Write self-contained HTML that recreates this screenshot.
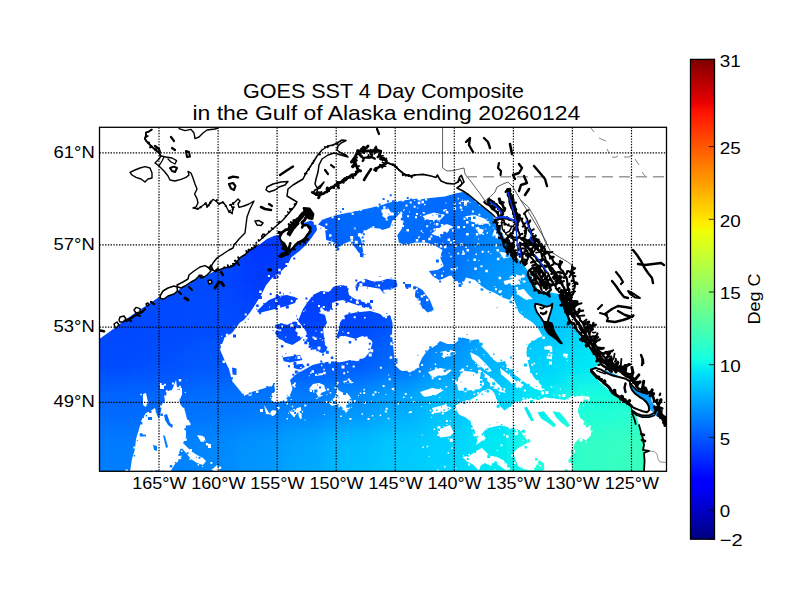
<!DOCTYPE html>
<html><head><meta charset="utf-8"><title>GOES SST</title>
<style>html,body{margin:0;padding:0;background:#fff;}svg{display:block;}text{font-family:"Liberation Sans",sans-serif;fill:#000;}</style></head><body>
<svg width="800" height="600" viewBox="0 0 800 600">
<rect width="800" height="600" fill="#fff"/>
<defs>
<clipPath id="fr"><rect x="99.5" y="127.3" width="567" height="344"/></clipPath>
<linearGradient id="jet" x1="0" y1="1" x2="0" y2="0">
<stop offset="0" stop-color="#000080"/>
<stop offset="0.11" stop-color="#0000ff"/>
<stop offset="0.125" stop-color="#0000ff"/>
<stop offset="0.34" stop-color="#00dbff"/>
<stop offset="0.35" stop-color="#00e5f7"/>
<stop offset="0.375" stop-color="#15ffe2"/>
<stop offset="0.64" stop-color="#efff08"/>
<stop offset="0.65" stop-color="#f7f600"/>
<stop offset="0.66" stop-color="#ffec00"/>
<stop offset="0.89" stop-color="#ff1300"/>
<stop offset="0.91" stop-color="#e80000"/>
<stop offset="1" stop-color="#800000"/>
</linearGradient>
<filter id="bl" x="-10%" y="-10%" width="120%" height="120%"><feGaussianBlur stdDeviation="12"/></filter>
<mask id="dm" maskUnits="userSpaceOnUse" x="0" y="0" width="800" height="600"><rect width="800" height="600" fill="#000"/>
<path d="M98 340 L112 330 L125 320 L135 313 L147 305 L160 296.5 L164 298.6 L168 296 L174 294 L177.5 291 L181 288 L188 284 L195 280 L201 275 L207 275 L215 271 L225 268 L235 264 L243 256 L249 251 L255 247 L259 245 L267 239 L275 235.5 L281 235 L295 226 L311 220.5 L316 223.5 L317 230 L311.5 238 L306 245 L299.5 251 L291.2 257.5 L287.5 265 L280 272.5 L272.5 277.5 L266.2 285 L261.2 295 L255 305 L250 312.5 L243.8 320 L240 322.5 L232 333 L224.5 337.5 L220 349.5 L224.5 360 L229 369 L232 381 L239.5 390 L244 396 L253 391.5 L263.5 388.5 L272.5 385.5 L273.8 382.5 L275 390 L271 400 L275 402.5 L282.5 401 L290 395 L292.5 388.8 L290 380 L295 375 L303.8 370 L312.5 365 L322.5 362.5 L332.5 361.2 L340 362.5 L350 360 L357.5 361.2 L365 357.5 L370 351.2 L372.5 342.5 L371 340 L362.5 336 L355 338.8 L345 336 L336 337.5 L338.8 330 L340 322.5 L345 315 L355 312.5 L370 311 L380 313.8 L383.8 317.5 L390 315 L392.5 322.5 L392 335 L393.8 352.5 L395 365 L400 370 L410 372.5 L417.5 368 L422 358 L427.5 350 L435 346 L440 341 L447.5 344 L454 344 L462.5 337.5 L472.5 340 L479 339 L480 345 L487.5 352.5 L492.5 359 L497.5 362.5 L505 361 L507.5 367.5 L515 375 L525 382.5 L535 389 L545 390 L575 396 L575 473 L98 473Z" fill="#fff"/>
<path d="M512.5 295 L516 305 L518.8 312.5 L525 317.5 L532.5 322.5 L537.5 327.5 L542.5 336 L535 340 L528.8 343.8 L526 350 L527.5 360 L530 370 L533.8 377.5 L540 383.8 L545 390 L555 395 L565 397.5 L573 395.5 L590 397 L579.5 404 L577.5 411 L580 418 L583.8 421 L590 427.5 L591 435 L586 440 L580 437.5 L575 442.5 L572.5 452.5 L570 460 L572.5 467.5 L572.5 473 L644 473 L644 461 L644 453 L643 450 L644 445 L643 439 L641 432 L639 425 L637 418 L635 412 L631 407.5 L625.8 402.2 L620.5 398.8 L615.2 395.2 L610 391 L604.8 386.5 L599.5 382 L596 377.8 L593.4 373.4 L590.8 370.4 L599.5 364 L594 355 L587 346 L580 336 L573 325 L566.5 312.5 L562 301 L559 294 L548 292 L540 291 L538 290 L531 276 L524 265 L515 256 L506 241 L499 227 L494 218 L491 213.5 L486 209 L481 205 L475 200 L469 195 L463 192 L455 193.5 L445 196.5 L430 198 L416 200 L410 204 L405 207.5 L401 212.5 L403.8 222.5 L401 230 L397.5 235 L398.8 242.5 L405 245 L415 242.5 L426 242.5 L433.8 245 L442.5 250 L440 257.5 L443.8 266 L437.5 270 L428.8 271 L432.5 276 L438.8 280 L442.5 279 L451 275 L455 281 L462.5 285 L466 277.5 L475 280 L480 285 L487.5 290 L494 292.5 L502.5 297.5 L510 300Z" fill="#fff"/>
<path d="M318 224.5 L322.5 219.5 L335 215.5 L352.5 211.8 L370 208 L383.8 204.5 L390 202.5 L400 203.5 L402 207 L400 210 L397.5 216 L392.5 220 L390 227.5 L382.5 230 L380 228.8 L370 227.5 L363.8 232.5 L355.5 237.5 L358 243 L361 248.8 L364 256.5 L360 253.8 L355 247.5 L351.2 242.5 L350 241.2 L341.2 245 L338.8 250 L335 242.5 L326.2 240 L325 227.5Z" fill="#fff"/>
<path d="M385 204 L392.5 202 L417.5 198.5 L417.5 210 L405 213.8 L395 215 L385 212.5Z" fill="#fff"/>
<path d="M350 231 L357.5 232.5 L361.2 240 L363.8 255 L358.8 252.5 L353.8 243.8 L351.2 237.5Z" fill="#fff"/>
<path d="M257 311 L263 305 L269 300 L279 296 L287 295 L297 298 L295 303 L289 305 L283 307 L275 309 L267 311 L259 313Z" fill="#fff"/>
<path d="M298 321 L303 309 L307 303 L313 295 L321 291 L329 292 L333 287 L339 285 L347 286 L349 295 L355 299 L363 302 L370 303 L371 307 L364 308 L357 305 L351 303 L343 300 L337 301 L332 303 L332 309 L325 311 L321 307 L319 313 L325 315 L327 323 L323 329 L324 337 L325 345 L329 349 L323 353 L315 351 L309 345 L305 339 L307 333 L303 327Z" fill="#fff"/>
<path d="M275 325 L281 323 L287 325 L295 321 L298 325 L295 331 L298 335 L303 337 L299 341 L291 339 L285 341 L279 339 L275 333 L277 329Z" fill="#fff"/>
<path d="M357.5 282.5 L365 278.8 L372.5 281.2 L380 281.2 L387.5 278.8 L396.2 280 L397.5 286.2 L390 290 L383.8 293.8 L380 288.8 L372.5 287.5 L365 286.2 L358.8 286.2 L357 291 L355 287Z" fill="#fff"/>
<path d="M416.2 286.2 L422.5 290 L430 300 L433.8 310 L427.5 312.5 L420 305 L415 295Z" fill="#fff"/>
<path d="M405 284 L411 284 L411 287.5 L405 287.5Z" fill="#fff"/>
<path d="M280 330 L290 327.5 L297.5 332.5 L300 340 L292.5 345 L285 342.5 L280 337.5Z" fill="#fff"/>
<path d="M306.2 332.5 L312.5 335 L320 342.5 L325 351.2 L320 352.5 L313.8 346.2 L307.5 340Z" fill="#fff"/>
<path d="M282.5 357.5 L300 355 L302.5 360 L290 362.5 L283.8 361.2Z" fill="#fff"/>
<path d="M293.8 365 L302.5 363.8 L305.5 367.5 L298.8 369.5 L293.8 368Z" fill="#fff"/>
<path d="M482.5 432.5 L487.5 427.5 L497.5 426.2 L507.5 427.5 L517.5 430 L525 436.2 L528.8 442.5 L522.5 441.2 L515 437.5 L507.5 436.2 L500 435 L492.5 436.2 L486.2 437.5Z" fill="#fff"/>
<path d="M130 472 L132 459 L135 449 L136 439 L139 429 L142 419 L146 413 L152 410 L155 408 L157 415 L159 419 L161 411 L162 404 L165 401 L164 395 L168 391 L172 390 L176 380 L177 387 L182 388 L182 395 L179 400 L181 405 L185 411 L187 419 L190 423 L186 429 L186 437 L183 443 L187 447 L191 451 L197 455 L203 458 L206 461 L203 465 L197 463 L191 459 L186 453 L181 447 L179 453 L181 459 L175 464 L170 472Z" fill="#000"/>
<path d="M143 394 L146 393 L148 402 L146 407 L143 405Z" fill="#000"/>
<path d="M160 385 L164 385 L164 389 L160 389Z" fill="#000"/>
<path d="M197 435 L203 436 L206 441 L201 442Z" fill="#000"/>
<path d="M208 444 L211 444 L211 448 L208 448Z" fill="#000"/>
<path d="M209 472 L217 465 L220 472Z" fill="#000"/>
<path d="M264 405 L266 414 L275 415 L277 411 L273 410 L269 413 L266 408Z" fill="#000"/>
<path d="M289 411 L294 412 L297 408 L301 407 L302 421 L299 417 L298 412 L294 417 L291 414Z" fill="#000"/>
<path d="M309 389 L313 384 L319 383 L324 385 L326 391 L321 393 L319 398 L315 391Z" fill="#000"/>
<path d="M329 403 L335 397 L337 389 L341 392 L347 393 L351 398 L347 402 L350 408 L346 413 L343 408 L338 404 L332 406Z" fill="#000"/>
<path d="M315 374 L323 373 L323 375 L315 376Z" fill="#000"/>
<path d="M343 381 L351 380 L352 383 L344 383.4Z" fill="#000"/>
<path d="M422.5 216.2 L433.8 212.5 L445 215 L440 220 L430 220 L425 218.8Z" fill="#000"/>
<path d="M431.2 233.8 L440 227.5 L446.2 223.8 L452.5 226.2 L447.5 232.5 L437.5 236.2Z" fill="#000"/>
<path d="M465 216.2 L475 215 L485 218.8 L490 223.8 L480 223.8 L470 221.2Z" fill="#000"/>
<path d="M457.5 197.5 L467.5 201.2 L466.2 206.2 L458.8 203.8Z" fill="#000"/>
<path d="M475 227.5 L485 230 L480 235Z" fill="#000"/>
<path d="M516.2 275 L525 276.2 L523.8 281.2 L517.5 280Z" fill="#000"/>
<path d="M500 302.5 L503.8 301.2 L504.5 307.5 L500 308.8Z" fill="#000"/>
<path d="M494.5 229.2 L499 233.8 L496.8 238.2 L492.2 236Z" fill="#000"/>
<path d="M499 251.8 L508 252.9 L511.4 257.4 L503.5 258.5Z" fill="#000"/>
<path d="M503.5 281 L512.5 278.8 L515.9 274.2 L523.8 277.6 L526 282.1 L517 284.4 L510.2 285.5 L504.6 284.4Z" fill="#000"/>
<path d="M515.9 290 L523.8 288.9 L528.2 294.5 L532.8 299 L526 300.1 L519.2 295.6Z" fill="#000"/>
<path d="M547 346.2 L552.2 346.2 L552.2 349.8 L547 349.8Z" fill="#000"/>
<path d="M562.8 353.2 L568 354.1 L567.1 358.5 L563.6 357.6Z" fill="#000"/>
<path d="M547.9 353.2 L552.2 354.1 L551.9 359.4 L548.4 358.5Z" fill="#000"/>
<path d="M381.2 210 L387.5 207.5 L391.2 212.5 L386.2 218.8 L382.5 216.2Z" fill="#000"/>
<path d="M455.8 405.2 L462.5 401.5 L471.5 399.2 L477.5 395.5 L482 391 L489.5 388.8 L494 392.5 L497 400 L500 406 L504.5 410.5 L510.5 406 L513.5 403 L517.5 402.5 L522.5 400 L530 398.8 L538.8 400 L545 397.5 L555 398.8 L565 400 L572.5 396.2 L573 395.5 L590 397 L579.5 404 L577.5 411 L580 418 L583.8 421 L590 427.5 L591 435 L586 440 L580 437.5 L575 442.5 L572.5 452.5 L570 460 L572.5 467.5 L572.5 473 L545 473 L543.5 463 L539 460 L536 466 L530 470.5 L524 469 L518 466 L515 458.5 L513.5 452.5 L518 448 L524 445 L528.5 442 L524 436 L519.5 430 L513.5 428.5 L507.5 427 L500 425.5 L492.5 427 L486.5 428.5 L482.8 433 L485 437.5 L480.5 442 L476 445 L477.5 440.5 L476 434.5 L473 427 L470 421 L465.5 417.2 L459.5 415 L456.5 410.5Z" fill="#000"/>
<path d="M462.5 457 L470 455.5 L476 451 L482 448 L485 451 L489.5 455.5 L497 457 L503 460 L507.5 464.5 L510.5 469 L506 470.5 L500 466 L495.5 463 L491 466 L485 463 L480.5 466 L479 470.5 L473 464.5 L467 461.5Z" fill="#000"/>
<path d="M437.5 430 L450 425 L453.8 432.5 L450 436.2 L440 437.5Z" fill="#000"/>
<path d="M457 384 L459 376 L464 371 L474 372 L481 377 L484 384 L480 389 L472 390 L464 391 L458 390Z" fill="#000"/>
<path d="M470 352 L478 356 L486 364 L492 371 L488 372 L480 366 L472 359Z" fill="#000"/>
<path d="M500 368 L508 374 L516 381 L522 388 L517 388 L509 381 L501 374Z" fill="#000"/>
<path d="M483 372 L492 378 L500 386 L506 393 L500 392 L492 385 L484 378Z" fill="#000"/>
<path d="M440 352 L450 350 L458 352 L452 356 L442 357Z" fill="#000"/>
<path d="M428 372 L440 368 L452 370 L446 375 L432 377Z" fill="#000"/>
<path d="M420 392 L432 388 L444 390 L436 395 L424 397Z" fill="#000"/>
<path d="M432 408 L444 405 L452 408 L446 412 L434 413Z" fill="#000"/>
<path d="M537.5 412.5 L543.8 411.2 L550 418.8 L556.2 425 L553.8 427.5 L547.5 422.5 L541.2 418.8Z" fill="#fff"/>
<path d="M552.5 411.2 L560 412.5 L566.2 420 L570 425 L567.5 427.5 L561.2 422.5 L556.2 417.5Z" fill="#fff"/>
<path d="M232 367.5 L236.5 368.4 L236.5 375 L232.6 374.4Z" fill="#fff"/>
<path d="M164 415 L167 414 L170 423 L173 425 L172 428 L168 425 L165 420Z" fill="#fff"/>
<path d="M148 417 L152 417 L152 420 L148 420Z" fill="#fff"/>
<path d="M163 435 L165 436 L168 447 L166 448Z" fill="#fff"/>
<path d="M140 434.6 L146 434.6 L146 436.4 L140 436.4Z" fill="#fff"/>
<path d="M153 445 L157 446 L157 451 L154 450Z" fill="#fff"/>
<path d="M524 407.5 L527 407 L531 414 L534 421 L531 421 L527 414Z" fill="#fff"/>
<path d="M299.8 255.2h1v1h-1zM285.5 263.1h3v3h-3zM278.2 268.7h2.5v2.5h-2.5zM267.9 274.9h2v2h-2zM267.5 287h1v1h-1zM259.2 290.5h2.5v2.5h-2.5zM257.3 300.9h1v1h-1zM244.7 313.4h2v2h-2zM233.5 325.8h1v1h-1zM225.9 333.8h2.5v2.5h-2.5zM221.3 335.7h1v1h-1zM220.6 344.1h2.5v2.5h-2.5zM221.7 351.3h1v1h-1zM223.6 351.8h2.5v2.5h-2.5zM222.5 360.6h2.5v2.5h-2.5zM248.5 392.8h3v3h-3zM250.5 389.2h1.5v1.5h-1.5zM255 389.3h1v1h-1zM255.9 390.4h2.5v2.5h-2.5zM258.8 382.2h3v3h-3zM270.3 385.1h1.5v1.5h-1.5zM270.4 382.2h2v2h-2zM271.7 392.9h3v3h-3zM270.2 396.9h1v1h-1zM271.8 398.8h1.5v1.5h-1.5zM278.1 401.6h1v1h-1zM284.2 398.4h3v3h-3zM294.1 386.1h1.5v1.5h-1.5zM292.5 383.9h2.5v2.5h-2.5zM288.9 374.7h2v2h-2zM303.6 367.3h1.5v1.5h-1.5zM305.3 367.3h1v1h-1zM311.5 370.3h2.5v2.5h-2.5zM311.6 360.3h2.5v2.5h-2.5zM317.3 360.7h1v1h-1zM320.9 364.7h1.5v1.5h-1.5zM323.3 361.8h1.5v1.5h-1.5zM328.5 361h2.5v2.5h-2.5zM341.5 365.5h3v3h-3zM346.5 362.9h1.5v1.5h-1.5zM349.1 356.9h2v2h-2zM351.4 360h1v1h-1zM357.5 359.4h1v1h-1zM368.7 353.4h3v3h-3zM370.2 349.2h3v3h-3zM365.1 336.6h2.5v2.5h-2.5zM362.5 339.2h2v2h-2zM347.3 332.1h2v2h-2zM342.4 331.2h1v1h-1zM340.5 336.1h2.5v2.5h-2.5zM337.4 326.7h1.5v1.5h-1.5zM336.1 325h2v2h-2zM342.3 316.8h2.5v2.5h-2.5zM343.5 312.5h1v1h-1zM352.6 310.4h2v2h-2zM353.7 316.2h2v2h-2zM364.1 317.1h1.5v1.5h-1.5zM365.2 307.3h2v2h-2zM376.3 310.6h2v2h-2zM378.5 311.6h2v2h-2zM385 316.3h2v2h-2zM393.4 327h3v3h-3zM390.3 334.8h2.5v2.5h-2.5zM390.2 342.3h3v3h-3zM389.7 356.2h2.5v2.5h-2.5zM400 364.3h2.5v2.5h-2.5zM401.6 368.1h3v3h-3zM409.6 374.4h1v1h-1zM413.5 369h1.5v1.5h-1.5zM413.9 366.1h2.5v2.5h-2.5zM416.7 365.2h2.5v2.5h-2.5zM421.1 363.9h2v2h-2zM426.4 349.3h1.5v1.5h-1.5zM431.1 346.5h1.5v1.5h-1.5zM430.4 342.9h2.5v2.5h-2.5zM435.8 343.6h1.5v1.5h-1.5zM455.6 335.3h3v3h-3zM464.1 329.1h1v1h-1zM469.5 341.5h1v1h-1zM469.6 337.5h3v3h-3zM478.2 337.8h2v2h-2zM483.3 354h1v1h-1zM495.7 347.4h2v2h-2zM496.9 355.1h2.5v2.5h-2.5zM506.4 366h2v2h-2zM509.2 373.6h3v3h-3zM516.9 380.8h2v2h-2zM518.1 381.7h2.5v2.5h-2.5zM524.2 380.5h1v1h-1zM537.3 387.5h2.5v2.5h-2.5zM539.4 387.5h3v3h-3zM541.1 391.6h3v3h-3zM514.6 315.1h2v2h-2zM521.1 311.5h1v1h-1zM526 324.6h3v3h-3zM537.8 330.9h2v2h-2zM542.3 336.4h2.5v2.5h-2.5zM530 348h1v1h-1zM523.7 348.7h3v3h-3zM526.6 357.1h3v3h-3zM525.1 358.7h1v1h-1zM527 371.7h1v1h-1zM545.4 391h3v3h-3zM550.8 386.2h1.5v1.5h-1.5zM553.4 394.4h1v1h-1zM559.9 388.8h1v1h-1zM558.4 394.7h2v2h-2zM562.3 393.9h3v3h-3zM570.7 395.9h1v1h-1zM425.1 198.4h2v2h-2zM421.9 194.6h2v2h-2zM418.8 198.5h2v2h-2zM414.2 200h1v1h-1zM405.5 204.5h2v2h-2zM403.2 210.1h1v1h-1zM399.1 213.6h3v3h-3zM407.1 215.2h2v2h-2zM402 225.1h2v2h-2zM400.1 227.8h1.5v1.5h-1.5zM405.6 243.5h1.5v1.5h-1.5zM412.5 246.6h2v2h-2zM417.9 248.2h1.5v1.5h-1.5zM419 246.6h1.5v1.5h-1.5zM423.1 240.6h2v2h-2zM425 244.5h1v1h-1zM428.3 237.7h2.5v2.5h-2.5zM429.9 243.9h2.5v2.5h-2.5zM434.4 243.1h1v1h-1zM435.5 243.5h2v2h-2zM438.8 251.2h1v1h-1zM448.7 252.7h1v1h-1zM441.1 255.7h1v1h-1zM437.5 255.7h3v3h-3zM421.8 273h2.5v2.5h-2.5zM433.8 274h2v2h-2zM431.7 279.2h3v3h-3zM448.6 280.5h1.5v1.5h-1.5zM455.7 281h2v2h-2zM462.2 281.5h2v2h-2zM478.2 279.5h1.5v1.5h-1.5zM478.8 283.9h1.5v1.5h-1.5zM499 290.4h2v2h-2zM499.8 290.3h2v2h-2zM500.7 295.3h1.5v1.5h-1.5zM313.8 221.8h3v3h-3zM323.4 218.5h1v1h-1zM325.4 223.5h2v2h-2zM326.4 213.9h1v1h-1zM331.6 216.3h2v2h-2zM337.9 218h2v2h-2zM349.7 209.6h3v3h-3zM351.7 212.9h2v2h-2zM351.8 205.2h2v2h-2zM356.1 207.8h3v3h-3zM360.1 209.6h1.5v1.5h-1.5zM361.4 208.8h1v1h-1zM362.1 205.8h3v3h-3zM372.6 202.9h2.5v2.5h-2.5zM377.1 205.3h2v2h-2zM384 200.4h1.5v1.5h-1.5zM401.7 200.6h1v1h-1zM378.7 228.5h1v1h-1zM377.1 229.9h2v2h-2zM373.3 229.9h1v1h-1zM372.3 226.2h2v2h-2zM368.5 229.8h1.5v1.5h-1.5zM363.5 230.2h3v3h-3zM358 234.9h1.5v1.5h-1.5zM356.1 240.8h1v1h-1zM351.1 248.9h2.5v2.5h-2.5zM354.7 240.7h3v3h-3zM349.7 241.7h1v1h-1zM347.3 243.8h2v2h-2zM338.5 246.5h2v2h-2zM339 244h1v1h-1zM331.2 239.6h1v1h-1zM329 234.3h2.5v2.5h-2.5zM324.7 228.9h2.5v2.5h-2.5zM323.4 228.3h1v1h-1zM397.1 201h1v1h-1zM402.6 200.1h1.5v1.5h-1.5zM408.4 195.9h3v3h-3zM414.6 194.9h2v2h-2zM417.7 199.3h1v1h-1zM417.8 201.7h2.5v2.5h-2.5zM417.2 207.6h1v1h-1zM415.9 213h2v2h-2zM409 211.6h1v1h-1zM403.7 209.1h1v1h-1zM400.3 211.7h2v2h-2zM398 212h1v1h-1zM390.8 212.6h3v3h-3zM388.3 213h2.5v2.5h-2.5zM353.6 227.6h2v2h-2zM357.9 232.9h3v3h-3zM362.3 252.1h1v1h-1zM356 252.7h1v1h-1zM359.2 245.1h2v2h-2zM351.8 243.3h1v1h-1zM350.7 239.3h2.5v2.5h-2.5zM350.2 236h3v3h-3zM258.4 305.3h2v2h-2zM275.2 299.6h2.5v2.5h-2.5zM280.3 296.3h1v1h-1zM290.8 299.9h2v2h-2zM288.5 306.1h2v2h-2zM283.5 306.9h1v1h-1zM277.1 305.3h3v3h-3zM279.2 310.6h1.5v1.5h-1.5zM268.9 306.6h1v1h-1zM265.3 314.4h1v1h-1zM294.4 317.5h2v2h-2zM303.3 311.1h1v1h-1zM304.7 309.6h1v1h-1zM312.3 300.8h1v1h-1zM311.6 295h1.5v1.5h-1.5zM311.2 287.9h2v2h-2zM320.6 288h2v2h-2zM323.1 292h2v2h-2zM330.1 289.4h1v1h-1zM331.5 287.2h1v1h-1zM337 282.4h3v3h-3zM340.1 286h1v1h-1zM350.1 292.8h1v1h-1zM350.3 299.1h1.5v1.5h-1.5zM357.3 298.4h2v2h-2zM365.1 301.8h2v2h-2zM361.3 307.7h2.5v2.5h-2.5zM358.9 305.2h3v3h-3zM355.9 300.8h3v3h-3zM351.3 297.6h1v1h-1zM338.4 302h1v1h-1zM322.7 305.9h2v2h-2zM318 305h2v2h-2zM327.1 317.8h1v1h-1zM328.3 322.7h2v2h-2zM320.7 331.2h2v2h-2zM324.8 335.1h1v1h-1zM326.6 348.1h3v3h-3zM319.2 349.6h1v1h-1zM313.9 349.6h2.5v2.5h-2.5zM306.2 333.7h1v1h-1zM303 329.5h1.5v1.5h-1.5zM303.8 324h1v1h-1zM278.8 322.9h1v1h-1zM284.2 322.1h1.5v1.5h-1.5zM287.7 321.4h1.5v1.5h-1.5zM294.1 320.5h1v1h-1zM290.4 324.2h3v3h-3zM298.2 329.4h1v1h-1zM300.1 335.4h2v2h-2zM303.1 339.3h1.5v1.5h-1.5zM276.6 329.1h2v2h-2zM361.1 279.9h1.5v1.5h-1.5zM362.2 279.5h3v3h-3zM374.3 281.2h1v1h-1zM376.4 277.1h1v1h-1zM382.2 281h1v1h-1zM390.7 287.8h1v1h-1zM386.5 289.6h3v3h-3zM383.4 289.8h3v3h-3zM378.1 284.4h2v2h-2zM375.6 285.6h1v1h-1zM370.7 288.2h2v2h-2zM362.9 286.7h2v2h-2zM359.4 283.3h3v3h-3zM354.4 285h2v2h-2zM353.1 284.9h2.5v2.5h-2.5zM421.2 282.4h1v1h-1zM428.6 292.7h1v1h-1zM426 298.8h2.5v2.5h-2.5zM431 299.1h2.5v2.5h-2.5zM434.5 300.2h2v2h-2zM423.5 312.9h2v2h-2zM419.9 304.4h2.5v2.5h-2.5zM417.6 300.6h3v3h-3zM417.2 298.2h1.5v1.5h-1.5zM415.1 287.8h2.5v2.5h-2.5zM406.6 281.4h1.5v1.5h-1.5zM410.5 290h3v3h-3zM279.2 329.6h2v2h-2zM281.1 325.6h2v2h-2zM291 322.4h1v1h-1zM297.3 333.8h2.5v2.5h-2.5zM292.1 346.8h2v2h-2zM288 346.3h2v2h-2zM280 340.8h2v2h-2zM285.3 336.5h1v1h-1zM315.3 330.5h1v1h-1zM312.5 336.6h2v2h-2zM314.2 337.5h2.5v2.5h-2.5zM319.7 338h1v1h-1zM321.8 339.7h1v1h-1zM317.5 346.4h3v3h-3zM317.1 351.3h2v2h-2zM306.3 341.8h2.5v2.5h-2.5zM304.9 336.9h2.5v2.5h-2.5zM287.6 358.5h1v1h-1zM295.6 348.5h2.5v2.5h-2.5zM297.4 356h3v3h-3zM299.4 357.9h1v1h-1zM295.3 357.5h1v1h-1zM280.8 361.5h2v2h-2zM305.3 365.6h1v1h-1zM299 370.6h1.5v1.5h-1.5zM489.9 424.7h2v2h-2zM508.6 424.1h2v2h-2zM508.8 426.2h2.5v2.5h-2.5zM515.3 425.5h2v2h-2zM515.6 429h2v2h-2zM522.6 440.1h1v1h-1zM514.6 432.2h3v3h-3zM506 435.2h2.5v2.5h-2.5zM503.5 433.9h1.5v1.5h-1.5zM125.4 469.6h2.5v2.5h-2.5zM130.7 470.2h1v1h-1zM134.9 465.4h1.5v1.5h-1.5zM135.6 449.6h3v3h-3zM133.4 446.4h2v2h-2zM150.8 410.4h2v2h-2zM159.4 417.1h1v1h-1zM160.1 405.4h2v2h-2zM166.6 397.9h1v1h-1zM165.7 394.8h1v1h-1zM165.8 390.2h2v2h-2zM172 382.5h2v2h-2zM178.7 378.9h2.5v2.5h-2.5zM178.9 385.8h2v2h-2zM184.7 392.1h1v1h-1zM178.7 396.2h2v2h-2zM179.2 399.4h1v1h-1zM181.4 407.8h3v3h-3zM187.2 420.2h2v2h-2zM188 422.7h2.5v2.5h-2.5zM186.1 438.4h1v1h-1zM184.1 438.6h2.5v2.5h-2.5zM181.7 445.1h1v1h-1zM189.5 448.9h2.5v2.5h-2.5zM210.3 462.1h2v2h-2zM202.2 466h1v1h-1zM197.6 464h1.5v1.5h-1.5zM189.4 458.5h1.5v1.5h-1.5zM179.9 455.6h1.5v1.5h-1.5zM179.3 445.8h3v3h-3zM181 450.6h1.5v1.5h-1.5zM173.4 452.6h3v3h-3zM179.8 457.6h1.5v1.5h-1.5zM173.7 460.3h2.5v2.5h-2.5zM165.9 469.3h1v1h-1zM159.5 471.5h2v2h-2zM153.1 469.5h1.5v1.5h-1.5zM148.1 472.4h1v1h-1zM129.8 470.3h3v3h-3zM143.8 394.4h2v2h-2zM140.3 393.7h1.5v1.5h-1.5zM146.7 400.9h1.5v1.5h-1.5zM142.9 396.1h2v2h-2zM159.6 383h2v2h-2zM163.9 383.8h2v2h-2zM205.9 442.9h2.5v2.5h-2.5zM202.1 437h2.5v2.5h-2.5zM218.7 466.5h2.5v2.5h-2.5zM219.2 467.5h1.5v1.5h-1.5zM215.8 472.5h1v1h-1zM260 409h3v3h-3zM266.1 411.7h2v2h-2zM270.6 411.2h1.5v1.5h-1.5zM271.6 413.9h2v2h-2zM277 406.8h2.5v2.5h-2.5zM271.6 412.7h2v2h-2zM266.7 411.4h1v1h-1zM291.4 409.7h1v1h-1zM293.4 409.1h1.5v1.5h-1.5zM304.3 404.6h2v2h-2zM299.6 409.4h1v1h-1zM293 414.7h2v2h-2zM309.4 389.6h1.5v1.5h-1.5zM326.5 394.2h1v1h-1zM319.8 394.7h1.5v1.5h-1.5zM316.9 397.4h1v1h-1zM310 389.9h2v2h-2zM325.3 401h2v2h-2zM340.3 391.6h1v1h-1zM348.6 400.2h3v3h-3zM342.5 408.2h2v2h-2zM338.3 405.2h2v2h-2zM337.2 401.4h2v2h-2zM323.2 371.8h2.5v2.5h-2.5zM347.8 378.4h2v2h-2zM422.7 212.1h2v2h-2zM427 214.3h1v1h-1zM439 220.6h1v1h-1zM436.3 219.4h2v2h-2zM433 220h1.5v1.5h-1.5zM429.9 222.2h1v1h-1zM424.7 218.3h1.5v1.5h-1.5zM430.3 235.5h2v2h-2zM430.3 230.5h1v1h-1zM433.4 228.4h2v2h-2zM435.9 227.9h3v3h-3zM440.8 229.1h2.5v2.5h-2.5zM440.9 224.1h2.5v2.5h-2.5zM452.2 226.3h1v1h-1zM439 235.3h2v2h-2zM437 231.3h2v2h-2zM463.5 217.8h2v2h-2zM466.8 216.7h2v2h-2zM471.9 210.4h2v2h-2zM481.2 219.7h3v3h-3zM488.8 224.3h1.5v1.5h-1.5zM488.3 221h1v1h-1zM481.9 223.6h1.5v1.5h-1.5zM478.4 222h3v3h-3zM477.2 221.4h2v2h-2zM475.2 222.2h2v2h-2zM466.8 200.2h2v2h-2zM464.7 203.8h2v2h-2zM476.7 226.9h2.5v2.5h-2.5zM482.4 233.5h1.5v1.5h-1.5zM522 274.4h2.5v2.5h-2.5zM523.7 279.7h1v1h-1zM511.5 277.1h1v1h-1zM501.5 301.4h1.5v1.5h-1.5zM502 303.5h2v2h-2zM500.4 256.4h1v1h-1zM504.4 253.5h1.5v1.5h-1.5zM508.8 275.9h2v2h-2zM511.3 275.2h3v3h-3zM518.3 282.4h2v2h-2zM513.3 283.6h2v2h-2zM515.7 287.1h2.5v2.5h-2.5zM521.8 289.9h2v2h-2zM529.7 297.9h1v1h-1zM522.5 293.7h2v2h-2zM516.6 292.8h2v2h-2zM544.3 346.5h3v3h-3zM547.6 345.8h3v3h-3zM549.8 349.8h2.5v2.5h-2.5zM563.2 354.5h3v3h-3zM566.8 360.3h1v1h-1zM550.8 354h1.5v1.5h-1.5zM549 361.6h3v3h-3zM546.7 355.8h3v3h-3zM383.2 206.3h2.5v2.5h-2.5zM388.1 210h1v1h-1zM386.2 214.1h2v2h-2zM385.7 218.4h2v2h-2zM453.3 403.6h1v1h-1zM477.2 392.3h2v2h-2zM490.1 383.4h3v3h-3zM489.7 390.8h3v3h-3zM499.3 411h2v2h-2zM514.1 403.4h2v2h-2zM515.6 401.4h3v3h-3zM522.5 397.5h2v2h-2zM526.6 397.9h1.5v1.5h-1.5zM529.9 397.8h2v2h-2zM534.9 398.6h1v1h-1zM538.3 395.9h1.5v1.5h-1.5zM544.2 397.5h2.5v2.5h-2.5zM547.2 397.8h1v1h-1zM552.7 398.2h2v2h-2zM559 395.7h1.5v1.5h-1.5zM563 400.3h1.5v1.5h-1.5zM564.5 394.4h1v1h-1zM570.3 397.5h2v2h-2zM581.7 394.4h1v1h-1zM587 391.7h1v1h-1zM586.6 398h3v3h-3zM582.8 404.9h1v1h-1zM579.4 408h1.5v1.5h-1.5zM588.9 425.5h2v2h-2zM590.9 430.8h1.5v1.5h-1.5zM585.9 441.3h1v1h-1zM579.5 438.4h3v3h-3zM579.6 435.4h2.5v2.5h-2.5zM574.1 441.3h1v1h-1zM571.9 449.7h3v3h-3zM570.7 472.2h3v3h-3zM569.9 475.4h2v2h-2zM555.3 472.4h2v2h-2zM550.3 475h2v2h-2zM549.6 470.5h2v2h-2zM542.3 470.4h3v3h-3zM543.8 469.4h2v2h-2zM539.6 465h1.5v1.5h-1.5zM540.8 458.4h1v1h-1zM537 463.3h1.5v1.5h-1.5zM532.9 465.6h2.5v2.5h-2.5zM531.5 467.4h2.5v2.5h-2.5zM518.2 463.6h1v1h-1zM513.5 462h2v2h-2zM511.1 454.7h2v2h-2zM527.8 439.7h1.5v1.5h-1.5zM498.8 427.9h1v1h-1zM486.3 428.9h1v1h-1zM484.1 437.4h1.5v1.5h-1.5zM481.5 437.6h3v3h-3zM473.4 433.7h2.5v2.5h-2.5zM474.6 428.8h1.5v1.5h-1.5zM471.4 427.5h2v2h-2zM464.6 416.2h1v1h-1zM462.7 411.3h3v3h-3zM454.2 408.4h2v2h-2zM462.9 455.2h1v1h-1zM469.3 455.9h1.5v1.5h-1.5zM481.3 448h1v1h-1zM482.4 451.3h2v2h-2zM501.9 460.4h2v2h-2zM468.1 463.5h2v2h-2zM437.4 426.2h3v3h-3zM443.5 426.1h1v1h-1zM446.3 424.1h1v1h-1zM449.8 438.8h3v3h-3zM447.8 438.3h1v1h-1zM442.9 434.4h2.5v2.5h-2.5zM437.4 433.9h2v2h-2zM439.8 430.2h2v2h-2zM455.5 381.8h2.5v2.5h-2.5zM461.2 368.5h3v3h-3zM464.6 371.6h2.5v2.5h-2.5zM478.1 369.7h3v3h-3zM477.5 373h3v3h-3zM479.7 379.3h2v2h-2zM480.8 382.2h3v3h-3zM472.3 389.2h2v2h-2zM471.9 388.1h2.5v2.5h-2.5zM464.5 390.2h2v2h-2zM483.8 369.2h1v1h-1zM478.5 365.5h2v2h-2zM477.4 363.2h2v2h-2zM475.1 363.1h1v1h-1zM502.5 365h1.5v1.5h-1.5zM502.9 373h2v2h-2zM519.9 380.7h1.5v1.5h-1.5zM520.2 383.2h3v3h-3zM518.4 384.1h3v3h-3zM510.8 381.6h2v2h-2zM501.3 371.7h3v3h-3zM493.5 379.5h1v1h-1zM502.7 387.9h2.5v2.5h-2.5zM498.5 393.3h1.5v1.5h-1.5zM493.7 387.1h2v2h-2zM443.1 356h2v2h-2zM430.1 368.4h1v1h-1zM434.9 368.6h3v3h-3zM435.1 367.2h1.5v1.5h-1.5zM446.1 368.3h1v1h-1zM443 373.1h1.5v1.5h-1.5zM438.2 374.3h1.5v1.5h-1.5zM432 373.1h2.5v2.5h-2.5zM431.7 377.3h2v2h-2zM427.6 390.1h2v2h-2zM431.3 393h1v1h-1zM439.8 388.1h1.5v1.5h-1.5zM429.2 402.2h1.5v1.5h-1.5zM431.6 411.7h2.5v2.5h-2.5zM480.9 232.6h1.5v1.5h-1.5zM423.3 294h2v2h-2zM450.2 255.8h1.5v1.5h-1.5zM418.8 263.1h1v1h-1zM485.9 202.8h2.5v2.5h-2.5zM421.4 281.3h2.5v2.5h-2.5zM422.4 232.1h1v1h-1zM457.3 226h2.5v2.5h-2.5zM424.5 219.2h1v1h-1zM485.3 269.7h2.5v2.5h-2.5zM461.6 253.9h1v1h-1zM484.8 298.2h1.5v1.5h-1.5zM475.6 285h1v1h-1zM459.8 282.7h1v1h-1zM430.8 262.7h1v1h-1zM438.4 253h2.5v2.5h-2.5zM476.4 294.6h1.5v1.5h-1.5zM425.8 247.2h1.5v1.5h-1.5zM478 238.4h1v1h-1zM410 263.2h2v2h-2zM477.2 243.3h2v2h-2zM498.6 290.5h2.5v2.5h-2.5zM410.3 247.2h1v1h-1zM419 253.1h1v1h-1zM485.1 291.5h2.5v2.5h-2.5zM459.7 206.2h2.5v2.5h-2.5zM418.9 282.9h1v1h-1zM471.6 224h2.5v2.5h-2.5zM415.8 239h2.5v2.5h-2.5zM414.8 285.5h1.5v1.5h-1.5zM429.8 277.2h1v1h-1zM420.3 214.9h1v1h-1zM496 223.3h2.5v2.5h-2.5zM496.9 257.7h2.5v2.5h-2.5zM451.5 226.8h1v1h-1zM449.8 241.5h2v2h-2zM432.3 287.4h1v1h-1zM461.2 207.1h1v1h-1zM474.8 200.9h1v1h-1zM453.5 267.9h2.5v2.5h-2.5zM420.7 295.1h2.5v2.5h-2.5zM432 287.7h2.5v2.5h-2.5zM423.4 282.8h2.5v2.5h-2.5zM485.3 228.4h1v1h-1zM486.5 232.3h1.5v1.5h-1.5zM478.7 297h2.5v2.5h-2.5zM498.6 276.8h2.5v2.5h-2.5zM452.9 240h2v2h-2zM441 274.7h2v2h-2zM492.9 227.4h1v1h-1zM418.8 236h1v1h-1zM425.2 282.4h1v1h-1zM455.1 285.6h1v1h-1zM465.7 282.3h2v2h-2zM480.5 265.3h2v2h-2zM410.7 251.6h2.5v2.5h-2.5zM413.2 270.2h1v1h-1zM439.2 264.7h1v1h-1zM409.5 274.8h1.5v1.5h-1.5zM452.1 278.8h1v1h-1zM445.8 211h2.5v2.5h-2.5zM479.2 203.8h2v2h-2zM482.7 293.7h1.5v1.5h-1.5zM456.6 266.8h1v1h-1zM409.3 299.9h2.5v2.5h-2.5zM453.6 207.2h2.5v2.5h-2.5zM424.4 256.8h2v2h-2zM435.8 223h2.5v2.5h-2.5zM459.9 294h2.5v2.5h-2.5zM475.1 287.1h1.5v1.5h-1.5zM443.2 209.6h2v2h-2zM466.1 233.1h2.5v2.5h-2.5zM423.2 250.1h1.5v1.5h-1.5zM429.2 279.6h1.5v1.5h-1.5zM437.7 214.6h2v2h-2zM455 244.7h2v2h-2zM451.8 269.6h1v1h-1zM450.6 268.2h2v2h-2zM432.5 296.5h2v2h-2zM460.3 243.2h2.5v2.5h-2.5zM470.7 287.7h1v1h-1zM470.3 280.5h2v2h-2zM449.9 291.5h1.5v1.5h-1.5zM441.7 286.7h2.5v2.5h-2.5zM463.1 226.1h2v2h-2zM494.9 243.9h2.5v2.5h-2.5zM469.7 202h1v1h-1zM441.9 290.6h2v2h-2zM467.4 259.8h1v1h-1zM438.3 214.6h2.5v2.5h-2.5zM471.4 214.4h1v1h-1zM451.8 229.4h2v2h-2zM495 288.3h2v2h-2zM478.4 213.7h2v2h-2zM445.5 202.4h1v1h-1zM453.4 243.2h1.5v1.5h-1.5zM473.4 258.6h2.5v2.5h-2.5zM415.2 299.7h1v1h-1zM413.6 205.8h2v2h-2zM451.2 227.8h1v1h-1zM487.8 251h1.5v1.5h-1.5zM460.5 287.4h1v1h-1zM468 279.4h1.5v1.5h-1.5zM422 256h1.5v1.5h-1.5zM431.4 294.8h1v1h-1zM475.5 253.5h1.5v1.5h-1.5zM439.8 245h2.5v2.5h-2.5zM494.8 211.4h2.5v2.5h-2.5zM447.6 238.4h2.5v2.5h-2.5zM461.1 209.6h1.5v1.5h-1.5zM416.6 249.7h2v2h-2zM481.6 250.7h2v2h-2zM475.8 233h2.5v2.5h-2.5zM439.7 231.5h1v1h-1zM409.2 296.8h1.5v1.5h-1.5zM478.5 260h1v1h-1zM445.2 209.1h1.5v1.5h-1.5zM474.3 267.5h2.5v2.5h-2.5zM426.7 248.7h1.5v1.5h-1.5zM434 223.6h1v1h-1zM466.5 248.9h2.5v2.5h-2.5zM422.2 240h2.5v2.5h-2.5zM419.4 203h1v1h-1zM409.7 201.6h2v2h-2zM496.5 249.1h2.5v2.5h-2.5zM453.3 283h2.5v2.5h-2.5zM494.3 286h1v1h-1zM463 290.5h1v1h-1zM417.9 236.7h1.5v1.5h-1.5zM415 216.3h2v2h-2zM476.8 292.3h1v1h-1zM497.1 236.8h2v2h-2zM406.5 229h2.5v2.5h-2.5zM426.2 225.3h2v2h-2zM421.5 200.7h2.5v2.5h-2.5zM486.6 218.6h1v1h-1zM480.5 203h2.5v2.5h-2.5zM466 221.1h2.5v2.5h-2.5zM417.3 292h1v1h-1zM484.3 291.9h1.5v1.5h-1.5zM465.3 246.5h1.5v1.5h-1.5zM456.6 268.1h1v1h-1zM417.2 277.5h1v1h-1zM453.7 202.7h2v2h-2zM445 244.9h1.5v1.5h-1.5zM427.8 282.7h1.5v1.5h-1.5zM478.5 281.1h2v2h-2zM462.3 252.2h2.5v2.5h-2.5zM442.9 271.1h1v1h-1zM424 203.7h1.5v1.5h-1.5zM442.3 242.7h1v1h-1zM457.2 252.4h2v2h-2zM462.4 250.5h1.5v1.5h-1.5zM420.7 230.2h1.5v1.5h-1.5zM490.3 253.3h1v1h-1zM405.1 277.7h2v2h-2zM442.3 214.6h1.5v1.5h-1.5zM474.9 245.5h1v1h-1zM443.9 245.7h2.5v2.5h-2.5zM429.2 285.6h1v1h-1zM468.8 371.6h1.5v1.5h-1.5zM290.8 399h1v1h-1zM468.6 410.1h1v1h-1zM363.5 388.9h1.5v1.5h-1.5zM340.3 415.5h1.5v1.5h-1.5zM361.5 413.3h1.5v1.5h-1.5zM336.6 381.8h2v2h-2zM333.1 369.7h1v1h-1zM457.7 399.4h1v1h-1zM374.5 391.2h2v2h-2zM441.8 412.6h2v2h-2zM291.7 405.8h1.5v1.5h-1.5zM438.7 378h2v2h-2zM444.7 403.8h2v2h-2zM321.8 386.5h1.5v1.5h-1.5zM286.5 418h1.5v1.5h-1.5zM351.1 406.8h1v1h-1zM288.1 366.1h2v2h-2zM445.6 386h1.5v1.5h-1.5zM452.3 378.7h1.5v1.5h-1.5zM367.5 417.9h2v2h-2zM345 406.1h2v2h-2zM391.8 388.1h2v2h-2zM410.6 396.8h1.5v1.5h-1.5zM316.2 398h1v1h-1zM459.6 370.1h1.5v1.5h-1.5zM336 383.6h1.5v1.5h-1.5zM321.7 395.1h1v1h-1zM343.2 372.2h2v2h-2zM350.2 398.3h1v1h-1zM310.1 372.3h1.5v1.5h-1.5zM433.8 375.3h2v2h-2zM384.8 410.6h2v2h-2zM392.6 388.2h2v2h-2zM320.3 395.8h1v1h-1zM304.6 419.6h1v1h-1zM404.7 392.9h2v2h-2zM346.2 400.1h1v1h-1zM353.9 400.3h2v2h-2zM397.5 403h1.5v1.5h-1.5zM378.3 392h1v1h-1zM287.3 382.2h1.5v1.5h-1.5zM332 368.2h2v2h-2zM388.2 374.5h1v1h-1zM349.4 418h2v2h-2zM352.7 365.5h2v2h-2zM323.3 368.8h1.5v1.5h-1.5zM347 371.3h1.5v1.5h-1.5zM359.8 392.4h1.5v1.5h-1.5zM412.9 401.1h2v2h-2zM446 420h2v2h-2zM301.6 411.1h1.5v1.5h-1.5zM300.1 366.4h1.5v1.5h-1.5zM358 394.9h1v1h-1zM388.7 378.2h2v2h-2zM363.6 388.8h1v1h-1zM379.9 366.8h2v2h-2zM308.8 375.2h1v1h-1zM385.3 394h1v1h-1zM387.8 417.8h1.5v1.5h-1.5zM317.8 383h2v2h-2zM336.7 388.3h1.5v1.5h-1.5zM350 418.3h1v1h-1zM409.8 410.9h2v2h-2zM385.7 407.8h2v2h-2zM286.5 402.9h1.5v1.5h-1.5zM429.7 409.7h1.5v1.5h-1.5zM293.9 382.6h2v2h-2zM290.6 399.1h1v1h-1zM288.7 395.2h1.5v1.5h-1.5zM288.1 412.8h1v1h-1zM465.9 400.2h2v2h-2zM468.9 414.5h1v1h-1zM329.7 391.9h1.5v1.5h-1.5zM371 400.7h1v1h-1zM408.7 411.8h1.5v1.5h-1.5zM377.6 401.4h1v1h-1zM371.8 415h1.5v1.5h-1.5zM313 390.9h1.5v1.5h-1.5zM382.6 385h2v2h-2zM363.2 392.1h2v2h-2zM363.8 401.8h2v2h-2zM379.7 414.4h1.5v1.5h-1.5zM351.5 381.9h2v2h-2zM403 396.6h1.5v1.5h-1.5zM323.9 414.1h1v1h-1zM372.4 393.8h2v2h-2zM418.7 370.4h2v2h-2zM334.6 386.8h2v2h-2zM326.9 388.5h2v2h-2zM482.9 356h1v1h-1zM421.8 434.4h1v1h-1zM422.3 446.5h1.5v1.5h-1.5zM447.6 452.2h1.5v1.5h-1.5zM466.5 365.5h1.5v1.5h-1.5zM528.1 444.2h1.5v1.5h-1.5zM496.9 450h1v1h-1zM497.9 418.5h1v1h-1zM489.6 460.8h2v2h-2zM477 413.6h1.5v1.5h-1.5zM512.5 408.6h1v1h-1zM479.6 398.4h1v1h-1zM426.7 445.7h1.5v1.5h-1.5zM516.4 431.3h2v2h-2zM471.4 349.7h1v1h-1zM437.2 469.4h1.5v1.5h-1.5zM439.3 397.1h1v1h-1zM470.1 367.9h2v2h-2zM533 435.2h1v1h-1zM459 389.2h1.5v1.5h-1.5zM533.6 362.7h1.5v1.5h-1.5zM533.3 385.6h1v1h-1zM472.4 430.8h1.5v1.5h-1.5zM428.6 456.3h1v1h-1zM523.3 444.5h1.5v1.5h-1.5zM536.7 380.2h2v2h-2zM501 463.4h1.5v1.5h-1.5zM535.6 461.6h1v1h-1zM481.1 371h1v1h-1zM531.9 437.5h1.5v1.5h-1.5zM471.1 423.5h1.5v1.5h-1.5zM473.7 393.5h1.5v1.5h-1.5zM526.6 387.1h1v1h-1zM454.5 380.2h2v2h-2zM434.7 363.5h1.5v1.5h-1.5zM433.7 388.8h2v2h-2zM535.9 373.1h1.5v1.5h-1.5zM531.2 363.8h2v2h-2zM519.5 420.2h1v1h-1zM494.5 468.9h1v1h-1zM498.9 352h1v1h-1zM442.2 402.1h1v1h-1zM506.8 354.5h1v1h-1zM525.3 425.7h2v2h-2zM498.4 385h1.5v1.5h-1.5zM460.7 373.1h2v2h-2zM423.3 375.5h1v1h-1zM468 454.1h2v2h-2zM482.3 426.8h2v2h-2zM449.9 420.6h1v1h-1zM435.7 352h1v1h-1zM500.5 444.2h2v2h-2zM506 369.1h1.5v1.5h-1.5zM523.9 389.5h2v2h-2zM433.6 428.4h1.5v1.5h-1.5zM533.6 415.7h1v1h-1zM455.5 467.7h1v1h-1zM451.2 447.5h1.5v1.5h-1.5zM520.4 379.7h2v2h-2zM499.4 461.2h1v1h-1zM503.3 348.6h2v2h-2zM534.9 459.6h2v2h-2zM421.1 406h1v1h-1zM475.9 348.8h1v1h-1zM521.7 404h2v2h-2zM526.1 364.7h1v1h-1zM477.4 366.1h1.5v1.5h-1.5zM444 466h1.5v1.5h-1.5zM472.6 432.2h1v1h-1zM431.2 416.8h1v1h-1z" fill="#000"/>
<path d="M297.3 247.2h2v2h-2zM293.2 252.9h1v1h-1zM293.3 257.6h2v2h-2zM285.1 258.5h2v2h-2zM285.1 265.1h2v2h-2zM278.4 272h2.5v2.5h-2.5zM276.7 276h2v2h-2zM273.3 276.1h3v3h-3zM265.3 280.6h2.5v2.5h-2.5zM262.5 283.4h1v1h-1zM255.3 290.9h3v3h-3zM258.9 295.9h3v3h-3zM247.7 305.5h3v3h-3zM245 308.5h1v1h-1zM247.7 318.8h1v1h-1zM244.8 322h1v1h-1zM233 334.4h3v3h-3zM228.1 332.7h1v1h-1zM222.4 339.9h1v1h-1zM220.3 340.8h1v1h-1zM221 356.2h1v1h-1zM222.7 363.4h2v2h-2zM223.4 365.6h3v3h-3zM226.6 370.3h2v2h-2zM229.3 373.7h1v1h-1zM230.9 377.2h2v2h-2zM230.7 379.6h1.5v1.5h-1.5zM231.3 383.6h1v1h-1zM235.3 388.9h2.5v2.5h-2.5zM239.2 391.1h1v1h-1zM241.7 393.8h2v2h-2zM241.9 394.7h2v2h-2zM245.8 395h2v2h-2zM248.8 392.4h2v2h-2zM262.9 391.3h1v1h-1zM266.4 386h2v2h-2zM270.2 392.1h1.5v1.5h-1.5zM273.5 382.9h1.5v1.5h-1.5zM272.6 390h2v2h-2zM269.9 390.1h1v1h-1zM274.3 403.2h3v3h-3zM275.7 403.4h2v2h-2zM286.6 395.2h1v1h-1zM293.3 379h3v3h-3zM292.3 373.7h2v2h-2zM294.8 370.5h3v3h-3zM298.3 371.8h3v3h-3zM300.5 369.3h1v1h-1zM306.7 363.4h2.5v2.5h-2.5zM313.7 366.2h1v1h-1zM320.2 360.4h2v2h-2zM330.8 356.4h2.5v2.5h-2.5zM332.2 362.1h2.5v2.5h-2.5zM339.6 362h3v3h-3zM354.2 363.9h1v1h-1zM359.5 358.8h3v3h-3zM368.3 348.6h1.5v1.5h-1.5zM368.8 342.8h2v2h-2zM355.5 334.3h1.5v1.5h-1.5zM354.8 338.4h2v2h-2zM348.7 341.1h2.5v2.5h-2.5zM349.7 334.7h1.5v1.5h-1.5zM337.2 336.4h2v2h-2zM336.3 329.4h1.5v1.5h-1.5zM340.2 322.7h1v1h-1zM348.5 312.5h2v2h-2zM357.4 311.2h1.5v1.5h-1.5zM360.9 315.5h1v1h-1zM372.6 309.5h1v1h-1zM386.3 313.1h1v1h-1zM388.7 316.2h2v2h-2zM393.7 318.3h1v1h-1zM389.5 320.8h2v2h-2zM392.5 324.8h1v1h-1zM389.5 337.9h2.5v2.5h-2.5zM392.1 342.2h1.5v1.5h-1.5zM391.7 350.8h1.5v1.5h-1.5zM394.5 358.6h3v3h-3zM395.5 361.7h2v2h-2zM402.9 370.9h2v2h-2zM404.7 370.7h3v3h-3zM411.8 371.2h2.5v2.5h-2.5zM417.4 354.7h1v1h-1zM426.7 355.2h2.5v2.5h-2.5zM425.1 350.3h1.5v1.5h-1.5zM429.2 346.3h2.5v2.5h-2.5zM458.1 337.5h3v3h-3zM463.2 339.2h1v1h-1zM466.7 333.9h1v1h-1zM479.6 342.8h3v3h-3zM476.7 350.4h1.5v1.5h-1.5zM493.1 353.5h1.5v1.5h-1.5zM491.1 357.5h1.5v1.5h-1.5zM500.4 359.6h1.5v1.5h-1.5zM501.6 363.3h2.5v2.5h-2.5zM509.9 356.5h2v2h-2zM503.7 364.3h2v2h-2zM508 368h1v1h-1zM510.1 369.3h3v3h-3zM516.8 371.1h1v1h-1zM521.7 382h2v2h-2zM527.7 383.8h2v2h-2zM525.9 386.8h2v2h-2zM536.1 385.9h1v1h-1zM509.5 300.7h2.5v2.5h-2.5zM512.2 302h1v1h-1zM517.3 303.9h2v2h-2zM515.2 306.9h1.5v1.5h-1.5zM528.3 308.9h1v1h-1zM524.1 315.9h2v2h-2zM537 325.7h1.5v1.5h-1.5zM538.4 337.6h1.5v1.5h-1.5zM537.2 338.1h3v3h-3zM535.8 342.3h1.5v1.5h-1.5zM531.2 340.8h2.5v2.5h-2.5zM526.3 343.7h1v1h-1zM524 363.6h3v3h-3zM530 371.1h2v2h-2zM534.4 375.2h2v2h-2zM541.5 386.1h2.5v2.5h-2.5zM552.3 393h1v1h-1zM567.6 399.1h1v1h-1zM428.8 199.5h2.5v2.5h-2.5zM412.1 203.1h2v2h-2zM401.3 218.5h2v2h-2zM402.8 222.6h2v2h-2zM402.6 226.9h2.5v2.5h-2.5zM401.3 232.2h2v2h-2zM397.5 235.3h1.5v1.5h-1.5zM399.7 237.3h2v2h-2zM441.6 252.3h1.5v1.5h-1.5zM435.9 259.5h3v3h-3zM440.8 264.3h1v1h-1zM445.1 266.4h1.5v1.5h-1.5zM437 271.2h1v1h-1zM434.8 270.5h3v3h-3zM439.1 280.4h2v2h-2zM450.2 274.8h1v1h-1zM453.6 277.2h2v2h-2zM452.9 281.8h1v1h-1zM458.5 284.1h3v3h-3zM468.7 281.3h2v2h-2zM480.5 288.3h2v2h-2zM481.4 288.8h2v2h-2zM489.3 291.7h1.5v1.5h-1.5zM321.4 221.7h1v1h-1zM334.5 218.6h1.5v1.5h-1.5zM337.7 210.3h1v1h-1zM339.9 211.2h1.5v1.5h-1.5zM342 208.1h2v2h-2zM378.6 203.6h2v2h-2zM389.7 194.3h2v2h-2zM395.1 203.8h3v3h-3zM405 207.6h2v2h-2zM397.6 207.5h3v3h-3zM392.4 217.1h3v3h-3zM391.2 219h1.5v1.5h-1.5zM391.7 224.5h1v1h-1zM388.4 222.9h2v2h-2zM368.1 226.6h2v2h-2zM362.8 233.2h2v2h-2zM361.6 236.4h2v2h-2zM357.4 232.1h1.5v1.5h-1.5zM359.2 248.3h2v2h-2zM364.5 253.9h1v1h-1zM357.3 248.6h2.5v2.5h-2.5zM351.1 243.2h1v1h-1zM336.7 248h2.5v2.5h-2.5zM334.9 245h3v3h-3zM333.6 242.4h1.5v1.5h-1.5zM328.6 242h2v2h-2zM325.4 230.2h2v2h-2zM320.3 227.7h1v1h-1zM382.6 198.1h2v2h-2zM386.9 200.2h2v2h-2zM392.1 200.3h2.5v2.5h-2.5zM393.8 201.7h2v2h-2zM406.7 197.1h2v2h-2zM410.1 198.5h2v2h-2zM417.6 204.7h2v2h-2zM400.8 217.8h2.5v2.5h-2.5zM394.7 212.2h1v1h-1zM385.6 207.3h2v2h-2zM385 204.9h1v1h-1zM348.8 228.4h1v1h-1zM352.5 227.7h2v2h-2zM357.2 230.2h2v2h-2zM362.5 240.3h2v2h-2zM362.1 243.3h2v2h-2zM362.6 256.7h1v1h-1zM359.9 254h3v3h-3zM359.2 248.3h2v2h-2zM355.9 246.3h1v1h-1zM256.2 308.7h1v1h-1zM256.2 304.6h2.5v2.5h-2.5zM263.2 303h1.5v1.5h-1.5zM264.3 303.8h2v2h-2zM269.7 293.1h2v2h-2zM275.7 294.8h3v3h-3zM279.1 291.7h2v2h-2zM283 293.6h1v1h-1zM286.3 295.9h1v1h-1zM289.8 292.3h1v1h-1zM291.6 296.8h3v3h-3zM296.1 297.9h1.5v1.5h-1.5zM292 298.9h1.5v1.5h-1.5zM285.8 305.5h3v3h-3zM275.3 308.1h2v2h-2zM259.2 312.3h2v2h-2zM296.8 318.6h1.5v1.5h-1.5zM296 315.5h1v1h-1zM302.9 313.2h1.5v1.5h-1.5zM306.8 305.1h2v2h-2zM306.5 302h1v1h-1zM305.4 297.5h2v2h-2zM313.7 295.3h1v1h-1zM318.5 294h2v2h-2zM329 291.1h1.5v1.5h-1.5zM342.9 285.3h1v1h-1zM346.5 288.2h2v2h-2zM358.3 299.4h2.5v2.5h-2.5zM362.3 302.6h1v1h-1zM370 299.9h3v3h-3zM369.4 306.6h2.5v2.5h-2.5zM345.5 300.9h2v2h-2zM340.3 296.9h2.5v2.5h-2.5zM336 302.9h2.5v2.5h-2.5zM331.4 308.4h1.5v1.5h-1.5zM326.8 308.6h3v3h-3zM318.6 310.3h2v2h-2zM322.5 313.4h1v1h-1zM322.7 318.2h2.5v2.5h-2.5zM318.7 329.1h2v2h-2zM319.8 334.7h3v3h-3zM323.9 337.8h1v1h-1zM323.3 342.1h1.5v1.5h-1.5zM325.9 348.2h1v1h-1zM325.8 350.7h3v3h-3zM322.1 353.4h2v2h-2zM310.7 348.1h2v2h-2zM308.6 345.6h2.5v2.5h-2.5zM304.3 341.2h3v3h-3zM303 339.2h1.5v1.5h-1.5zM306.2 335h1v1h-1zM285.6 324.4h1v1h-1zM294.6 322.1h2.5v2.5h-2.5zM297.7 325.2h3v3h-3zM294.2 340h1.5v1.5h-1.5zM285.5 338.5h1v1h-1zM279.6 335.1h1v1h-1zM272.7 330h1v1h-1zM355.3 279.4h2v2h-2zM364.7 281.6h1v1h-1zM368.8 282.3h1.5v1.5h-1.5zM379.5 275.9h1v1h-1zM385.5 279.9h2v2h-2zM387.1 280.3h2v2h-2zM390.5 277.4h1v1h-1zM392.6 283.1h2v2h-2zM380.3 288.2h1v1h-1zM366.9 287.5h1v1h-1zM356 289h1.5v1.5h-1.5zM356.9 289.8h1v1h-1zM355.2 285.4h1v1h-1zM413.1 286.2h3v3h-3zM420.8 292.7h2.5v2.5h-2.5zM430.6 310.8h1v1h-1zM422.1 306.5h2v2h-2zM421.1 303.6h3v3h-3zM415.1 294.7h2.5v2.5h-2.5zM403.1 281.9h2v2h-2zM406.3 287.1h2v2h-2zM282.9 327.4h1.5v1.5h-1.5zM287.7 329.2h1v1h-1zM290.8 329.1h3v3h-3zM292.8 332.9h1v1h-1zM297.7 336.6h2v2h-2zM298.4 337.9h2v2h-2zM296 339.5h2v2h-2zM280.9 344.9h2.5v2.5h-2.5zM280.1 334.2h2v2h-2zM279.3 331.3h2.5v2.5h-2.5zM307.2 332.7h2.5v2.5h-2.5zM320.9 342.9h1v1h-1zM320 349.7h1v1h-1zM323.8 350.6h1v1h-1zM321.3 349.9h2.5v2.5h-2.5zM318.5 350.1h1v1h-1zM312.2 345.2h1v1h-1zM308.2 339.9h2v2h-2zM305.7 335.2h1v1h-1zM281.8 355.8h1v1h-1zM285.4 353.3h1v1h-1zM293.6 354.5h2.5v2.5h-2.5zM293.4 362h3v3h-3zM288 365.2h2v2h-2zM287.3 356.8h1.5v1.5h-1.5zM296.4 372.8h1v1h-1zM298.7 364.4h2.5v2.5h-2.5zM294.1 365.1h3v3h-3zM489.3 424.6h1v1h-1zM494.2 428.8h2v2h-2zM497.6 427.7h1v1h-1zM500.9 424.1h1.5v1.5h-1.5zM518.1 430.9h1.5v1.5h-1.5zM524.5 436.1h1v1h-1zM527.7 439.9h2.5v2.5h-2.5zM520.8 440.2h1v1h-1zM512.7 436.6h2v2h-2zM501.7 430.3h2v2h-2zM496.5 433.8h2.5v2.5h-2.5zM487.7 437.8h2v2h-2zM484.1 433.4h1.5v1.5h-1.5zM133.7 455h1.5v1.5h-1.5zM136.8 439.9h1v1h-1zM139.7 433.2h3v3h-3zM136.8 430.5h1.5v1.5h-1.5zM134.8 426.5h2v2h-2zM135.9 423.8h1.5v1.5h-1.5zM139.9 421.9h2.5v2.5h-2.5zM137.9 417.1h2.5v2.5h-2.5zM142.6 416.4h1.5v1.5h-1.5zM145.7 415h1.5v1.5h-1.5zM149 410.6h2.5v2.5h-2.5zM153.3 405.5h2.5v2.5h-2.5zM155.8 410.8h2v2h-2zM159 413.1h1v1h-1zM160.4 413.5h2.5v2.5h-2.5zM157.7 410.1h2v2h-2zM158.3 399.9h2v2h-2zM163.3 392.4h3v3h-3zM172.3 386.2h1v1h-1zM178.3 381.7h1v1h-1zM177.3 389h1v1h-1zM178.9 388.8h1v1h-1zM180.3 403.1h1.5v1.5h-1.5zM186.7 416.7h1v1h-1zM185.7 425.4h3v3h-3zM184.4 428.3h2v2h-2zM185.5 442.4h2.5v2.5h-2.5zM198.5 456.7h2v2h-2zM195.9 456.8h1v1h-1zM186.6 452.3h2v2h-2zM178.4 453.9h2v2h-2zM178.3 459.3h2.5v2.5h-2.5zM174.8 461.9h1.5v1.5h-1.5zM169.8 464.9h2.5v2.5h-2.5zM168.7 475h2.5v2.5h-2.5zM163.2 471.3h2v2h-2zM161.7 470.4h1.5v1.5h-1.5zM155 470.2h3v3h-3zM151.1 470.3h1.5v1.5h-1.5zM144.8 475.5h1v1h-1zM147.6 396.7h2v2h-2zM146.7 404.4h2.5v2.5h-2.5zM161.6 389.6h2.5v2.5h-2.5zM157.8 388.5h1v1h-1zM198.8 434.2h1v1h-1zM204.3 440.1h1v1h-1zM205.9 446.6h1v1h-1zM209.9 470.1h3v3h-3zM210 463.5h1v1h-1zM212.6 465.6h2v2h-2zM269.2 411.8h1.5v1.5h-1.5zM289.4 405.3h2v2h-2zM299.8 411h2v2h-2zM302.4 413.9h1.5v1.5h-1.5zM301.9 416.5h2.5v2.5h-2.5zM300.2 418.7h2v2h-2zM294 412h2v2h-2zM310.2 379h2.5v2.5h-2.5zM317 384.5h1v1h-1zM319.1 386.5h2v2h-2zM324.8 386.9h1.5v1.5h-1.5zM314.4 389.4h3v3h-3zM316.4 396.7h1v1h-1zM331.9 400.1h1v1h-1zM331.1 398.5h1.5v1.5h-1.5zM338.4 397.4h1v1h-1zM336.3 394.7h2v2h-2zM343.1 392h3v3h-3zM349.9 403.5h1v1h-1zM346.3 404.7h3v3h-3zM347.5 409.1h1v1h-1zM342.7 410.5h1v1h-1zM332.7 401.1h3v3h-3zM316.9 373.6h1.5v1.5h-1.5zM317.1 376.4h2v2h-2zM312.3 375.9h1.5v1.5h-1.5zM344.6 382h2v2h-2zM351.6 383h2.5v2.5h-2.5zM346.8 380.8h2.5v2.5h-2.5zM340.3 381.6h3v3h-3zM421.6 213.6h2v2h-2zM432.4 214.7h1v1h-1zM432.3 210h1v1h-1zM436.3 213.9h1v1h-1zM444.5 214.4h1v1h-1zM438.2 214.4h3v3h-3zM435 219.7h2.5v2.5h-2.5zM444.1 222h2.5v2.5h-2.5zM449.3 228.7h2.5v2.5h-2.5zM443.3 231.8h3v3h-3zM440.1 233.9h2.5v2.5h-2.5zM434 237.8h1v1h-1zM469.3 217.5h1v1h-1zM480.7 213.5h2v2h-2zM485.8 223.7h1v1h-1zM473.1 216.4h2.5v2.5h-2.5zM468.8 220.2h2v2h-2zM468 216.9h3v3h-3zM458.9 197.9h3v3h-3zM462.7 199.7h1.5v1.5h-1.5zM462.6 197.2h3v3h-3zM465.1 204.4h1v1h-1zM461.4 204.6h2.5v2.5h-2.5zM461 202h3v3h-3zM457.8 199.4h3v3h-3zM483.4 230h2v2h-2zM476.8 229.4h1v1h-1zM514 274.9h2v2h-2zM520.7 277.8h2.5v2.5h-2.5zM496.6 307.3h1v1h-1zM496.4 231.9h2v2h-2zM499.5 234.8h2.5v2.5h-2.5zM493.5 235.5h2v2h-2zM498.2 252.8h2v2h-2zM505.2 250h2.5v2.5h-2.5zM509.5 253.3h1v1h-1zM509.3 256.6h2v2h-2zM505.8 254.2h3v3h-3zM500.6 257.6h1.5v1.5h-1.5zM503.3 277.9h2v2h-2zM505.3 278.9h1v1h-1zM507 274.4h3v3h-3zM518.4 274.3h1v1h-1zM518.6 279.6h1.5v1.5h-1.5zM522.4 277.6h3v3h-3zM519.8 280.6h3v3h-3zM507.9 283.6h3v3h-3zM506.5 284.5h2.5v2.5h-2.5zM518.6 287.2h2.5v2.5h-2.5zM528.2 299.4h2v2h-2zM524.6 298.7h1v1h-1zM554.2 344.2h2v2h-2zM562.5 352.1h1.5v1.5h-1.5zM562.5 356.4h3v3h-3zM553.2 356.7h1v1h-1zM548.6 354.4h2v2h-2zM379.9 206.9h2v2h-2zM388.2 213.5h1v1h-1zM380.6 213.1h2v2h-2zM455.1 401.4h2.5v2.5h-2.5zM463 401.6h2.5v2.5h-2.5zM468 398h2.5v2.5h-2.5zM476 399h1.5v1.5h-1.5zM481.3 393.5h1.5v1.5h-1.5zM484.8 390.8h1v1h-1zM486.5 390.1h2.5v2.5h-2.5zM497 392.1h2v2h-2zM496.1 396.9h2v2h-2zM498.6 402.6h1v1h-1zM496.7 404.8h3v3h-3zM508.8 404.9h2v2h-2zM520.1 400.1h1.5v1.5h-1.5zM530.1 399.9h3v3h-3zM538.1 394.2h2.5v2.5h-2.5zM557.9 395.7h1.5v1.5h-1.5zM562.2 397.3h1v1h-1zM573.9 394.2h2.5v2.5h-2.5zM583.7 397.7h1v1h-1zM586.4 399.6h2v2h-2zM585.3 399.6h1v1h-1zM583.6 399.6h1.5v1.5h-1.5zM579.7 402.7h1.5v1.5h-1.5zM579.1 408.2h2v2h-2zM580.9 410.9h2v2h-2zM584.9 420.5h1v1h-1zM583.6 421.9h3v3h-3zM585.6 424.3h3v3h-3zM574.5 443.8h3v3h-3zM573.5 445.2h2.5v2.5h-2.5zM570.9 450.1h3v3h-3zM569.9 456.8h1v1h-1zM568.5 459.2h3v3h-3zM569.2 461.9h1v1h-1zM564.7 469.3h3v3h-3zM562.9 474.5h1.5v1.5h-1.5zM563.2 475.6h1v1h-1zM542.8 466.7h1v1h-1zM541.9 463.3h2v2h-2zM535 458h2.5v2.5h-2.5zM529.6 471h2.5v2.5h-2.5zM525.9 469.7h1.5v1.5h-1.5zM521.4 465.7h1v1h-1zM511.1 461.1h3v3h-3zM524.5 445.9h2.5v2.5h-2.5zM527.5 439.3h2.5v2.5h-2.5zM525.1 434.7h1v1h-1zM522.2 429.8h3v3h-3zM520.7 430.8h2v2h-2zM516.6 429.1h1v1h-1zM514 424.9h1v1h-1zM504.6 425.5h1v1h-1zM496.8 422.1h1v1h-1zM488.4 429.4h1v1h-1zM484.2 431.4h1v1h-1zM481.4 433.4h2v2h-2zM484.5 433.4h2.5v2.5h-2.5zM481.6 441.9h1v1h-1zM477.1 445.7h3v3h-3zM476.9 436h1.5v1.5h-1.5zM471.5 429.7h3v3h-3zM469.7 420.5h1v1h-1zM456.1 414.9h2v2h-2zM466.9 454.8h2v2h-2zM474.2 451.1h2v2h-2zM474 447.8h2v2h-2zM487.3 455h3v3h-3zM495.4 453.5h2v2h-2zM504.2 462.6h1v1h-1zM507.1 464.4h3v3h-3zM505.5 469.9h1v1h-1zM500.3 469.3h1v1h-1zM494.2 461.6h3v3h-3zM491.7 463.3h2.5v2.5h-2.5zM487.2 467.9h1v1h-1zM481.2 464.4h1v1h-1zM479.8 469h1v1h-1zM466.8 458.1h2v2h-2zM464.5 459.9h1v1h-1zM437.4 428.6h2.5v2.5h-2.5zM434.1 438h2.5v2.5h-2.5zM460.5 381.4h1v1h-1zM457.8 374h2.5v2.5h-2.5zM469 366.3h3v3h-3zM473 374.4h1v1h-1zM480 376.9h2v2h-2zM480 380.4h2.5v2.5h-2.5zM480 383.7h2v2h-2zM463.8 387.7h3v3h-3zM453.1 390.6h1.5v1.5h-1.5zM468.4 350.8h2v2h-2zM472.7 352.1h1v1h-1zM476.1 353.3h2v2h-2zM481.6 355.4h2v2h-2zM484.1 357.6h2.5v2.5h-2.5zM484.3 364.3h1v1h-1zM486.5 368.3h2v2h-2zM492.7 371.8h1v1h-1zM478.5 367.5h2v2h-2zM510.2 373.2h3v3h-3zM512.6 376.6h2v2h-2zM518.3 387.1h1v1h-1zM512.7 382.9h3v3h-3zM485 368.8h1.5v1.5h-1.5zM490.1 376.6h1.5v1.5h-1.5zM501.7 388.5h2v2h-2zM502.4 392.5h1v1h-1zM497.5 387.8h2v2h-2zM493.5 386.5h1v1h-1zM492.2 382.2h3v3h-3zM487.4 382.3h1v1h-1zM484.2 377.8h3v3h-3zM483.2 377.5h2v2h-2zM481.7 373.7h3v3h-3zM440.3 352.4h2.5v2.5h-2.5zM443.8 348.4h2v2h-2zM446.7 349h3v3h-3zM451.2 352h2.5v2.5h-2.5zM455.3 349.9h3v3h-3zM450.3 352.8h3v3h-3zM449.7 358.3h1.5v1.5h-1.5zM447.1 353.9h1v1h-1zM441.6 355.1h1v1h-1zM438.5 353.1h2.5v2.5h-2.5zM432.6 368.2h1.5v1.5h-1.5zM446 368.1h2.5v2.5h-2.5zM443.7 369.4h2.5v2.5h-2.5zM437.7 375.5h2.5v2.5h-2.5zM419.1 388.7h2v2h-2zM421.8 390.3h1v1h-1zM435.3 388.2h1v1h-1zM432 395h2v2h-2zM422.5 396.3h2v2h-2zM436.1 409.6h1.5v1.5h-1.5zM440.9 406.6h1v1h-1zM447.6 407.7h1.5v1.5h-1.5zM443.4 409.3h1.5v1.5h-1.5zM440.6 411.5h1.5v1.5h-1.5zM437.1 414.2h3v3h-3z" fill="#fff"/>
</mask>
</defs>
<g clip-path="url(#fr)">
<g mask="url(#dm)"><g filter="url(#bl)">
<rect x="45.875" y="83" width="48.25" height="44" fill="#0049ff"/><rect x="93.125" y="83" width="48.25" height="44" fill="#0049ff"/><rect x="140.375" y="83" width="48.25" height="44" fill="#0049ff"/><rect x="187.625" y="83" width="48.25" height="44" fill="#0049ff"/><rect x="234.875" y="83" width="48.25" height="44" fill="#0040ff"/><rect x="282.125" y="83" width="48.25" height="44" fill="#0053ff"/><rect x="329.375" y="83" width="48.25" height="44" fill="#0068ff"/><rect x="376.625" y="83" width="48.25" height="44" fill="#006bff"/><rect x="423.875" y="83" width="48.25" height="44" fill="#006bff"/><rect x="471.125" y="83" width="48.25" height="44" fill="#0078ff"/><rect x="518.375" y="83" width="48.25" height="44" fill="#0087ff"/><rect x="565.625" y="83" width="48.25" height="44" fill="#0097ff"/><rect x="612.875" y="83" width="48.25" height="44" fill="#0097ff"/><rect x="660.125" y="83" width="48.25" height="44" fill="#0097ff"/><rect x="45.875" y="126" width="48.25" height="44" fill="#0049ff"/><rect x="93.125" y="126" width="48.25" height="44" fill="#0049ff"/><rect x="140.375" y="126" width="48.25" height="44" fill="#0049ff"/><rect x="187.625" y="126" width="48.25" height="44" fill="#0049ff"/><rect x="234.875" y="126" width="48.25" height="44" fill="#0040ff"/><rect x="282.125" y="126" width="48.25" height="44" fill="#0053ff"/><rect x="329.375" y="126" width="48.25" height="44" fill="#0068ff"/><rect x="376.625" y="126" width="48.25" height="44" fill="#006bff"/><rect x="423.875" y="126" width="48.25" height="44" fill="#006bff"/><rect x="471.125" y="126" width="48.25" height="44" fill="#0078ff"/><rect x="518.375" y="126" width="48.25" height="44" fill="#0087ff"/><rect x="565.625" y="126" width="48.25" height="44" fill="#0097ff"/><rect x="612.875" y="126" width="48.25" height="44" fill="#0097ff"/><rect x="660.125" y="126" width="48.25" height="44" fill="#0097ff"/><rect x="45.875" y="169" width="48.25" height="44" fill="#0049ff"/><rect x="93.125" y="169" width="48.25" height="44" fill="#0049ff"/><rect x="140.375" y="169" width="48.25" height="44" fill="#0049ff"/><rect x="187.625" y="169" width="48.25" height="44" fill="#0049ff"/><rect x="234.875" y="169" width="48.25" height="44" fill="#003aff"/><rect x="282.125" y="169" width="48.25" height="44" fill="#0053ff"/><rect x="329.375" y="169" width="48.25" height="44" fill="#006bff"/><rect x="376.625" y="169" width="48.25" height="44" fill="#006eff"/><rect x="423.875" y="169" width="48.25" height="44" fill="#006bff"/><rect x="471.125" y="169" width="48.25" height="44" fill="#007bff"/><rect x="518.375" y="169" width="48.25" height="44" fill="#0090ff"/><rect x="565.625" y="169" width="48.25" height="44" fill="#009dff"/><rect x="612.875" y="169" width="48.25" height="44" fill="#00a6ff"/><rect x="660.125" y="169" width="48.25" height="44" fill="#00a6ff"/><rect x="45.875" y="212" width="48.25" height="44" fill="#0049ff"/><rect x="93.125" y="212" width="48.25" height="44" fill="#0049ff"/><rect x="140.375" y="212" width="48.25" height="44" fill="#0049ff"/><rect x="187.625" y="212" width="48.25" height="44" fill="#0046ff"/><rect x="234.875" y="212" width="48.25" height="44" fill="#0034ff"/><rect x="282.125" y="212" width="48.25" height="44" fill="#004cff"/><rect x="329.375" y="212" width="48.25" height="44" fill="#006bff"/><rect x="376.625" y="212" width="48.25" height="44" fill="#006eff"/><rect x="423.875" y="212" width="48.25" height="44" fill="#006bff"/><rect x="471.125" y="212" width="48.25" height="44" fill="#0084ff"/><rect x="518.375" y="212" width="48.25" height="44" fill="#009dff"/><rect x="565.625" y="212" width="48.25" height="44" fill="#00a9ff"/><rect x="612.875" y="212" width="48.25" height="44" fill="#00afff"/><rect x="660.125" y="212" width="48.25" height="44" fill="#00afff"/><rect x="45.875" y="255" width="48.25" height="44" fill="#0049ff"/><rect x="93.125" y="255" width="48.25" height="44" fill="#0049ff"/><rect x="140.375" y="255" width="48.25" height="44" fill="#0049ff"/><rect x="187.625" y="255" width="48.25" height="44" fill="#0049ff"/><rect x="234.875" y="255" width="48.25" height="44" fill="#003aff"/><rect x="282.125" y="255" width="48.25" height="44" fill="#0040ff"/><rect x="329.375" y="255" width="48.25" height="44" fill="#0046ff"/><rect x="376.625" y="255" width="48.25" height="44" fill="#0059ff"/><rect x="423.875" y="255" width="48.25" height="44" fill="#0072ff"/><rect x="471.125" y="255" width="48.25" height="44" fill="#0094ff"/><rect x="518.375" y="255" width="48.25" height="44" fill="#00acff"/><rect x="565.625" y="255" width="48.25" height="44" fill="#00b6ff"/><rect x="612.875" y="255" width="48.25" height="44" fill="#00bcff"/><rect x="660.125" y="255" width="48.25" height="44" fill="#00bcff"/><rect x="45.875" y="298" width="48.25" height="44" fill="#0046ff"/><rect x="93.125" y="298" width="48.25" height="44" fill="#0046ff"/><rect x="140.375" y="298" width="48.25" height="44" fill="#0049ff"/><rect x="187.625" y="298" width="48.25" height="44" fill="#004cff"/><rect x="234.875" y="298" width="48.25" height="44" fill="#0046ff"/><rect x="282.125" y="298" width="48.25" height="44" fill="#0043ff"/><rect x="329.375" y="298" width="48.25" height="44" fill="#0046ff"/><rect x="376.625" y="298" width="48.25" height="44" fill="#0053ff"/><rect x="423.875" y="298" width="48.25" height="44" fill="#0078ff"/><rect x="471.125" y="298" width="48.25" height="44" fill="#009dff"/><rect x="518.375" y="298" width="48.25" height="44" fill="#00bfff"/><rect x="565.625" y="298" width="48.25" height="44" fill="#00ceff"/><rect x="612.875" y="298" width="48.25" height="44" fill="#00d4ff"/><rect x="660.125" y="298" width="48.25" height="44" fill="#00ceff"/><rect x="45.875" y="341" width="48.25" height="44" fill="#004cff"/><rect x="93.125" y="341" width="48.25" height="44" fill="#004cff"/><rect x="140.375" y="341" width="48.25" height="44" fill="#0050ff"/><rect x="187.625" y="341" width="48.25" height="44" fill="#0056ff"/><rect x="234.875" y="341" width="48.25" height="44" fill="#0059ff"/><rect x="282.125" y="341" width="48.25" height="44" fill="#0056ff"/><rect x="329.375" y="341" width="48.25" height="44" fill="#0059ff"/><rect x="376.625" y="341" width="48.25" height="44" fill="#006bff"/><rect x="423.875" y="341" width="48.25" height="44" fill="#0097ff"/><rect x="471.125" y="341" width="48.25" height="44" fill="#00b6ff"/><rect x="518.375" y="341" width="48.25" height="44" fill="#00d1ff"/><rect x="565.625" y="341" width="48.25" height="44" fill="#01e7f6"/><rect x="612.875" y="341" width="48.25" height="44" fill="#06edf1"/><rect x="660.125" y="341" width="48.25" height="44" fill="#00e1fb"/><rect x="45.875" y="384" width="48.25" height="44" fill="#0068ff"/><rect x="93.125" y="384" width="48.25" height="44" fill="#0068ff"/><rect x="140.375" y="384" width="48.25" height="44" fill="#006bff"/><rect x="187.625" y="384" width="48.25" height="44" fill="#0072ff"/><rect x="234.875" y="384" width="48.25" height="44" fill="#0078ff"/><rect x="282.125" y="384" width="48.25" height="44" fill="#0081ff"/><rect x="329.375" y="384" width="48.25" height="44" fill="#0090ff"/><rect x="376.625" y="384" width="48.25" height="44" fill="#00a9ff"/><rect x="423.875" y="384" width="48.25" height="44" fill="#00c2ff"/><rect x="471.125" y="384" width="48.25" height="44" fill="#00d4ff"/><rect x="518.375" y="384" width="48.25" height="44" fill="#06edf1"/><rect x="565.625" y="384" width="48.25" height="44" fill="#1dffda"/><rect x="612.875" y="384" width="48.25" height="44" fill="#24ffd3"/><rect x="660.125" y="384" width="48.25" height="44" fill="#13fde4"/><rect x="45.875" y="427" width="48.25" height="44" fill="#0078ff"/><rect x="93.125" y="427" width="48.25" height="44" fill="#007bff"/><rect x="140.375" y="427" width="48.25" height="44" fill="#007eff"/><rect x="187.625" y="427" width="48.25" height="44" fill="#0087ff"/><rect x="234.875" y="427" width="48.25" height="44" fill="#0094ff"/><rect x="282.125" y="427" width="48.25" height="44" fill="#00a6ff"/><rect x="329.375" y="427" width="48.25" height="44" fill="#00bcff"/><rect x="376.625" y="427" width="48.25" height="44" fill="#00c8ff"/><rect x="423.875" y="427" width="48.25" height="44" fill="#00d1ff"/><rect x="471.125" y="427" width="48.25" height="44" fill="#04eaf3"/><rect x="518.375" y="427" width="48.25" height="44" fill="#1affdd"/><rect x="565.625" y="427" width="48.25" height="44" fill="#31ffc6"/><rect x="612.875" y="427" width="48.25" height="44" fill="#38ffbf"/><rect x="660.125" y="427" width="48.25" height="44" fill="#24ffd3"/><rect x="45.875" y="470" width="48.25" height="44" fill="#007bff"/><rect x="93.125" y="470" width="48.25" height="44" fill="#007eff"/><rect x="140.375" y="470" width="48.25" height="44" fill="#0081ff"/><rect x="187.625" y="470" width="48.25" height="44" fill="#008aff"/><rect x="234.875" y="470" width="48.25" height="44" fill="#0097ff"/><rect x="282.125" y="470" width="48.25" height="44" fill="#00a9ff"/><rect x="329.375" y="470" width="48.25" height="44" fill="#00bfff"/><rect x="376.625" y="470" width="48.25" height="44" fill="#00cbff"/><rect x="423.875" y="470" width="48.25" height="44" fill="#00d4ff"/><rect x="471.125" y="470" width="48.25" height="44" fill="#06edf1"/><rect x="518.375" y="470" width="48.25" height="44" fill="#1dffda"/><rect x="565.625" y="470" width="48.25" height="44" fill="#33ffc4"/><rect x="612.875" y="470" width="48.25" height="44" fill="#3bffbc"/><rect x="660.125" y="470" width="48.25" height="44" fill="#24ffd3"/>
</g></g>
<path d="M442.6 128 L442.6 168 L447 171 L453 170.6 L458 169.4 L464 168 L465 174 L469 179 L475 187 L481 195 L485 201 L490 197 L495 192 L497 187 L503 184 L508 182 L513 187 L517 194 L523 204 L529 213 L535 223 L541 233 L546 241 L547 245" fill="none" stroke="#333" stroke-width="0.8"/>
<path d="M520.4 200 L528.2 206.8 L535 218 L540.6 229.2 L545.1 241.6 L550.8 251.8 L559.8 257.4 L567.6 261.9 L572.1 265.2" fill="none" stroke="#333" stroke-width="0.8"/>
<path d="M466 176.7 L667 176.7" fill="none" stroke="#999" stroke-width="1.6" stroke-dasharray="11 6"/>
<path d="M591 128 L594 132" fill="none" stroke="#666" stroke-width="0.8"/>
<path d="M599 138 L602 139.4 L606 141" fill="none" stroke="#666" stroke-width="0.8"/>
<path d="M607 149 L609 153" fill="none" stroke="#666" stroke-width="0.8"/>
<path d="M612 157 L615 157.4 L618 156" fill="none" stroke="#666" stroke-width="0.8"/>
<path d="M624 157 L629 157 L633 155" fill="none" stroke="#666" stroke-width="0.8"/>
<path d="M635 159 L637 162 L639 165" fill="none" stroke="#666" stroke-width="0.8"/>
<path d="M642 172 L645 176" fill="none" stroke="#666" stroke-width="0.8"/>
<path d="M649 451 L654 451.4 L657 454 L658 459 L660 462 L666 462.4" fill="none" stroke="#777" stroke-width="0.8"/>
<line x1="159.0" y1="127.3" x2="159.0" y2="471.3" stroke="#000" stroke-width="1.2" stroke-dasharray="1.39 1.39"/>
<line x1="218.1" y1="127.3" x2="218.1" y2="471.3" stroke="#000" stroke-width="1.2" stroke-dasharray="1.39 1.39"/>
<line x1="277.1" y1="127.3" x2="277.1" y2="471.3" stroke="#000" stroke-width="1.2" stroke-dasharray="1.39 1.39"/>
<line x1="336.2" y1="127.3" x2="336.2" y2="471.3" stroke="#000" stroke-width="1.2" stroke-dasharray="1.39 1.39"/>
<line x1="395.2" y1="127.3" x2="395.2" y2="471.3" stroke="#000" stroke-width="1.2" stroke-dasharray="1.39 1.39"/>
<line x1="454.3" y1="127.3" x2="454.3" y2="471.3" stroke="#000" stroke-width="1.2" stroke-dasharray="1.39 1.39"/>
<line x1="513.4" y1="127.3" x2="513.4" y2="471.3" stroke="#000" stroke-width="1.2" stroke-dasharray="1.39 1.39"/>
<line x1="572.4" y1="127.3" x2="572.4" y2="471.3" stroke="#000" stroke-width="1.2" stroke-dasharray="1.39 1.39"/>
<line x1="631.5" y1="127.3" x2="631.5" y2="471.3" stroke="#000" stroke-width="1.2" stroke-dasharray="1.39 1.39"/>
<line x1="99.5" y1="402.4" x2="666.5" y2="402.4" stroke="#000" stroke-width="1.2" stroke-dasharray="1.39 1.39"/>
<line x1="99.5" y1="327.2" x2="666.5" y2="327.2" stroke="#000" stroke-width="1.2" stroke-dasharray="1.39 1.39"/>
<line x1="99.5" y1="244.8" x2="666.5" y2="244.8" stroke="#000" stroke-width="1.2" stroke-dasharray="1.39 1.39"/>
<line x1="99.5" y1="152.9" x2="666.5" y2="152.9" stroke="#000" stroke-width="1.2" stroke-dasharray="1.39 1.39"/>
<path d="M630.3 384 L633 386.7 L636.2 389.9 L640.5 392 L644.7 393.3 L649 393.1 L651.7 390.9 L652.7 395.2 L651.3 398.4 L651.7 401.6 L654.3 404.8 L659.7 408 L661.3 410.1 L659.7 414.4 L658.6 417.6 L655.9 416 L653.3 413.3 L649 415.5 L642.6 415.5 L636.2 413.3 L631.9 410.1 L631.9 411.4 L636.2 415 L642.6 417.2 L649 417.2 L654.3 415.5 L653.3 412.3 L650.6 410.1 L649 405.9 L646.9 402.4 L643.7 399.2 L639.4 396.6 L635.1 393.4 L631.9 389.6 L630.3 385.6Z" fill="#0a9cff"/>
<path d="M601 369.4 L606.3 370.7 L612.7 373.3 L619.1 376 L625.5 378.1 L629.8 380.8 L630.3 382.9 L625.5 379.2 L619.1 377.3 L612.7 375.7 L606.3 373 L601 369.8Z" fill="#18a8ff"/>
<path d="M152 129.4 L146 133 L145 139 L148 143 L152 147 L155 150 L159 153 L161 156 L159 159 L155 163 L159 166 L164 171 L168 176 L170 180 L175 181 L181 179.4 L186 177.4 L189 175 L188 171.4 L191 173 L193 178 L195 184 L197 189 L194.6 194 L197 198.6 L198 203 L196 207 L193 208 L198 209 L202 206 L206 203.4 L207 207.4 L210 203 L213 199.4 L216 201 L219 204 L223 202 L226 206 L229 212 L232 213 L233 209 L231 205 L235 202 L238 199 L240 201 L238 204 L239 207.4 L244 206 L249 204 L254 201 L250 209 L247 217 L246 225 L245 233 L239 239 L235 244" fill="none" stroke="#000" stroke-width="1.4" stroke-linejoin="round" stroke-linecap="round"/>
<path d="M130 172.4 L135 170 L140 168 L145 166.6 L150 168 L152 173 L152 178 L148 179 L145 182 L141 179 L136 177.4 L132 175Z" fill="none" stroke="#000" stroke-width="1.4" stroke-linejoin="round" stroke-linecap="round"/>
<path d="M179 128.6 L185 130.6 L191 129.4 L194 133 L195 138.6 L199 137 L203 133 L207 130 L215 129 L218 128" fill="none" stroke="#000" stroke-width="1.4" stroke-linejoin="round" stroke-linecap="round"/>
<path d="M161 156 L166 157 L172 158 L176.6 160.6 L175 164 L171 162 L168 159" fill="none" stroke="#000" stroke-width="1.3" stroke-linejoin="round" stroke-linecap="round"/>
<path d="M159 166 L162 161 L164 157" fill="none" stroke="#000" stroke-width="1.3" stroke-linejoin="round" stroke-linecap="round"/>
<path d="M171 137 L174 141" fill="none" stroke="#000" stroke-width="2.2" stroke-linejoin="round" stroke-linecap="round"/>
<path d="M172 148 L175 150" fill="none" stroke="#000" stroke-width="2.2" stroke-linejoin="round" stroke-linecap="round"/>
<path d="M186 151 L189 152 L190 156.6 L187 157Z" fill="none" stroke="#000" stroke-width="2" stroke-linejoin="round" stroke-linecap="round"/>
<path d="M170 168 L174 166.6 L177 168 L175 172 L172 171Z" fill="none" stroke="#000" stroke-width="2" stroke-linejoin="round" stroke-linecap="round"/>
<path d="M229 178 L233 176.6 L238 177.4" fill="none" stroke="#000" stroke-width="2.4" stroke-linejoin="round" stroke-linecap="round"/>
<path d="M229 184 L233 183 L235.4 186 L234 190 L231 188.6Z" fill="none" stroke="#000" stroke-width="2.2" stroke-linejoin="round" stroke-linecap="round"/>
<path d="M155 146 L159 149 L160 152" fill="none" stroke="#000" stroke-width="2.2" stroke-linejoin="round" stroke-linecap="round"/>
<path d="M151.6 129.8 L149.8 131 L148.4 131.9 L146.1 132.4 L146 136.4 L144.8 138.5 L146.4 141.2 L148.4 142.7 L149.8 144.7 L151.9 146.6 L155.4 149.7 L157.1 151 L159.3 152.5 L160.5 156" fill="none" stroke="#000" stroke-width="1.8" stroke-linejoin="round" stroke-linecap="round"/>
<path d="M146 136.4 L146.3 136.8 L147.8 135.9" fill="none" stroke="#000" stroke-width="1.76757" stroke-linejoin="round" stroke-linecap="round"/>
<path d="M148.4 142.7 L148 143 L149.2 142.6" fill="none" stroke="#000" stroke-width="1.86473" stroke-linejoin="round" stroke-linecap="round"/>
<path d="M151.9 146.6 L150.3 147.1 L150.2 147.4" fill="none" stroke="#000" stroke-width="2.1943" stroke-linejoin="round" stroke-linecap="round"/>
<path d="M155.4 149.7 L156.3 149.2 L156.3 148.9" fill="none" stroke="#000" stroke-width="1.99512" stroke-linejoin="round" stroke-linecap="round"/>
<path d="M198 209.2 L197.8 209.3 L197.7 208.3" fill="none" stroke="#000" stroke-width="1.51624" stroke-linejoin="round" stroke-linecap="round"/>
<path d="M200.2 207.1 L201 207 L200.7 207.5" fill="none" stroke="#000" stroke-width="1.71818" stroke-linejoin="round" stroke-linecap="round"/>
<path d="M206.2 203.3 L205.8 202.7 L204.8 203.5" fill="none" stroke="#000" stroke-width="1.26591" stroke-linejoin="round" stroke-linecap="round"/>
<path d="M208 205.1 L208 205.4 L209 205.3" fill="none" stroke="#000" stroke-width="1.69877" stroke-linejoin="round" stroke-linecap="round"/>
<path d="M209.8 202.5 L210.6 203.4 L210.3 203.3" fill="none" stroke="#000" stroke-width="1.48674" stroke-linejoin="round" stroke-linecap="round"/>
<path d="M211.7 201.6 L210.4 202.2 L210.6 201.3" fill="none" stroke="#000" stroke-width="1.39284" stroke-linejoin="round" stroke-linecap="round"/>
<path d="M216 200.9 L216.5 200.8 L217.1 199.7" fill="none" stroke="#000" stroke-width="1.5773" stroke-linejoin="round" stroke-linecap="round"/>
<path d="M219.1 204.3 L218.9 204 L219.2 203.1" fill="none" stroke="#000" stroke-width="1.37067" stroke-linejoin="round" stroke-linecap="round"/>
<path d="M222.6 202 L223.5 203.1 L223 203.1" fill="none" stroke="#000" stroke-width="1.29143" stroke-linejoin="round" stroke-linecap="round"/>
<path d="M225.6 206.4 L225.4 206.3 L226.2 205.9" fill="none" stroke="#000" stroke-width="1.37626" stroke-linejoin="round" stroke-linecap="round"/>
<path d="M229 211.7 L230.2 210.6 L229.9 211" fill="none" stroke="#000" stroke-width="1.529" stroke-linejoin="round" stroke-linecap="round"/>
<path d="M231.8 212.6 L232.1 212.4 L232.3 213.8" fill="none" stroke="#000" stroke-width="1.25368" stroke-linejoin="round" stroke-linecap="round"/>
<path d="M233.3 209.4 L233.1 209.5 L232.1 209.8" fill="none" stroke="#000" stroke-width="1.24487" stroke-linejoin="round" stroke-linecap="round"/>
<path d="M232.4 207.2 L232.9 208 L233.9 207.1" fill="none" stroke="#000" stroke-width="1.85748" stroke-linejoin="round" stroke-linecap="round"/>
<path d="M231 204.9 L230.3 204.7 L230 205" fill="none" stroke="#000" stroke-width="1.79044" stroke-linejoin="round" stroke-linecap="round"/>
<path d="M233.2 203 L232.8 202.9 L233.6 204.2" fill="none" stroke="#000" stroke-width="1.66501" stroke-linejoin="round" stroke-linecap="round"/>
<path d="M259 241 L267 234 L275 227 L283 220 L289 213 L294 207 L297 202 L292 199 L287 196 L288 189 L293 185 L298 182 L303 179 L306 173 L310 167 L314 161 L317 156 L322 150 L328 146 L333 145 L337 143 L342 140 L346 140.6 L341 143 L338 146 L337 150 L341 153 L346 155 L348 157 L341 155 L334 153 L328 155 L322 159 L319 165 L318 172 L316 179 L315 184 L317 188 L321 185 L324 182 L320 188 L315 190 L313 193 L316 195 L323 194 L327 191 L331 188 L337 184 L343 180 L349 177 L355 175 L358 170 L356 165 L353 161 L355 157 L358 153 L363 147 L366 151 L372 152 L376 150 L380 151 L379 155 L383 159 L387 161 L385 164 L379 167 L375 170 L381 166 L388 163 L395 166 L399 170 L404 174 L409 176 L415 175" fill="none" stroke="#000" stroke-width="1.5" stroke-linejoin="round" stroke-linecap="round"/>
<path d="M267 187 L273 184 L281 182 L288 181.6 L285 185 L279 187 L275 190 L269 192 L266 190Z" fill="none" stroke="#000" stroke-width="1.5" stroke-linejoin="round" stroke-linecap="round"/>
<path d="M280 175 L286 171 L293 166.6" fill="none" stroke="#000" stroke-width="2.4" stroke-linejoin="round" stroke-linecap="round"/>
<path d="M325 170 L328 174" fill="none" stroke="#000" stroke-width="2.2" stroke-linejoin="round" stroke-linecap="round"/>
<path d="M331 165 L334 167.4" fill="none" stroke="#000" stroke-width="2.2" stroke-linejoin="round" stroke-linecap="round"/>
<path d="M364 180 L367 175 L371 169" fill="none" stroke="#000" stroke-width="2.6" stroke-linejoin="round" stroke-linecap="round"/>
<path d="M377 129 L379 134" fill="none" stroke="#000" stroke-width="2.2" stroke-linejoin="round" stroke-linecap="round"/>
<path d="M261 207 L265 209 L271 210" fill="none" stroke="#000" stroke-width="2.6" stroke-linejoin="round" stroke-linecap="round"/>
<path d="M269 204 L272 206" fill="none" stroke="#000" stroke-width="2.2" stroke-linejoin="round" stroke-linecap="round"/>
<path d="M255 221 L259 220.6 L263 223 L261 225.4 L257 225Z" fill="none" stroke="#000" stroke-width="1.5" stroke-linejoin="round" stroke-linecap="round"/>
<path d="M280.1 236.2 L281.9 232.6 L285.6 230.3 L289.2 228.9 L290.2 226.2 L292.9 223.4 L296.6 219.7 L300.2 216.1 L303.9 212.4 L306.6 216.1 L304.8 219.7 L302.1 222.5 L303.9 225.2 L307.6 225.2 L309.4 228 L310.3 231.6 L307.6 235.3 L304.8 238.1 L302.1 240.8 L298.4 242.6 L295.7 245.4 L292.9 248.1 L289.7 250.4 L286.5 250 L283.7 246.3 L281.9 242.6 L280.1 239Z" fill="#fff" stroke="#000" stroke-width="2" stroke-linejoin="round" stroke-linecap="round"/>
<path d="M279.7 236.3 L281.7 232.8 L285.8 229.6 L288.4 229.4 L289.8 225.8 L293.7 223.4 L295.3 221.5 L296.8 219.1 L298.6 218.5 L300.2 216.5 L302.3 213.6 L304.3 212.5" fill="none" stroke="#000" stroke-width="2.6" stroke-linejoin="round" stroke-linecap="round"/>
<path d="M281.7 232.8 L280.3 233 L279 232.5" fill="none" stroke="#000" stroke-width="3.22246" stroke-linejoin="round" stroke-linecap="round"/>
<path d="M289.8 225.8 L290 225.6 L288.8 224.2" fill="none" stroke="#000" stroke-width="2.20669" stroke-linejoin="round" stroke-linecap="round"/>
<path d="M293.7 223.4 L292.2 223 L291 222.3" fill="none" stroke="#000" stroke-width="2.47133" stroke-linejoin="round" stroke-linecap="round"/>
<path d="M295.3 221.5 L294.8 221.2 L294 220.6" fill="none" stroke="#000" stroke-width="3.25546" stroke-linejoin="round" stroke-linecap="round"/>
<path d="M288.3 233.9 L292 227.5 L297.5 222 L303 215.6" fill="none" stroke="#000" stroke-width="3.2" stroke-linejoin="round" stroke-linecap="round"/>
<path d="M289.7 235.3 L293.4 228.9 L298.4 223.4" fill="none" stroke="#000" stroke-width="2.2" stroke-linejoin="round" stroke-linecap="round"/>
<path d="M309.9 231 L308.8 232.9 L306.9 235.1 L305.5 238.6 L302.5 240.4 L298.5 242.2 L295.2 244.8 L292.4 248.8 L290.2 250.9 L287 249.5 L284.8 248.4 L284.1 246.9 L282.5 241.9" fill="none" stroke="#000" stroke-width="2.2" stroke-linejoin="round" stroke-linecap="round"/>
<path d="M305.5 238.6 L305.9 239.6 L307.6 239.3" fill="none" stroke="#000" stroke-width="2.71203" stroke-linejoin="round" stroke-linecap="round"/>
<path d="M302.5 240.4 L303.9 242 L305.1 242.4" fill="none" stroke="#000" stroke-width="2.69285" stroke-linejoin="round" stroke-linecap="round"/>
<path d="M298.5 242.2 L299.2 242.6 L300.2 244.1" fill="none" stroke="#000" stroke-width="2.09562" stroke-linejoin="round" stroke-linecap="round"/>
<path d="M292.4 248.8 L293.3 249.1 L295 249.4" fill="none" stroke="#000" stroke-width="2.27836" stroke-linejoin="round" stroke-linecap="round"/>
<path d="M290.2 250.9 L289.8 251.1 L289.6 252.3" fill="none" stroke="#000" stroke-width="2.45593" stroke-linejoin="round" stroke-linecap="round"/>
<path d="M287 249.5 L286.3 251 L286.3 252.3" fill="none" stroke="#000" stroke-width="2.75475" stroke-linejoin="round" stroke-linecap="round"/>
<path d="M284.8 248.4 L285 249.3 L284.3 249.9" fill="none" stroke="#000" stroke-width="2.02116" stroke-linejoin="round" stroke-linecap="round"/>
<path d="M284.1 246.9 L282.7 248.1 L282.8 248.7" fill="none" stroke="#000" stroke-width="2.74552" stroke-linejoin="round" stroke-linecap="round"/>
<path d="M301.7 223.2 L303.3 225.5 L306.9 224.8 L310.2 227.5 L310.5 231.5" fill="none" stroke="#000" stroke-width="2.2" stroke-linejoin="round" stroke-linecap="round"/>
<path d="M303.3 225.5 L302.5 226.5 L302.1 227.5" fill="none" stroke="#000" stroke-width="2.59493" stroke-linejoin="round" stroke-linecap="round"/>
<path d="M310.2 227.5 L308.9 227 L308.8 227.3" fill="none" stroke="#000" stroke-width="2.85076" stroke-linejoin="round" stroke-linecap="round"/>
<path d="M303.9 208.3 L309.4 208.7 L313.1 214.2 L312.1 218.8 L308.5 217.9 L305.7 213.3Z" fill="#000" stroke="#000" stroke-width="2.6" stroke-linejoin="round" stroke-linecap="round"/>
<path d="M300.2 216.1 L303.9 212.4 L306.6 216.1 L304.8 219.7 L302.1 222.5" fill="none" stroke="#000" stroke-width="3" stroke-linejoin="round" stroke-linecap="round"/>
<path d="M279.3 256.2 L282.1 253.4 L286.6 252.5 L288.5 254.3 L284.8 255.2 L281.2 257.1Z" fill="#000" stroke="#000" stroke-width="2.2" stroke-linejoin="round" stroke-linecap="round"/>
<path d="M283.9 243.3 L285.3 245.6 L286.6 247.9" fill="none" stroke="#000" stroke-width="2.6" stroke-linejoin="round" stroke-linecap="round"/>
<path d="M290.3 243.3 L289.4 246.5 L288.5 249.7" fill="none" stroke="#000" stroke-width="2.6" stroke-linejoin="round" stroke-linecap="round"/>
<path d="M268.6 269.2 L270.9 269.2 L270.9 270.6 L268.6 270.6Z" fill="#000" stroke="#000" stroke-width="2" stroke-linejoin="round" stroke-linecap="round"/>
<path d="M357.2 170.3 L357 171 L355.4 171.4" fill="none" stroke="#000" stroke-width="1.42959" stroke-linejoin="round" stroke-linecap="round"/>
<path d="M357 167.9 L358.1 166.4 L359.4 166" fill="none" stroke="#000" stroke-width="1.64545" stroke-linejoin="round" stroke-linecap="round"/>
<path d="M354.1 163.5 L355.8 162.1 L356.3 160.2" fill="none" stroke="#000" stroke-width="1.86713" stroke-linejoin="round" stroke-linecap="round"/>
<path d="M353.4 160.9 L354.6 161.6 L355.9 161.6" fill="none" stroke="#000" stroke-width="1.5068" stroke-linejoin="round" stroke-linecap="round"/>
<path d="M354.1 159.3 L356.3 159.1 L357 160.5" fill="none" stroke="#000" stroke-width="1.60346" stroke-linejoin="round" stroke-linecap="round"/>
<path d="M354.5 157.1 L355.5 157.3 L357.1 157.4" fill="none" stroke="#000" stroke-width="1.93617" stroke-linejoin="round" stroke-linecap="round"/>
<path d="M358.5 153.3 L359.6 153.2 L360.9 154.2" fill="none" stroke="#000" stroke-width="1.48311" stroke-linejoin="round" stroke-linecap="round"/>
<path d="M360.2 150.7 L362.3 152.1 L363 152.1" fill="none" stroke="#000" stroke-width="1.48203" stroke-linejoin="round" stroke-linecap="round"/>
<path d="M363.5 146.9 L361.9 148.7 L361.5 149.5" fill="none" stroke="#000" stroke-width="1.61989" stroke-linejoin="round" stroke-linecap="round"/>
<path d="M369.7 151.6 L371 150.6 L370.6 149.6" fill="none" stroke="#000" stroke-width="1.64231" stroke-linejoin="round" stroke-linecap="round"/>
<path d="M373.8 151.7 L374.6 153.3 L374.5 154" fill="none" stroke="#000" stroke-width="1.56877" stroke-linejoin="round" stroke-linecap="round"/>
<path d="M376.7 150 L376.6 147.7 L376 146.2" fill="none" stroke="#000" stroke-width="1.43874" stroke-linejoin="round" stroke-linecap="round"/>
<path d="M380.2 151.3 L380.8 151.5 L381.5 151" fill="none" stroke="#000" stroke-width="1.25175" stroke-linejoin="round" stroke-linecap="round"/>
<path d="M379.5 155.8 L380.8 156 L383.3 155.8" fill="none" stroke="#000" stroke-width="1.39889" stroke-linejoin="round" stroke-linecap="round"/>
<path d="M385.1 159.3 L386.5 159.5 L386.4 158.3" fill="none" stroke="#000" stroke-width="1.53066" stroke-linejoin="round" stroke-linecap="round"/>
<path d="M384.4 164.3 L383.9 163 L382.3 162.3" fill="none" stroke="#000" stroke-width="1.47258" stroke-linejoin="round" stroke-linecap="round"/>
<path d="M382.7 164.5 L383.9 166.2 L385.8 166.3" fill="none" stroke="#000" stroke-width="1.52302" stroke-linejoin="round" stroke-linecap="round"/>
<path d="M317.2 190.3 L317.3 191.2 L316.8 192.8" fill="none" stroke="#000" stroke-width="1.63082" stroke-linejoin="round" stroke-linecap="round"/>
<path d="M319.1 191.8 L317.7 193.2 L317 193.1" fill="none" stroke="#000" stroke-width="1.28855" stroke-linejoin="round" stroke-linecap="round"/>
<path d="M320.3 193 L319.8 192.7 L319.4 193.8" fill="none" stroke="#000" stroke-width="1.70116" stroke-linejoin="round" stroke-linecap="round"/>
<path d="M328.4 189.1 L328.9 190 L329.2 191.1" fill="none" stroke="#000" stroke-width="1.82998" stroke-linejoin="round" stroke-linecap="round"/>
<path d="M333.1 186.5 L333.6 187.2 L333.5 187.5" fill="none" stroke="#000" stroke-width="1.94482" stroke-linejoin="round" stroke-linecap="round"/>
<path d="M337.6 183.7 L337.6 184.4 L339.1 185.4" fill="none" stroke="#000" stroke-width="1.32604" stroke-linejoin="round" stroke-linecap="round"/>
<path d="M338.4 182.1 L339 182.1 L340.8 183" fill="none" stroke="#000" stroke-width="1.49321" stroke-linejoin="round" stroke-linecap="round"/>
<path d="M342.5 180.1 L343.6 181.5 L343.6 181.9" fill="none" stroke="#000" stroke-width="1.84799" stroke-linejoin="round" stroke-linecap="round"/>
<path d="M345.6 178.8 L346.6 180.2 L346.4 180.2" fill="none" stroke="#000" stroke-width="1.31319" stroke-linejoin="round" stroke-linecap="round"/>
<path d="M347.9 177.3 L348.3 177.9 L348.8 178.3" fill="none" stroke="#000" stroke-width="1.39706" stroke-linejoin="round" stroke-linecap="round"/>
<path d="M349.5 176.5 L350 178 L350.3 178" fill="none" stroke="#000" stroke-width="1.71787" stroke-linejoin="round" stroke-linecap="round"/>
<path d="M352.9 175.9 L352.4 177.7 L353.4 178.1" fill="none" stroke="#000" stroke-width="1.78498" stroke-linejoin="round" stroke-linecap="round"/>
<path d="M256.7 243.1 L256.4 242.3 L255.9 243" fill="none" stroke="#000" stroke-width="1.34787" stroke-linejoin="round" stroke-linecap="round"/>
<path d="M258.6 241 L258.4 240.6 L258.4 239.7" fill="none" stroke="#000" stroke-width="1.35473" stroke-linejoin="round" stroke-linecap="round"/>
<path d="M263 237.6 L261.8 236.8 L261.9 235.8" fill="none" stroke="#000" stroke-width="1.7651" stroke-linejoin="round" stroke-linecap="round"/>
<path d="M264.6 235.7 L264.5 234.5 L262.7 234.5" fill="none" stroke="#000" stroke-width="1.84437" stroke-linejoin="round" stroke-linecap="round"/>
<path d="M269.2 232 L268.8 231.9 L268.8 231.4" fill="none" stroke="#000" stroke-width="1.75221" stroke-linejoin="round" stroke-linecap="round"/>
<path d="M273 229.1 L272.3 228.4 L271.4 227.9" fill="none" stroke="#000" stroke-width="1.60174" stroke-linejoin="round" stroke-linecap="round"/>
<path d="M278.7 223.3 L278.4 222.3 L278.3 222.2" fill="none" stroke="#000" stroke-width="1.63521" stroke-linejoin="round" stroke-linecap="round"/>
<path d="M281.1 221.9 L279.7 222.2 L279.6 221.5" fill="none" stroke="#000" stroke-width="1.30031" stroke-linejoin="round" stroke-linecap="round"/>
<path d="M285.8 216.7 L285.9 216.2 L285.3 215.9" fill="none" stroke="#000" stroke-width="1.46476" stroke-linejoin="round" stroke-linecap="round"/>
<path d="M289.3 212.6 L288.2 212.4 L287.6 211.7" fill="none" stroke="#000" stroke-width="1.41685" stroke-linejoin="round" stroke-linecap="round"/>
<path d="M292 208.9 L290.3 209.6 L289.8 208.8" fill="none" stroke="#000" stroke-width="2.06893" stroke-linejoin="round" stroke-linecap="round"/>
<path d="M295.6 204.2 L294.9 204.4 L294.6 204.3" fill="none" stroke="#000" stroke-width="2.05315" stroke-linejoin="round" stroke-linecap="round"/>
<path d="M312.2 192.3 L316.4 194.3 L319.2 195.4 L321.2 194.3 L323.7 193.5 L325.2 192.2 L327 191.9 L328.4 190 L331.5 187.2 L334 186.6 L335.1 184.9 L337.1 184.9 L338.7 183.1 L341.6 182.1 L343.4 179.9 L344.7 178.8 L346.7 178.8 L349.7 176.4 L351.5 175.1 L355.9 174.1" fill="none" stroke="#000" stroke-width="2.6" stroke-linejoin="round" stroke-linecap="round"/>
<path d="M316.4 194.3 L316.6 193.6 L316.8 193.2" fill="none" stroke="#000" stroke-width="3.01881" stroke-linejoin="round" stroke-linecap="round"/>
<path d="M319.2 195.4 L319 197.2 L318.6 197.8" fill="none" stroke="#000" stroke-width="2.95841" stroke-linejoin="round" stroke-linecap="round"/>
<path d="M321.2 194.3 L321 193.4 L321.3 192.1" fill="none" stroke="#000" stroke-width="2.31354" stroke-linejoin="round" stroke-linecap="round"/>
<path d="M328.4 190 L327.2 189.8 L327.4 188.2" fill="none" stroke="#000" stroke-width="3.25541" stroke-linejoin="round" stroke-linecap="round"/>
<path d="M331.5 187.2 L332.5 187.3 L334 187.9" fill="none" stroke="#000" stroke-width="2.21755" stroke-linejoin="round" stroke-linecap="round"/>
<path d="M337.1 184.9 L337.7 186.1 L338.6 187.9" fill="none" stroke="#000" stroke-width="2.76461" stroke-linejoin="round" stroke-linecap="round"/>
<path d="M338.7 183.1 L338.2 183.1 L337.4 182.7" fill="none" stroke="#000" stroke-width="3.14878" stroke-linejoin="round" stroke-linecap="round"/>
<path d="M343.4 179.9 L343.4 181.2 L343.4 182.5" fill="none" stroke="#000" stroke-width="2.35074" stroke-linejoin="round" stroke-linecap="round"/>
<path d="M344.7 178.8 L345.2 179.8 L345.2 180.2" fill="none" stroke="#000" stroke-width="2.93786" stroke-linejoin="round" stroke-linecap="round"/>
<path d="M346.7 178.8 L346.7 177.8 L346.9 177.2" fill="none" stroke="#000" stroke-width="2.49932" stroke-linejoin="round" stroke-linecap="round"/>
<path d="M351.5 175.1 L352.4 175.1 L352.4 176.4" fill="none" stroke="#000" stroke-width="2.65653" stroke-linejoin="round" stroke-linecap="round"/>
<path d="M354.8 175.1 L356.6 172.7 L358.6 170.9 L357.3 168.1 L356.1 164.9 L355.2 164 L353.1 161.3 L353.1 159.7 L355.3 157.3 L355.8 155.2 L358.2 152.3 L359.5 151.5 L361.9 149.4 L363.3 147.9" fill="none" stroke="#000" stroke-width="2.8" stroke-linejoin="round" stroke-linecap="round"/>
<path d="M358.6 170.9 L359 170.4 L360.6 170.9" fill="none" stroke="#000" stroke-width="3.07197" stroke-linejoin="round" stroke-linecap="round"/>
<path d="M355.2 164 L353.6 165.6 L352.7 166.6" fill="none" stroke="#000" stroke-width="3.32431" stroke-linejoin="round" stroke-linecap="round"/>
<path d="M353.1 161.3 L352.6 161.2 L351.6 161.8" fill="none" stroke="#000" stroke-width="3.22864" stroke-linejoin="round" stroke-linecap="round"/>
<path d="M353.1 159.7 L353.8 159.6 L355 160.6" fill="none" stroke="#000" stroke-width="2.75373" stroke-linejoin="round" stroke-linecap="round"/>
<path d="M359.5 151.5 L357.8 150.6 L357.5 151" fill="none" stroke="#000" stroke-width="3.0079" stroke-linejoin="round" stroke-linecap="round"/>
<path d="M361.9 149.4 L363.5 151.6 L363.9 152.3" fill="none" stroke="#000" stroke-width="3.47919" stroke-linejoin="round" stroke-linecap="round"/>
<path d="M363.8 147 L364.6 148.7 L365.2 150.7 L368.3 150.7 L371.3 151.1 L374.1 150.2 L376.2 149.7 L380.8 151.3 L379.5 155.3 L381.5 157.9 L384 158.3 L384.6 159.6 L386.4 161.5 L385.8 163.1 L382.3 165.8 L380.2 165.2 L379.8 166.6 L376 168.6 L374.4 169.8" fill="none" stroke="#000" stroke-width="2.6" stroke-linejoin="round" stroke-linecap="round"/>
<path d="M364.6 148.7 L366.6 147.5 L368 146.1" fill="none" stroke="#000" stroke-width="2.92187" stroke-linejoin="round" stroke-linecap="round"/>
<path d="M371.3 151.1 L370.9 153.3 L371.2 154" fill="none" stroke="#000" stroke-width="2.62674" stroke-linejoin="round" stroke-linecap="round"/>
<path d="M374.1 150.2 L376.1 151.6 L376.8 151.4" fill="none" stroke="#000" stroke-width="3.20716" stroke-linejoin="round" stroke-linecap="round"/>
<path d="M376.2 149.7 L375.7 148.2 L375.6 147.8" fill="none" stroke="#000" stroke-width="2.93414" stroke-linejoin="round" stroke-linecap="round"/>
<path d="M379.5 155.3 L378.3 156.9 L377.8 157" fill="none" stroke="#000" stroke-width="2.63229" stroke-linejoin="round" stroke-linecap="round"/>
<path d="M381.5 157.9 L380.4 158.8 L380.9 159.1" fill="none" stroke="#000" stroke-width="2.76433" stroke-linejoin="round" stroke-linecap="round"/>
<path d="M384 158.3 L384 159.1 L382.6 160.3" fill="none" stroke="#000" stroke-width="2.08598" stroke-linejoin="round" stroke-linecap="round"/>
<path d="M382.3 165.8 L382.6 166.8 L382.2 167.6" fill="none" stroke="#000" stroke-width="2.18131" stroke-linejoin="round" stroke-linecap="round"/>
<path d="M376 168.6 L375.9 169.9 L376 170.4" fill="none" stroke="#000" stroke-width="3.09394" stroke-linejoin="round" stroke-linecap="round"/>
<path d="M359.1 154.4 L361.1 156.4 L363.2 158 L367.2 157.4 L369.5 157.7 L371.2 156.7 L374.9 158.7" fill="none" stroke="#000" stroke-width="2.2" stroke-linejoin="round" stroke-linecap="round"/>
<path d="M361.1 156.4 L361.4 156.3 L361.8 155.7" fill="none" stroke="#000" stroke-width="1.93569" stroke-linejoin="round" stroke-linecap="round"/>
<path d="M363.2 158 L363.6 160 L362.7 161" fill="none" stroke="#000" stroke-width="2.23384" stroke-linejoin="round" stroke-linecap="round"/>
<path d="M369.5 157.7 L368.4 156.4 L368.7 155.1" fill="none" stroke="#000" stroke-width="2.0258" stroke-linejoin="round" stroke-linecap="round"/>
<path d="M371.2 156.7 L371.9 155.1 L372.2 154.5" fill="none" stroke="#000" stroke-width="2.28002" stroke-linejoin="round" stroke-linecap="round"/>
<path d="M388.3 163 L390.8 164 L393.1 164.6 L395 165.6 L396.5 167.6 L398.8 169.7 L401.6 172 L403.7 174.1 L406.4 175.2 L408.9 175.7 L411.7 176 L415.1 175.1" fill="none" stroke="#000" stroke-width="1.8" stroke-linejoin="round" stroke-linecap="round"/>
<path d="M393.1 164.6 L392.8 164.6 L393 164.1" fill="none" stroke="#000" stroke-width="1.71539" stroke-linejoin="round" stroke-linecap="round"/>
<path d="M395 165.6 L394.7 166.7 L394.7 166.4" fill="none" stroke="#000" stroke-width="1.55058" stroke-linejoin="round" stroke-linecap="round"/>
<path d="M396.5 167.6 L396.2 167.3 L396.9 167.3" fill="none" stroke="#000" stroke-width="1.90435" stroke-linejoin="round" stroke-linecap="round"/>
<path d="M403.7 174.1 L403.2 174.7 L402.9 174.9" fill="none" stroke="#000" stroke-width="2.33021" stroke-linejoin="round" stroke-linecap="round"/>
<path d="M406.4 175.2 L405.8 175.3 L405.8 175.6" fill="none" stroke="#000" stroke-width="2.24572" stroke-linejoin="round" stroke-linecap="round"/>
<path d="M408.9 175.7 L408.9 175 L408.7 175.1" fill="none" stroke="#000" stroke-width="2.24013" stroke-linejoin="round" stroke-linecap="round"/>
<path d="M411.7 176 L411.5 176.3 L411.7 177.3" fill="none" stroke="#000" stroke-width="2.13331" stroke-linejoin="round" stroke-linecap="round"/>
<path d="M337.3 143.3 L337.9 143.7 L337.6 144.7" fill="none" stroke="#000" stroke-width="1.23049" stroke-linejoin="round" stroke-linecap="round"/>
<path d="M332.9 144.8 L332.5 145.6 L333.2 145.2" fill="none" stroke="#000" stroke-width="1.24968" stroke-linejoin="round" stroke-linecap="round"/>
<path d="M327.8 146 L328.1 146.4 L327.8 147.3" fill="none" stroke="#000" stroke-width="1.751" stroke-linejoin="round" stroke-linecap="round"/>
<path d="M325.5 147.4 L324.6 146.7 L325.3 146.8" fill="none" stroke="#000" stroke-width="1.41932" stroke-linejoin="round" stroke-linecap="round"/>
<path d="M319 154.3 L319.5 154.2 L320.1 154.6" fill="none" stroke="#000" stroke-width="1.81147" stroke-linejoin="round" stroke-linecap="round"/>
<path d="M314.3 160.9 L313.6 160.7 L313.8 160.7" fill="none" stroke="#000" stroke-width="1.70757" stroke-linejoin="round" stroke-linecap="round"/>
<path d="M313.1 163.1 L312.2 163.4 L312.9 162.7" fill="none" stroke="#000" stroke-width="1.71138" stroke-linejoin="round" stroke-linecap="round"/>
<path d="M310.5 166.8 L309.7 166.9 L310 166.8" fill="none" stroke="#000" stroke-width="1.39142" stroke-linejoin="round" stroke-linecap="round"/>
<path d="M309 169.2 L308.8 169.6 L308.5 168.9" fill="none" stroke="#000" stroke-width="1.94236" stroke-linejoin="round" stroke-linecap="round"/>
<path d="M305.7 172.9 L305.7 173.3 L306.9 173.6" fill="none" stroke="#000" stroke-width="1.37884" stroke-linejoin="round" stroke-linecap="round"/>
<path d="M305.3 174.5 L304.8 173.6 L304.7 173.5" fill="none" stroke="#000" stroke-width="1.63431" stroke-linejoin="round" stroke-linecap="round"/>
<path d="M415 175 L423 174.4 L431 176 L436 177.4 L437.4 175 L439 178 L441 181 L447 183.4 L454 184 L458 182 L459.4 177.4 L461.4 175.4 L464 182 L461 185 L457 188 L463 191 L469 195 L475 200 L481 205 L486 209 L491 213 L495 217" fill="none" stroke="#000" stroke-width="1.6" stroke-linejoin="round" stroke-linecap="round"/>
<path d="M458 182 L460 179 L462 183 L460.6 186" fill="none" stroke="#000" stroke-width="1.4" stroke-linejoin="round" stroke-linecap="round"/>
<path d="M466 142 L470 138 L469 145 L473 152" fill="none" stroke="#000" stroke-width="2.4" stroke-linejoin="round" stroke-linecap="round"/>
<path d="M484 138 L488 142 L490 148" fill="none" stroke="#000" stroke-width="2.4" stroke-linejoin="round" stroke-linecap="round"/>
<path d="M510 144 L511 149 L512 154" fill="none" stroke="#000" stroke-width="2.6" stroke-linejoin="round" stroke-linecap="round"/>
<path d="M499 163 L498 168 L501 171 L500.6 175" fill="none" stroke="#000" stroke-width="2.2" stroke-linejoin="round" stroke-linecap="round"/>
<path d="M519 164 L522 168 L519 173 L513 175 L515 179" fill="none" stroke="#000" stroke-width="2.4" stroke-linejoin="round" stroke-linecap="round"/>
<path d="M534 166 L540 173 L545 179 L547 186" fill="none" stroke="#000" stroke-width="2.4" stroke-linejoin="round" stroke-linecap="round"/>
<path d="M524 176 L527 183 L521 185 L519 191" fill="none" stroke="#000" stroke-width="2.4" stroke-linejoin="round" stroke-linecap="round"/>
<path d="M529 189 L525 195" fill="none" stroke="#000" stroke-width="2.6" stroke-linejoin="round" stroke-linecap="round"/>
<path d="M488.8 200 L492.5 201.9 L496.9 205.6 L501.2 209.4 L503.1 213.8 L501.2 216.2" fill="none" stroke="#000" stroke-width="2.4" stroke-linejoin="round" stroke-linecap="round"/>
<path d="M487.5 201.2 L490 203.8" fill="none" stroke="#000" stroke-width="2.2" stroke-linejoin="round" stroke-linecap="round"/>
<path d="M498.8 198.8 L500.6 203.1 L503.8 202.5" fill="none" stroke="#000" stroke-width="2.2" stroke-linejoin="round" stroke-linecap="round"/>
<path d="M505.6 191.9 L507.5 189.4 L510 188.8" fill="none" stroke="#000" stroke-width="2.2" stroke-linejoin="round" stroke-linecap="round"/>
<path d="M507.5 189.4 L508.8 195 L510.6 201.2 L512.5 207.5 L514.4 213.8 L516.2 218.8 L517.5 222.5" fill="none" stroke="#000" stroke-width="2.6" stroke-linejoin="round" stroke-linecap="round"/>
<path d="M510 195 L511.9 201.2 L513.8 207.5 L515.2 212.8" fill="none" stroke="#000" stroke-width="1.6" stroke-linejoin="round" stroke-linecap="round"/>
<path d="M495.5 220.1 L498.5 219.3 L500 218.9 L502 218.5 L505.2 218.6 L506.9 218.4 L509.3 219.9 L514.1 220.5 L516.4 225.7 L515.2 227.7 L513.9 229.2 L512.5 233.1 L510.2 234.6 L508 236.1 L507.4 238.6 L506.2 240.2 L503.8 242.8 L501.8 238.4 L501.7 237.1 L500.5 234.1 L498.8 230.9 L497.8 228.1 L497.6 226.1 L496.8 223.6 L496.3 220.6" fill="none" stroke="#000" stroke-width="2" stroke-linejoin="round" stroke-linecap="round"/>
<path d="M498.5 219.3 L498.4 219.2 L498.8 218.4" fill="none" stroke="#000" stroke-width="2.01979" stroke-linejoin="round" stroke-linecap="round"/>
<path d="M502 218.5 L501.5 219.1 L502.6 219.9" fill="none" stroke="#000" stroke-width="2.52285" stroke-linejoin="round" stroke-linecap="round"/>
<path d="M505.2 218.6 L504.6 218.1 L504.1 217" fill="none" stroke="#000" stroke-width="1.78839" stroke-linejoin="round" stroke-linecap="round"/>
<path d="M506.9 218.4 L506.8 218.4 L507.1 216.7" fill="none" stroke="#000" stroke-width="1.60047" stroke-linejoin="round" stroke-linecap="round"/>
<path d="M513.9 229.2 L515.4 228.9 L516.5 229.8" fill="none" stroke="#000" stroke-width="2.5893" stroke-linejoin="round" stroke-linecap="round"/>
<path d="M512.5 233.1 L512 233 L510.4 233.2" fill="none" stroke="#000" stroke-width="1.67428" stroke-linejoin="round" stroke-linecap="round"/>
<path d="M510.2 234.6 L511.1 234.3 L511.7 235.1" fill="none" stroke="#000" stroke-width="2.18727" stroke-linejoin="round" stroke-linecap="round"/>
<path d="M507.4 238.6 L507.5 239.1 L506.2 238.5" fill="none" stroke="#000" stroke-width="1.8495" stroke-linejoin="round" stroke-linecap="round"/>
<path d="M506.2 240.2 L506.7 240.3 L507.2 241.6" fill="none" stroke="#000" stroke-width="1.6474" stroke-linejoin="round" stroke-linecap="round"/>
<path d="M503.8 242.8 L503.3 242.1 L503.6 240.4" fill="none" stroke="#000" stroke-width="2.19647" stroke-linejoin="round" stroke-linecap="round"/>
<path d="M501.8 238.4 L499.8 238.2 L498.9 237.9" fill="none" stroke="#000" stroke-width="2.25351" stroke-linejoin="round" stroke-linecap="round"/>
<path d="M500.5 234.1 L499.1 233.6 L499.2 233.8" fill="none" stroke="#000" stroke-width="2.04571" stroke-linejoin="round" stroke-linecap="round"/>
<path d="M498.8 230.9 L498.7 230.8 L497.2 232.1" fill="none" stroke="#000" stroke-width="1.73841" stroke-linejoin="round" stroke-linecap="round"/>
<path d="M497.8 228.1 L499.1 227.4 L500.1 227.8" fill="none" stroke="#000" stroke-width="1.63508" stroke-linejoin="round" stroke-linecap="round"/>
<path d="M497.6 226.1 L498.3 226.2 L500.5 225.9" fill="none" stroke="#000" stroke-width="2.08224" stroke-linejoin="round" stroke-linecap="round"/>
<path d="M501.2 222.8 L504 222.6 L505.4 223.6 L508.3 225.5 L511.5 226.4 L510.7 229 L509.4 231.1 L505.7 233.1 L503.9 231.2 L502.4 229.1 L501.9 225.5 L501.7 221.7" fill="none" stroke="#000" stroke-width="1.5" stroke-linejoin="round" stroke-linecap="round"/>
<path d="M504 222.6 L504.3 220.8 L503.2 220.2" fill="none" stroke="#000" stroke-width="1.5174" stroke-linejoin="round" stroke-linecap="round"/>
<path d="M505.4 223.6 L505.5 224.8 L504.1 224.7" fill="none" stroke="#000" stroke-width="1.61636" stroke-linejoin="round" stroke-linecap="round"/>
<path d="M508.3 225.5 L508.7 224.8 L508.8 224.1" fill="none" stroke="#000" stroke-width="1.48844" stroke-linejoin="round" stroke-linecap="round"/>
<path d="M511.5 226.4 L513 226.4 L513.9 226.8" fill="none" stroke="#000" stroke-width="1.47235" stroke-linejoin="round" stroke-linecap="round"/>
<path d="M505.7 233.1 L505.9 234.3 L505.8 234.5" fill="none" stroke="#000" stroke-width="1.33456" stroke-linejoin="round" stroke-linecap="round"/>
<path d="M503.9 231.2 L504.3 230 L504.1 230.4" fill="none" stroke="#000" stroke-width="1.3533" stroke-linejoin="round" stroke-linecap="round"/>
<path d="M503.4 242.8 L505.9 241.2 L507 238.4 L508.8 237.1 L511.6 235.6 L512.6 237.6 L513.5 239.9 L514 242.7 L512.3 244.6 L512.2 248.1 L513 250.5 L512.4 252.9 L511.9 255.5" fill="none" stroke="#000" stroke-width="1.8" stroke-linejoin="round" stroke-linecap="round"/>
<path d="M505.9 241.2 L505 240.1 L503.9 239.2" fill="none" stroke="#000" stroke-width="1.76778" stroke-linejoin="round" stroke-linecap="round"/>
<path d="M507 238.4 L507.6 239.4 L507.9 240" fill="none" stroke="#000" stroke-width="1.6766" stroke-linejoin="round" stroke-linecap="round"/>
<path d="M508.8 237.1 L507.9 235.6 L507 234.9" fill="none" stroke="#000" stroke-width="1.60147" stroke-linejoin="round" stroke-linecap="round"/>
<path d="M511.6 235.6 L511.2 236.3 L511.2 238.1" fill="none" stroke="#000" stroke-width="1.88177" stroke-linejoin="round" stroke-linecap="round"/>
<path d="M512.6 237.6 L513.3 237.4 L515.3 237.5" fill="none" stroke="#000" stroke-width="2.00618" stroke-linejoin="round" stroke-linecap="round"/>
<path d="M513.5 239.9 L514.4 239.5 L516.8 240.2" fill="none" stroke="#000" stroke-width="2.16549" stroke-linejoin="round" stroke-linecap="round"/>
<path d="M512.2 248.1 L511.9 247.5 L510.7 247.4" fill="none" stroke="#000" stroke-width="2.07485" stroke-linejoin="round" stroke-linecap="round"/>
<path d="M512.4 252.9 L512.9 253.9 L514.3 254.9" fill="none" stroke="#000" stroke-width="2.21541" stroke-linejoin="round" stroke-linecap="round"/>
<path d="M515.6 220.3 L518.3 219.5 L519.6 217.1 L521.6 219.6 L522.2 221.5 L523.6 224.1 L524.4 225.8 L526.2 228.5 L525.8 231.7 L525.8 233.1 L525.1 236.5 L523.2 238.3 L521.9 239.7 L519.3 237 L519.8 234.8 L518.9 232.4 L517.7 229.9 L517.2 225.6 L516.7 223.3 L515.7 219.4" fill="none" stroke="#000" stroke-width="2" stroke-linejoin="round" stroke-linecap="round"/>
<path d="M519.6 217.1 L519.5 215.7 L519.3 214.9" fill="none" stroke="#000" stroke-width="1.85462" stroke-linejoin="round" stroke-linecap="round"/>
<path d="M521.6 219.6 L521.4 219 L522.3 218.7" fill="none" stroke="#000" stroke-width="2.2862" stroke-linejoin="round" stroke-linecap="round"/>
<path d="M523.6 224.1 L524.4 223.7 L525.3 223.4" fill="none" stroke="#000" stroke-width="2.19545" stroke-linejoin="round" stroke-linecap="round"/>
<path d="M524.4 225.8 L523.8 226.2 L522.8 226.6" fill="none" stroke="#000" stroke-width="2.16909" stroke-linejoin="round" stroke-linecap="round"/>
<path d="M526.2 228.5 L526.1 229.2 L525.3 228.6" fill="none" stroke="#000" stroke-width="2.02311" stroke-linejoin="round" stroke-linecap="round"/>
<path d="M525.8 231.7 L524.9 230.8 L524.6 230.8" fill="none" stroke="#000" stroke-width="2.22842" stroke-linejoin="round" stroke-linecap="round"/>
<path d="M525.8 233.1 L524.8 232.6 L524.8 233.5" fill="none" stroke="#000" stroke-width="1.60036" stroke-linejoin="round" stroke-linecap="round"/>
<path d="M525.1 236.5 L525.5 236.4 L524.5 235.5" fill="none" stroke="#000" stroke-width="1.60178" stroke-linejoin="round" stroke-linecap="round"/>
<path d="M523.2 238.3 L522.8 238 L521.9 238.2" fill="none" stroke="#000" stroke-width="2.32141" stroke-linejoin="round" stroke-linecap="round"/>
<path d="M519.3 237 L518 237.6 L517.1 238.5" fill="none" stroke="#000" stroke-width="2.55998" stroke-linejoin="round" stroke-linecap="round"/>
<path d="M519.8 234.8 L520.4 234.5 L522.5 233.8" fill="none" stroke="#000" stroke-width="2.02941" stroke-linejoin="round" stroke-linecap="round"/>
<path d="M517.7 229.9 L518 229.8 L516.9 230.6" fill="none" stroke="#000" stroke-width="2.08703" stroke-linejoin="round" stroke-linecap="round"/>
<path d="M517.2 225.6 L517.9 225.2 L518 224.8" fill="none" stroke="#000" stroke-width="2.0187" stroke-linejoin="round" stroke-linecap="round"/>
<path d="M516.7 223.3 L515.1 224.3 L514.7 224.7" fill="none" stroke="#000" stroke-width="1.82204" stroke-linejoin="round" stroke-linecap="round"/>
<path d="M524.5 213 L526 217 L527.3 219.2 L528.1 222.8 L529 225.8 L529 227.2 L530.6 229.6 L530.8 232.1 L532.4 235.6 L533 237.1 L534.4 240 L534.6 242.4 L536.1 244.3 L537.6 247.3 L538.9 250.7 L540.2 252.3" fill="none" stroke="#000" stroke-width="1.8" stroke-linejoin="round" stroke-linecap="round"/>
<path d="M528.1 222.8 L529.4 222.2 L530.2 220.6" fill="none" stroke="#000" stroke-width="2.19969" stroke-linejoin="round" stroke-linecap="round"/>
<path d="M529 225.8 L528.3 227.2 L526.4 228.8" fill="none" stroke="#000" stroke-width="1.50623" stroke-linejoin="round" stroke-linecap="round"/>
<path d="M530.8 232.1 L532.2 230.2 L534 229.1" fill="none" stroke="#000" stroke-width="1.72011" stroke-linejoin="round" stroke-linecap="round"/>
<path d="M533 237.1 L531.2 238.5 L530.7 238.6" fill="none" stroke="#000" stroke-width="2.15654" stroke-linejoin="round" stroke-linecap="round"/>
<path d="M534.4 240 L534.9 239.4 L536.9 239.5" fill="none" stroke="#000" stroke-width="2.31097" stroke-linejoin="round" stroke-linecap="round"/>
<path d="M534.6 242.4 L536.2 240 L536.4 238.7" fill="none" stroke="#000" stroke-width="1.88993" stroke-linejoin="round" stroke-linecap="round"/>
<path d="M536.1 244.3 L536.3 245.1 L535.4 245.7" fill="none" stroke="#000" stroke-width="1.85606" stroke-linejoin="round" stroke-linecap="round"/>
<path d="M523.8 213.8 L526.9 210.6 L528.8 210" fill="none" stroke="#000" stroke-width="1.8" stroke-linejoin="round" stroke-linecap="round"/>
<path d="M519.8 242.5 L521.8 243.7 L523.7 245.3 L525.9 245.8 L528 245.9 L532.2 244.4 L534.1 246.6 L535.5 249.5 L533.4 251.9 L533 254.1 L529.2 254.3 L527.7 254.7 L524.6 253.4 L522.1 253 L520.7 249.9 L519.6 248.2 L519.4 244.3 L520.8 243" fill="none" stroke="#000" stroke-width="1.8" stroke-linejoin="round" stroke-linecap="round"/>
<path d="M523.7 245.3 L523.7 244.3 L524.3 243.6" fill="none" stroke="#000" stroke-width="1.58783" stroke-linejoin="round" stroke-linecap="round"/>
<path d="M525.9 245.8 L525.4 244.8 L526.4 242.7" fill="none" stroke="#000" stroke-width="2.0691" stroke-linejoin="round" stroke-linecap="round"/>
<path d="M528 245.9 L527.4 244.9 L527.9 244.8" fill="none" stroke="#000" stroke-width="1.80559" stroke-linejoin="round" stroke-linecap="round"/>
<path d="M532.2 244.4 L532.3 243.5 L533 242.5" fill="none" stroke="#000" stroke-width="2.29749" stroke-linejoin="round" stroke-linecap="round"/>
<path d="M533 254.1 L533 255 L533.9 256.3" fill="none" stroke="#000" stroke-width="1.48194" stroke-linejoin="round" stroke-linecap="round"/>
<path d="M524.6 253.4 L524.1 251.6 L524.5 250.8" fill="none" stroke="#000" stroke-width="1.45003" stroke-linejoin="round" stroke-linecap="round"/>
<path d="M522.1 253 L521.8 252.9 L521.8 254.3" fill="none" stroke="#000" stroke-width="1.85801" stroke-linejoin="round" stroke-linecap="round"/>
<path d="M519.6 248.2 L518.6 248.9 L517.8 250.3" fill="none" stroke="#000" stroke-width="2.31047" stroke-linejoin="round" stroke-linecap="round"/>
<path d="M519.4 244.3 L517.8 244.7 L517 245.3" fill="none" stroke="#000" stroke-width="1.56707" stroke-linejoin="round" stroke-linecap="round"/>
<path d="M488.9 199.5 L493.2 202.6 L494.6 204 L496.4 205.2 L498.7 207.8 L500.7 210.2 L501.5 211.1 L502.4 214.2 L501 216.2" fill="none" stroke="#000" stroke-width="3.2" stroke-linejoin="round" stroke-linecap="round"/>
<path d="M493.2 202.6 L493 202.6 L492.8 203.5" fill="none" stroke="#000" stroke-width="3.60364" stroke-linejoin="round" stroke-linecap="round"/>
<path d="M496.4 205.2 L495.9 205.7 L495.5 206.6" fill="none" stroke="#000" stroke-width="3.6303" stroke-linejoin="round" stroke-linecap="round"/>
<path d="M498.7 207.8 L499 208.1 L498.4 208.8" fill="none" stroke="#000" stroke-width="3.13538" stroke-linejoin="round" stroke-linecap="round"/>
<path d="M500.7 210.2 L501.3 210.6 L502.5 210.2" fill="none" stroke="#000" stroke-width="3.20748" stroke-linejoin="round" stroke-linecap="round"/>
<path d="M484.4 202.1 L486.4 203.8 L489 204.8 L491.1 207 L492.4 208.8 L495.2 210.7 L497.5 212.9 L498 213.9 L498.8 216.7" fill="none" stroke="#000" stroke-width="2.4" stroke-linejoin="round" stroke-linecap="round"/>
<path d="M491.1 207 L492 206.3 L492.8 206" fill="none" stroke="#000" stroke-width="2.49438" stroke-linejoin="round" stroke-linecap="round"/>
<path d="M492.4 208.8 L492.7 208.4 L494 208.2" fill="none" stroke="#000" stroke-width="2.64349" stroke-linejoin="round" stroke-linecap="round"/>
<path d="M497.5 212.9 L497.4 212.1 L498.2 212.1" fill="none" stroke="#000" stroke-width="2.07323" stroke-linejoin="round" stroke-linecap="round"/>
<path d="M499.6 198.7 L500.1 201.3 L500.1 202.4 L502.4 204.4 L503.6 207.5 L505 208.4 L504.3 210.8" fill="none" stroke="#000" stroke-width="2.6" stroke-linejoin="round" stroke-linecap="round"/>
<path d="M500.1 202.4 L501.5 202.2 L502.5 202.6" fill="none" stroke="#000" stroke-width="3.04963" stroke-linejoin="round" stroke-linecap="round"/>
<path d="M508.2 190 L508.5 191.8 L508.5 195.3 L510.2 197.3 L510.1 201.8 L510.9 204.6 L512.2 207.7 L514 210.8 L514.2 213.5 L515.5 216.5 L516.1 218.7 L517.6 222.1" fill="none" stroke="#000" stroke-width="3.6" stroke-linejoin="round" stroke-linecap="round"/>
<path d="M508.5 191.8 L509.6 191.7 L509.8 190.5" fill="none" stroke="#000" stroke-width="3.33409" stroke-linejoin="round" stroke-linecap="round"/>
<path d="M508.5 195.3 L509.2 195.3 L510.7 194.2" fill="none" stroke="#000" stroke-width="2.95374" stroke-linejoin="round" stroke-linecap="round"/>
<path d="M510.9 204.6 L511.6 205 L513.3 205.3" fill="none" stroke="#000" stroke-width="2.95176" stroke-linejoin="round" stroke-linecap="round"/>
<path d="M512.2 207.7 L512.7 206.8 L513.3 207.4" fill="none" stroke="#000" stroke-width="3.00923" stroke-linejoin="round" stroke-linecap="round"/>
<path d="M514 210.8 L514.7 210.1 L515.1 209.6" fill="none" stroke="#000" stroke-width="4.37442" stroke-linejoin="round" stroke-linecap="round"/>
<path d="M514.2 213.5 L515.4 213.8 L515.5 213.5" fill="none" stroke="#000" stroke-width="4.42474" stroke-linejoin="round" stroke-linecap="round"/>
<path d="M512.5 196 L513.3 200.1 L513.5 202.9 L514.4 205.1 L515.4 209.2 L516 212.2 L517.3 214.5 L518.3 217.3 L519.3 220.6" fill="none" stroke="#000" stroke-width="2.4" stroke-linejoin="round" stroke-linecap="round"/>
<path d="M513.5 202.9 L515.2 202.8 L515.9 202.6" fill="none" stroke="#000" stroke-width="2.221" stroke-linejoin="round" stroke-linecap="round"/>
<path d="M517.3 214.5 L518.8 214.7 L519.6 215.3" fill="none" stroke="#000" stroke-width="2.55864" stroke-linejoin="round" stroke-linecap="round"/>
<path d="M518.3 217.3 L517.7 218 L516.7 217.2" fill="none" stroke="#000" stroke-width="2.87021" stroke-linejoin="round" stroke-linecap="round"/>
<path d="M495.3 219.4 L494.8 222 L496.7 223.1 L497.6 226.8 L497.6 229.6 L498.8 231.2 L500.2 234.1 L501.3 235.9 L501.9 238.2 L503.4 242.5 L503.7 246 L506.7 249.5 L506.7 251.8 L507.9 254.4" fill="none" stroke="#000" stroke-width="2" stroke-linejoin="round" stroke-linecap="round"/>
<path d="M494.8 222 L494.2 222.3 L493.2 222.5" fill="none" stroke="#000" stroke-width="2.02468" stroke-linejoin="round" stroke-linecap="round"/>
<path d="M496.7 223.1 L496.7 223 L497.7 222.8" fill="none" stroke="#000" stroke-width="2.15384" stroke-linejoin="round" stroke-linecap="round"/>
<path d="M497.6 229.6 L499.3 229.5 L499.9 229" fill="none" stroke="#000" stroke-width="1.95733" stroke-linejoin="round" stroke-linecap="round"/>
<path d="M500.2 234.1 L500.9 233.8 L501.4 233.9" fill="none" stroke="#000" stroke-width="2.26838" stroke-linejoin="round" stroke-linecap="round"/>
<path d="M503.4 242.5 L503.6 241.8 L505.1 242.5" fill="none" stroke="#000" stroke-width="2.13886" stroke-linejoin="round" stroke-linecap="round"/>
<path d="M506.7 249.5 L507.3 249.7 L508.8 248.8" fill="none" stroke="#000" stroke-width="2.34842" stroke-linejoin="round" stroke-linecap="round"/>
<path d="M506.7 251.8 L506.7 251.1 L507.8 252" fill="none" stroke="#000" stroke-width="2.14394" stroke-linejoin="round" stroke-linecap="round"/>
<path d="M507.1 242.4 L508.8 244.4 L510 248.2 L511.1 250 L512.4 252.4" fill="none" stroke="#000" stroke-width="3" stroke-linejoin="round" stroke-linecap="round"/>
<path d="M508.8 244.4 L510 245.1 L510.4 244.5" fill="none" stroke="#000" stroke-width="2.87504" stroke-linejoin="round" stroke-linecap="round"/>
<path d="M510 248.2 L510.5 248.5 L512.2 248" fill="none" stroke="#000" stroke-width="3.88392" stroke-linejoin="round" stroke-linecap="round"/>
<path d="M525 239.1 L527.1 241 L529.4 242.9 L530.8 243.9 L533.7 246 L536.7 248.5 L538 249.8" fill="none" stroke="#000" stroke-width="2.6" stroke-linejoin="round" stroke-linecap="round"/>
<path d="M527.1 241 L528 240.3 L529.2 240" fill="none" stroke="#000" stroke-width="2.10753" stroke-linejoin="round" stroke-linecap="round"/>
<path d="M529.4 242.9 L530.6 241.8 L530.5 240.5" fill="none" stroke="#000" stroke-width="3.266" stroke-linejoin="round" stroke-linecap="round"/>
<path d="M533.7 246 L534.8 245.5 L534.5 243.7" fill="none" stroke="#000" stroke-width="2.41558" stroke-linejoin="round" stroke-linecap="round"/>
<path d="M507 246.5 L509 248.7 L509.5 251.7 L511.8 253.8 L512.5 255.8 L513 258.6 L516.3 261.2 L516.5 259.2 L515.4 256.6 L516.4 255.4 L515.4 253.1 L513.2 250.6 L513.1 248.2 L513 246.5 L510.9 245.1 L510 243.2 L508.7 240.1" fill="none" stroke="#000" stroke-width="2" stroke-linejoin="round" stroke-linecap="round"/>
<path d="M509 248.7 L508.3 250.1 L507.6 250.5" fill="none" stroke="#000" stroke-width="1.67462" stroke-linejoin="round" stroke-linecap="round"/>
<path d="M509.5 251.7 L510.6 250.4 L510.6 250.1" fill="none" stroke="#000" stroke-width="2.52317" stroke-linejoin="round" stroke-linecap="round"/>
<path d="M512.5 255.8 L511.3 255.7 L510.6 255.5" fill="none" stroke="#000" stroke-width="1.8657" stroke-linejoin="round" stroke-linecap="round"/>
<path d="M516.3 261.2 L516.7 261.7 L516.7 262.2" fill="none" stroke="#000" stroke-width="2.17152" stroke-linejoin="round" stroke-linecap="round"/>
<path d="M516.5 259.2 L515.7 260.2 L515.4 259.8" fill="none" stroke="#000" stroke-width="1.94661" stroke-linejoin="round" stroke-linecap="round"/>
<path d="M516.4 255.4 L514.8 256.2 L514.2 257.2" fill="none" stroke="#000" stroke-width="1.75989" stroke-linejoin="round" stroke-linecap="round"/>
<path d="M515.4 253.1 L514.8 254 L512.8 254.6" fill="none" stroke="#000" stroke-width="2.48317" stroke-linejoin="round" stroke-linecap="round"/>
<path d="M513.2 250.6 L514.2 250.5 L516 250.2" fill="none" stroke="#000" stroke-width="2.03923" stroke-linejoin="round" stroke-linecap="round"/>
<path d="M513.1 248.2 L514.1 247.8 L513.9 246.9" fill="none" stroke="#000" stroke-width="1.63476" stroke-linejoin="round" stroke-linecap="round"/>
<path d="M513 246.5 L514.1 246.6 L513.9 245.2" fill="none" stroke="#000" stroke-width="2.34585" stroke-linejoin="round" stroke-linecap="round"/>
<path d="M510.9 245.1 L512.3 244.2 L512.3 243.4" fill="none" stroke="#000" stroke-width="2.55283" stroke-linejoin="round" stroke-linecap="round"/>
<path d="M520.7 244.4 L519.6 248.3 L520.3 249.4 L521.4 252.3 L522.1 254.6 L522.4 257.2 L522.1 260.7 L523.4 263.5 L524.7 264.9 L526.3 263.5 L526.6 260.7 L527.7 258.9 L528 256.7 L528.2 253.9 L527.2 251.4 L525.8 249.5 L525.3 246.6 L523.2 244 L519.4 245.5" fill="none" stroke="#000" stroke-width="2.2" stroke-linejoin="round" stroke-linecap="round"/>
<path d="M520.3 249.4 L521.5 248.5 L522.9 248.4" fill="none" stroke="#000" stroke-width="2.0727" stroke-linejoin="round" stroke-linecap="round"/>
<path d="M522.1 254.6 L523 253.9 L523.6 254" fill="none" stroke="#000" stroke-width="2.4152" stroke-linejoin="round" stroke-linecap="round"/>
<path d="M522.4 257.2 L520.9 256.2 L519.7 256.5" fill="none" stroke="#000" stroke-width="2.24811" stroke-linejoin="round" stroke-linecap="round"/>
<path d="M522.1 260.7 L520.7 261.3 L520.4 262.8" fill="none" stroke="#000" stroke-width="1.76743" stroke-linejoin="round" stroke-linecap="round"/>
<path d="M523.4 263.5 L523.9 262.4 L524.8 261.9" fill="none" stroke="#000" stroke-width="2.15293" stroke-linejoin="round" stroke-linecap="round"/>
<path d="M524.7 264.9 L525 264.7 L524.3 263.8" fill="none" stroke="#000" stroke-width="2.48114" stroke-linejoin="round" stroke-linecap="round"/>
<path d="M526.3 263.5 L525.7 263 L523.8 262.5" fill="none" stroke="#000" stroke-width="2.69119" stroke-linejoin="round" stroke-linecap="round"/>
<path d="M526.6 260.7 L525.6 260.1 L523.9 259.5" fill="none" stroke="#000" stroke-width="2.55998" stroke-linejoin="round" stroke-linecap="round"/>
<path d="M528 256.7 L527.8 255.4 L526.1 255.6" fill="none" stroke="#000" stroke-width="2.31001" stroke-linejoin="round" stroke-linecap="round"/>
<path d="M527.2 251.4 L526.4 251 L525 251.6" fill="none" stroke="#000" stroke-width="1.84408" stroke-linejoin="round" stroke-linecap="round"/>
<path d="M525.8 249.5 L524.9 248.3 L524 248.6" fill="none" stroke="#000" stroke-width="1.78565" stroke-linejoin="round" stroke-linecap="round"/>
<path d="M528.2 275.7 L529.4 278.1 L530.8 281.2 L532.5 283.2 L533.2 285.8 L534.5 287.9 L535.4 289.3 L539 291.1 L541.2 292.9 L543.5 292.4 L546.7 293.9 L548.4 292.1 L550.8 289.8 L549.8 286.7 L548.9 284.1 L547.6 281 L547 279.9 L546.3 277.4 L544.6 274.5 L542 272.2 L540.5 270.2 L536.9 268.2 L534.3 267.8 L532.6 268 L529.1 270.4 L528.1 272.5 L527.9 275.1" fill="none" stroke="#000" stroke-width="2.4" stroke-linejoin="round" stroke-linecap="round"/>
<path d="M529.4 278.1 L530.6 277.9 L530.9 277.7" fill="none" stroke="#000" stroke-width="2.31391" stroke-linejoin="round" stroke-linecap="round"/>
<path d="M530.8 281.2 L532.4 280.5 L532.5 281.2" fill="none" stroke="#000" stroke-width="2.41947" stroke-linejoin="round" stroke-linecap="round"/>
<path d="M532.5 283.2 L534.9 283.3 L536.3 281.9" fill="none" stroke="#000" stroke-width="2.56632" stroke-linejoin="round" stroke-linecap="round"/>
<path d="M535.4 289.3 L534.6 289.9 L534.6 290.3" fill="none" stroke="#000" stroke-width="2.82594" stroke-linejoin="round" stroke-linecap="round"/>
<path d="M539 291.1 L539 291.3 L538.9 292.6" fill="none" stroke="#000" stroke-width="2.57238" stroke-linejoin="round" stroke-linecap="round"/>
<path d="M543.5 292.4 L544 293.3 L543.7 293.6" fill="none" stroke="#000" stroke-width="2.41735" stroke-linejoin="round" stroke-linecap="round"/>
<path d="M546.7 293.9 L548.8 295.6 L549.6 296.4" fill="none" stroke="#000" stroke-width="2.57496" stroke-linejoin="round" stroke-linecap="round"/>
<path d="M548.4 292.1 L549 293.9 L549.4 294.6" fill="none" stroke="#000" stroke-width="2.05014" stroke-linejoin="round" stroke-linecap="round"/>
<path d="M549.8 286.7 L550.8 285.8 L553.1 284.7" fill="none" stroke="#000" stroke-width="2.57018" stroke-linejoin="round" stroke-linecap="round"/>
<path d="M548.9 284.1 L550.5 284.1 L552.8 284.6" fill="none" stroke="#000" stroke-width="1.94838" stroke-linejoin="round" stroke-linecap="round"/>
<path d="M546.3 277.4 L545.5 277.8 L545 279.5" fill="none" stroke="#000" stroke-width="2.75953" stroke-linejoin="round" stroke-linecap="round"/>
<path d="M544.6 274.5 L544.4 274.4 L542.9 275.6" fill="none" stroke="#000" stroke-width="2.97194" stroke-linejoin="round" stroke-linecap="round"/>
<path d="M540.5 270.2 L539.1 270.8 L538.3 272" fill="none" stroke="#000" stroke-width="2.33926" stroke-linejoin="round" stroke-linecap="round"/>
<path d="M536.9 268.2 L537.5 267.8 L536.9 266.8" fill="none" stroke="#000" stroke-width="2.8271" stroke-linejoin="round" stroke-linecap="round"/>
<path d="M532.6 268 L534.4 269 L534.6 271.1" fill="none" stroke="#000" stroke-width="2.36526" stroke-linejoin="round" stroke-linecap="round"/>
<path d="M532.8 273 L534.5 275.1 L537 276.5 L538.5 278.7 L540.3 280.7 L542.9 282.9 L543.6 285.2 L545.7 286.1 L546.2 289.5" fill="none" stroke="#000" stroke-width="2.6" stroke-linejoin="round" stroke-linecap="round"/>
<path d="M537 276.5 L535.6 277.9 L533.6 280.1" fill="none" stroke="#000" stroke-width="2.87478" stroke-linejoin="round" stroke-linecap="round"/>
<path d="M542.9 282.9 L541.7 283 L541.4 283.5" fill="none" stroke="#000" stroke-width="3.04591" stroke-linejoin="round" stroke-linecap="round"/>
<path d="M543.6 285.2 L546.2 285.3 L547.7 283.9" fill="none" stroke="#000" stroke-width="3.19764" stroke-linejoin="round" stroke-linecap="round"/>
<path d="M545.7 286.1 L544.8 285.5 L543.9 286" fill="none" stroke="#000" stroke-width="2.26603" stroke-linejoin="round" stroke-linecap="round"/>
<path d="M528.6 248.2 L531 249.1 L532.7 251.9 L533.1 254.5 L534.6 255.6 L536.1 258.1 L536.9 260.3 L539.9 262.5 L541.7 265.2 L543.4 266.6 L544.3 269.1 L545.6 272 L547.7 272.7 L548.9 275.3 L549.5 277 L551.2 279.3 L552.6 282.5" fill="none" stroke="#000" stroke-width="2" stroke-linejoin="round" stroke-linecap="round"/>
<path d="M531 249.1 L531.9 249.1 L532.5 248.1" fill="none" stroke="#000" stroke-width="2.46169" stroke-linejoin="round" stroke-linecap="round"/>
<path d="M532.7 251.9 L531 253.4 L529.4 253.8" fill="none" stroke="#000" stroke-width="2.09487" stroke-linejoin="round" stroke-linecap="round"/>
<path d="M533.1 254.5 L532.4 254 L530.3 254.9" fill="none" stroke="#000" stroke-width="2.53752" stroke-linejoin="round" stroke-linecap="round"/>
<path d="M534.6 255.6 L531.8 254.9 L530.2 255.2" fill="none" stroke="#000" stroke-width="1.7874" stroke-linejoin="round" stroke-linecap="round"/>
<path d="M536.9 260.3 L538.5 260.4 L541 260.1" fill="none" stroke="#000" stroke-width="2.49636" stroke-linejoin="round" stroke-linecap="round"/>
<path d="M541.7 265.2 L540.6 266.8 L539.7 267.8" fill="none" stroke="#000" stroke-width="2.04826" stroke-linejoin="round" stroke-linecap="round"/>
<path d="M543.4 266.6 L544.3 265.6 L545.8 266.2" fill="none" stroke="#000" stroke-width="2.57026" stroke-linejoin="round" stroke-linecap="round"/>
<path d="M548.9 275.3 L546.7 276.7 L545.3 277.3" fill="none" stroke="#000" stroke-width="1.66216" stroke-linejoin="round" stroke-linecap="round"/>
<path d="M531.6 239.5 L532.4 242.2 L533.8 244.6 L536.6 245.5 L537.7 248.1 L538.9 250.7 L540.7 251.8 L541.8 254.3 L543.6 255.1 L545.2 257.5 L545.6 260.2 L548.4 262.8 L549.3 264.7 L550.4 266.9 L552.1 268.4 L553.1 269.7 L554.2 272.7 L556.4 275.1 L558.1 276.6 L559.4 278.3 L560.6 280.5 L562 282.7 L562.4 285" fill="none" stroke="#000" stroke-width="2" stroke-linejoin="round" stroke-linecap="round"/>
<path d="M532.4 242.2 L533.5 239.9 L533.6 239" fill="none" stroke="#000" stroke-width="1.81804" stroke-linejoin="round" stroke-linecap="round"/>
<path d="M540.7 251.8 L538.7 252.3 L536 252.6" fill="none" stroke="#000" stroke-width="1.64052" stroke-linejoin="round" stroke-linecap="round"/>
<path d="M541.8 254.3 L544.4 253.4 L546.5 253.2" fill="none" stroke="#000" stroke-width="2.48045" stroke-linejoin="round" stroke-linecap="round"/>
<path d="M549.3 264.7 L548.3 265.1 L545.9 266.7" fill="none" stroke="#000" stroke-width="1.60815" stroke-linejoin="round" stroke-linecap="round"/>
<path d="M550.4 266.9 L550.3 268.3 L549.8 269" fill="none" stroke="#000" stroke-width="2.40806" stroke-linejoin="round" stroke-linecap="round"/>
<path d="M552.1 268.4 L552.1 268.7 L550.8 270.5" fill="none" stroke="#000" stroke-width="2.46826" stroke-linejoin="round" stroke-linecap="round"/>
<path d="M558.1 276.6 L556.3 277.9 L554 279.1" fill="none" stroke="#000" stroke-width="1.9952" stroke-linejoin="round" stroke-linecap="round"/>
<path d="M559.4 278.3 L559.8 277.7 L561.4 276.8" fill="none" stroke="#000" stroke-width="2.58324" stroke-linejoin="round" stroke-linecap="round"/>
<path d="M560.6 280.5 L559.3 281.3 L557.4 281.3" fill="none" stroke="#000" stroke-width="2.52834" stroke-linejoin="round" stroke-linecap="round"/>
<path d="M562 282.7 L562.5 281.6 L564 281.1" fill="none" stroke="#000" stroke-width="2.07034" stroke-linejoin="round" stroke-linecap="round"/>
<path d="M537.7 240.3 L539.5 241.6 L539.3 244.7 L540.9 246 L543.3 247.3 L545 249.3 L545.2 251.6 L547.6 251.8 L549.3 255.1 L550.4 257.1 L552 258.2 L553.3 261.4 L554.2 262.6 L556.4 264 L559.1 265 L559.4 266.9 L560.9 269.5 L563.2 271.6 L563.5 272.9 L564.7 275.2 L566.1 277.3 L566.9 279.2 L567.3 282.3 L567.6 284.9 L567.8 287.4 L569.2 289.8 L569.1 293 L569.5 294.8 L570.9 297.5 L571.1 300.4 L572.5 301.8 L573.1 304.3 L573.9 306.9 L574.6 310.1" fill="none" stroke="#000" stroke-width="2.2" stroke-linejoin="round" stroke-linecap="round"/>
<path d="M539.3 244.7 L537.7 245.2 L537.7 246.4" fill="none" stroke="#000" stroke-width="2.73304" stroke-linejoin="round" stroke-linecap="round"/>
<path d="M540.9 246 L541.6 244.7 L541.4 244" fill="none" stroke="#000" stroke-width="2.43562" stroke-linejoin="round" stroke-linecap="round"/>
<path d="M543.3 247.3 L541.3 249.4 L541 250.2" fill="none" stroke="#000" stroke-width="2.68837" stroke-linejoin="round" stroke-linecap="round"/>
<path d="M547.6 251.8 L550.6 252.4 L552.5 252" fill="none" stroke="#000" stroke-width="1.82908" stroke-linejoin="round" stroke-linecap="round"/>
<path d="M550.4 257.1 L551.3 257 L553.4 257" fill="none" stroke="#000" stroke-width="2.6669" stroke-linejoin="round" stroke-linecap="round"/>
<path d="M552 258.2 L551.1 258 L550.1 258.3" fill="none" stroke="#000" stroke-width="2.27418" stroke-linejoin="round" stroke-linecap="round"/>
<path d="M554.2 262.6 L553.3 264.4 L551.4 265.4" fill="none" stroke="#000" stroke-width="2.12526" stroke-linejoin="round" stroke-linecap="round"/>
<path d="M559.1 265 L559.9 262.3 L560.2 260.8" fill="none" stroke="#000" stroke-width="2.2371" stroke-linejoin="round" stroke-linecap="round"/>
<path d="M559.4 266.9 L560.5 264 L561.9 262" fill="none" stroke="#000" stroke-width="2.58876" stroke-linejoin="round" stroke-linecap="round"/>
<path d="M563.5 272.9 L561.4 273 L559.3 272.1" fill="none" stroke="#000" stroke-width="2.42207" stroke-linejoin="round" stroke-linecap="round"/>
<path d="M564.7 275.2 L566.7 273.4 L567.1 271.7" fill="none" stroke="#000" stroke-width="2.12267" stroke-linejoin="round" stroke-linecap="round"/>
<path d="M566.1 277.3 L564.6 277.5 L563.6 277.6" fill="none" stroke="#000" stroke-width="2.55903" stroke-linejoin="round" stroke-linecap="round"/>
<path d="M567.6 284.9 L568.9 284.9 L569.3 283.7" fill="none" stroke="#000" stroke-width="2.52675" stroke-linejoin="round" stroke-linecap="round"/>
<path d="M569.2 289.8 L567.7 289.5 L565.6 290.4" fill="none" stroke="#000" stroke-width="2.48391" stroke-linejoin="round" stroke-linecap="round"/>
<path d="M573.1 304.3 L570.3 304.5 L567.5 305.1" fill="none" stroke="#000" stroke-width="2.29042" stroke-linejoin="round" stroke-linecap="round"/>
<path d="M573.9 306.9 L571.6 308.7 L570.2 310.4" fill="none" stroke="#000" stroke-width="2.43544" stroke-linejoin="round" stroke-linecap="round"/>
<path d="M569.4 276.9 L570.8 274.5 L570.7 272.4 L571.7 269.5 L572.3 268 L572.2 269.5 L572.4 272.1 L572.8 275.8 L573.5 278.3 L573.5 280.6 L574.4 282.8 L575 284.6 L574.6 287.8 L573.6 289.2 L573.8 292.7 L572.1 295" fill="none" stroke="#000" stroke-width="2" stroke-linejoin="round" stroke-linecap="round"/>
<path d="M570.7 272.4 L568.5 271.1 L567.2 271.2" fill="none" stroke="#000" stroke-width="2.02932" stroke-linejoin="round" stroke-linecap="round"/>
<path d="M572.3 268 L572.9 267.7 L572 266.2" fill="none" stroke="#000" stroke-width="2.26239" stroke-linejoin="round" stroke-linecap="round"/>
<path d="M572.2 269.5 L573.9 269 L574.9 268.4" fill="none" stroke="#000" stroke-width="2.54461" stroke-linejoin="round" stroke-linecap="round"/>
<path d="M572.4 272.1 L573.6 273 L574.3 273" fill="none" stroke="#000" stroke-width="1.99858" stroke-linejoin="round" stroke-linecap="round"/>
<path d="M572.8 275.8 L574.2 275.9 L575.4 276.3" fill="none" stroke="#000" stroke-width="2.02653" stroke-linejoin="round" stroke-linecap="round"/>
<path d="M573.5 280.6 L571.8 280.7 L571.7 281" fill="none" stroke="#000" stroke-width="2.28744" stroke-linejoin="round" stroke-linecap="round"/>
<path d="M574.4 282.8 L575.9 282.5 L577.3 283.8" fill="none" stroke="#000" stroke-width="2.58465" stroke-linejoin="round" stroke-linecap="round"/>
<path d="M575 284.6 L574.2 285.6 L573.2 286.1" fill="none" stroke="#000" stroke-width="1.71834" stroke-linejoin="round" stroke-linecap="round"/>
<path d="M553.9 271 L555.6 273 L556.3 275.2 L557.4 278.3 L558.1 279.5 L559.5 281.5 L562 283.5 L562.6 285.7 L564.1 287.8 L564.5 289.9 L565.7 292.5 L566.8 293.6 L567.8 295.9" fill="none" stroke="#000" stroke-width="2.4" stroke-linejoin="round" stroke-linecap="round"/>
<path d="M555.6 273 L558 272.2 L560.4 272.6" fill="none" stroke="#000" stroke-width="2.2885" stroke-linejoin="round" stroke-linecap="round"/>
<path d="M556.3 275.2 L555.3 275.7 L553.4 277.4" fill="none" stroke="#000" stroke-width="3.04516" stroke-linejoin="round" stroke-linecap="round"/>
<path d="M557.4 278.3 L559.1 276.9 L559.9 275.3" fill="none" stroke="#000" stroke-width="2.11598" stroke-linejoin="round" stroke-linecap="round"/>
<path d="M559.5 281.5 L557.3 281.9 L555.7 281.2" fill="none" stroke="#000" stroke-width="2.75886" stroke-linejoin="round" stroke-linecap="round"/>
<path d="M564.5 289.9 L563.5 291.6 L562.8 293.7" fill="none" stroke="#000" stroke-width="2.57825" stroke-linejoin="round" stroke-linecap="round"/>
<path d="M565.7 292.5 L563.9 292.4 L560.9 291.6" fill="none" stroke="#000" stroke-width="2.83174" stroke-linejoin="round" stroke-linecap="round"/>
<path d="M566.8 293.6 L567.7 293.3 L570 294.4" fill="none" stroke="#000" stroke-width="2.83785" stroke-linejoin="round" stroke-linecap="round"/>
<path d="M560 295 L561.9 294.4 L563.1 296.2 L561.9 297.8 L560.2 296.9Z" fill="#000" stroke="#000" stroke-width="2.5" stroke-linejoin="round" stroke-linecap="round"/>
<path d="M535.3 303.7 L538.3 304.3 L541 305 L543.7 306 L547 306.7 L550.3 305.7 L552.3 303.7 L552 307 L551 311 L549.7 315 L548.7 318.3 L547.7 321.7 L545 322.3 L543 321 L541 317.7 L539 315 L537 312.3 L535.7 309 L535 306.3Z" fill="#fff" stroke="#000" stroke-width="1.9" stroke-linejoin="round" stroke-linecap="round"/>
<path d="M540.3 307.7 L541.7 308.7 L543.3 308 L544.3 306.7" fill="none" stroke="#000" stroke-width="1.8" stroke-linejoin="round" stroke-linecap="round"/>
<path d="M541 313 L543 314 L545.7 313 L546.3 311.7" fill="none" stroke="#000" stroke-width="2.4" stroke-linejoin="round" stroke-linecap="round"/>
<path d="M543.7 322.3 L547.7 322 L551.7 323 L553 326.3 L553.7 329.7 L555 333 L557 336 L559.5 340 L562 343.5 L560 343 L556 339 L552 336 L549 334 L547 331.7 L545 328.3 L544.3 325Z" fill="#000" stroke="#000" stroke-width="1.6" stroke-linejoin="round" stroke-linecap="round"/>
<path d="M546.5 324 L548.5 324.6" fill="none" stroke="#000" stroke-width="0.9" stroke-linejoin="round" stroke-linecap="round"/>
<path d="M559.8 295.1 L560.3 298.6 L561.8 300.8 L562.5 302.8 L563.7 305.5 L564.5 308.2 L565.7 310.2 L565.6 312.1 L567.5 314.6 L568.4 317.7 L569.2 320 L570.9 322.2 L573.9 323.3 L575.5 326.2 L575.9 328.1 L577.2 330.6 L579.5 332.7 L579.9 333.7 L582.2 336.1 L582.9 338.5 L585.3 339.4 L585.6 341.9 L587.4 343.9 L588.9 345.4 L589.5 346.9 L591.6 349.7 L592.9 351.7 L594.5 353.8 L596 355 L596.6 356.7 L597.8 360 L600.5 361.9 L601 363.5 L602.8 365.6 L605.3 367.1 L607 368.3 L610.1 370.9 L611.8 371.8" fill="none" stroke="#000" stroke-width="2.4" stroke-linejoin="round" stroke-linecap="round"/>
<path d="M562.5 302.8 L561.7 304.6 L560.6 305.2" fill="none" stroke="#000" stroke-width="2.21861" stroke-linejoin="round" stroke-linecap="round"/>
<path d="M563.7 305.5 L562.6 305 L560.7 305.2" fill="none" stroke="#000" stroke-width="2.44925" stroke-linejoin="round" stroke-linecap="round"/>
<path d="M564.5 308.2 L565.2 307.1 L565.9 306.9" fill="none" stroke="#000" stroke-width="3.10533" stroke-linejoin="round" stroke-linecap="round"/>
<path d="M565.7 310.2 L566.2 310.2 L567.1 309.6" fill="none" stroke="#000" stroke-width="2.90712" stroke-linejoin="round" stroke-linecap="round"/>
<path d="M565.6 312.1 L567.6 312.3 L568.1 311.3" fill="none" stroke="#000" stroke-width="2.90633" stroke-linejoin="round" stroke-linecap="round"/>
<path d="M567.5 314.6 L569.1 313.8 L570.1 314" fill="none" stroke="#000" stroke-width="2.79324" stroke-linejoin="round" stroke-linecap="round"/>
<path d="M569.2 320 L569.4 321.8 L568.2 322.1" fill="none" stroke="#000" stroke-width="2.26073" stroke-linejoin="round" stroke-linecap="round"/>
<path d="M570.9 322.2 L570 322.8 L567.9 324" fill="none" stroke="#000" stroke-width="2.62487" stroke-linejoin="round" stroke-linecap="round"/>
<path d="M573.9 323.3 L573.1 323.8 L572.2 324" fill="none" stroke="#000" stroke-width="2.19964" stroke-linejoin="round" stroke-linecap="round"/>
<path d="M575.5 326.2 L574.9 327 L574.3 327.7" fill="none" stroke="#000" stroke-width="2.3702" stroke-linejoin="round" stroke-linecap="round"/>
<path d="M579.9 333.7 L581.5 333 L581.8 332" fill="none" stroke="#000" stroke-width="2.43324" stroke-linejoin="round" stroke-linecap="round"/>
<path d="M582.2 336.1 L582.9 336.2 L584.8 335.8" fill="none" stroke="#000" stroke-width="2.55702" stroke-linejoin="round" stroke-linecap="round"/>
<path d="M582.9 338.5 L581.7 338.7 L580.4 339.7" fill="none" stroke="#000" stroke-width="2.7909" stroke-linejoin="round" stroke-linecap="round"/>
<path d="M585.3 339.4 L583.9 340.3 L582.6 340.9" fill="none" stroke="#000" stroke-width="2.78494" stroke-linejoin="round" stroke-linecap="round"/>
<path d="M585.6 341.9 L586.2 342.1 L586.4 340.8" fill="none" stroke="#000" stroke-width="2.94755" stroke-linejoin="round" stroke-linecap="round"/>
<path d="M587.4 343.9 L586.2 345.5 L586.5 346" fill="none" stroke="#000" stroke-width="3.11973" stroke-linejoin="round" stroke-linecap="round"/>
<path d="M591.6 349.7 L591.7 349.3 L592.4 347.6" fill="none" stroke="#000" stroke-width="2.12758" stroke-linejoin="round" stroke-linecap="round"/>
<path d="M592.9 351.7 L592.8 351.8 L593.3 350.5" fill="none" stroke="#000" stroke-width="2.30801" stroke-linejoin="round" stroke-linecap="round"/>
<path d="M594.5 353.8 L597 354 L598.4 353.7" fill="none" stroke="#000" stroke-width="2.99563" stroke-linejoin="round" stroke-linecap="round"/>
<path d="M597.8 360 L597.8 360.6 L596.6 361.2" fill="none" stroke="#000" stroke-width="2.55613" stroke-linejoin="round" stroke-linecap="round"/>
<path d="M601 363.5 L600.1 364.4 L598.5 365" fill="none" stroke="#000" stroke-width="2.11361" stroke-linejoin="round" stroke-linecap="round"/>
<path d="M607 368.3 L606.7 368.6 L605.9 369.6" fill="none" stroke="#000" stroke-width="2.22093" stroke-linejoin="round" stroke-linecap="round"/>
<path d="M565.7 292 L566.2 294.6 L568.1 297.5 L569.4 298.7 L569.8 300.8 L570.5 303.8 L571.3 305.5 L573.4 308.3 L573.9 310.5 L575.9 311.8 L577 315.1 L577.6 316.2 L580 318.4 L580 319.9 L582.6 322.6 L583.9 324.8 L584.6 327.1 L585.4 328.3 L587.2 330.3 L588.4 332.2 L589.2 333.3 L589.6 335.6 L590.4 337.4 L591.6 339.4 L593.5 341.5 L594.2 343.1 L595.4 346.2 L597.4 347.6 L598 349.7 L599.3 351.1 L602 353.4 L603 355.6 L605.2 357.8 L605.9 358.7 L607.8 361.1 L609.6 363.6 L612.6 364 L614.2 365.5 L616.5 367 L617.4 368 L620.2 369.2 L622.5 371.4 L624.4 371.5" fill="none" stroke="#000" stroke-width="2.2" stroke-linejoin="round" stroke-linecap="round"/>
<path d="M568.1 297.5 L568 296.7 L569.3 295.5" fill="none" stroke="#000" stroke-width="2.63129" stroke-linejoin="round" stroke-linecap="round"/>
<path d="M569.4 298.7 L571.2 297 L571.3 295.2" fill="none" stroke="#000" stroke-width="2.82819" stroke-linejoin="round" stroke-linecap="round"/>
<path d="M570.5 303.8 L573.3 303 L575.9 303" fill="none" stroke="#000" stroke-width="2.46506" stroke-linejoin="round" stroke-linecap="round"/>
<path d="M571.3 305.5 L573.9 305 L575 303.2" fill="none" stroke="#000" stroke-width="2.04973" stroke-linejoin="round" stroke-linecap="round"/>
<path d="M573.4 308.3 L576 305.3 L577.5 303.1" fill="none" stroke="#000" stroke-width="2.46284" stroke-linejoin="round" stroke-linecap="round"/>
<path d="M575.9 311.8 L578.7 311.6 L580.6 311.4" fill="none" stroke="#000" stroke-width="1.76063" stroke-linejoin="round" stroke-linecap="round"/>
<path d="M577 315.1 L578.8 312.5 L579.3 308.9" fill="none" stroke="#000" stroke-width="2.09827" stroke-linejoin="round" stroke-linecap="round"/>
<path d="M577.6 316.2 L580.3 315.8 L584.3 315.5" fill="none" stroke="#000" stroke-width="1.83613" stroke-linejoin="round" stroke-linecap="round"/>
<path d="M582.6 322.6 L584.1 321.8 L586.4 319.7" fill="none" stroke="#000" stroke-width="2.22545" stroke-linejoin="round" stroke-linecap="round"/>
<path d="M583.9 324.8 L585.9 323.1 L588.8 322" fill="none" stroke="#000" stroke-width="2.85466" stroke-linejoin="round" stroke-linecap="round"/>
<path d="M585.4 328.3 L586.1 327.4 L587.8 327" fill="none" stroke="#000" stroke-width="2.40714" stroke-linejoin="round" stroke-linecap="round"/>
<path d="M587.2 330.3 L588.2 328.9 L588.7 328.4" fill="none" stroke="#000" stroke-width="2.75596" stroke-linejoin="round" stroke-linecap="round"/>
<path d="M589.2 333.3 L590.5 330.6 L592.6 329.1" fill="none" stroke="#000" stroke-width="2.78907" stroke-linejoin="round" stroke-linecap="round"/>
<path d="M590.4 337.4 L592.9 336.4 L596.4 336.7" fill="none" stroke="#000" stroke-width="2.23416" stroke-linejoin="round" stroke-linecap="round"/>
<path d="M591.6 339.4 L594.2 338.7 L596.3 336.4" fill="none" stroke="#000" stroke-width="1.86826" stroke-linejoin="round" stroke-linecap="round"/>
<path d="M593.5 341.5 L595.4 338.8 L598.2 337.2" fill="none" stroke="#000" stroke-width="2.25347" stroke-linejoin="round" stroke-linecap="round"/>
<path d="M594.2 343.1 L595.9 341.8 L596.3 340.6" fill="none" stroke="#000" stroke-width="2.70748" stroke-linejoin="round" stroke-linecap="round"/>
<path d="M597.4 347.6 L601.2 348.6 L603.5 348.1" fill="none" stroke="#000" stroke-width="2.69357" stroke-linejoin="round" stroke-linecap="round"/>
<path d="M598 349.7 L599.1 348.1 L600.5 347.9" fill="none" stroke="#000" stroke-width="2.17687" stroke-linejoin="round" stroke-linecap="round"/>
<path d="M602 353.4 L604 353.6 L606.2 352.3" fill="none" stroke="#000" stroke-width="2.85496" stroke-linejoin="round" stroke-linecap="round"/>
<path d="M605.9 358.7 L608 355.9 L609.8 353" fill="none" stroke="#000" stroke-width="2.58277" stroke-linejoin="round" stroke-linecap="round"/>
<path d="M607.8 361.1 L610.1 359.1 L611.3 358.2" fill="none" stroke="#000" stroke-width="2.81686" stroke-linejoin="round" stroke-linecap="round"/>
<path d="M609.6 363.6 L610.3 360.7 L610.5 358.7" fill="none" stroke="#000" stroke-width="1.89188" stroke-linejoin="round" stroke-linecap="round"/>
<path d="M614.2 365.5 L615.8 363.7 L617.7 361.7" fill="none" stroke="#000" stroke-width="2.33506" stroke-linejoin="round" stroke-linecap="round"/>
<path d="M617.4 368 L618.5 367.2 L619.9 365.8" fill="none" stroke="#000" stroke-width="2.09" stroke-linejoin="round" stroke-linecap="round"/>
<path d="M620.2 369.2 L621 369.2 L622 367.5" fill="none" stroke="#000" stroke-width="2.85571" stroke-linejoin="round" stroke-linecap="round"/>
<path d="M622.5 371.4 L623.3 370.3 L622.7 368" fill="none" stroke="#000" stroke-width="2.7272" stroke-linejoin="round" stroke-linecap="round"/>
<path d="M562.1 294.4 L563.2 296.2 L565 299 L565.6 300.7 L565.9 302.8 L567.4 305.7 L568.6 307.7 L569.4 309 L571 312.2 L571.2 313.3 L572.4 316.1 L574.2 318.1 L575.1 319.8 L576.3 320.8 L577.1 324 L579.7 324.8 L581.2 327.4 L581.4 330.1 L583.5 332.5 L585.1 333.4 L586.2 336.4 L587.9 337.6 L588.5 340.1 L589.1 342.2 L591.3 342.9 L592.4 345.3 L593.2 347.6 L595.8 349.4 L595.8 351.3 L598.2 353.9 L599.7 354.5 L601.6 357.5 L601.8 358.8 L603.3 361.8 L605.5 363.7 L607.5 365 L610.1 365.9 L611.4 369" fill="none" stroke="#000" stroke-width="2.2" stroke-linejoin="round" stroke-linecap="round"/>
<path d="M565 299 L567.4 299.2 L568.6 300" fill="none" stroke="#000" stroke-width="2.54901" stroke-linejoin="round" stroke-linecap="round"/>
<path d="M565.6 300.7 L563.6 300.9 L562 300.4" fill="none" stroke="#000" stroke-width="1.86225" stroke-linejoin="round" stroke-linecap="round"/>
<path d="M565.9 302.8 L564.4 304.4 L563.3 305.6" fill="none" stroke="#000" stroke-width="2.20957" stroke-linejoin="round" stroke-linecap="round"/>
<path d="M568.6 307.7 L569.7 307.4 L569.8 306.4" fill="none" stroke="#000" stroke-width="2.8215" stroke-linejoin="round" stroke-linecap="round"/>
<path d="M571.2 313.3 L573.7 313 L575.2 313.2" fill="none" stroke="#000" stroke-width="1.82676" stroke-linejoin="round" stroke-linecap="round"/>
<path d="M572.4 316.1 L573.1 314.8 L573.4 313.6" fill="none" stroke="#000" stroke-width="2.76614" stroke-linejoin="round" stroke-linecap="round"/>
<path d="M577.1 324 L577.6 322.6 L578.9 322.5" fill="none" stroke="#000" stroke-width="2.00149" stroke-linejoin="round" stroke-linecap="round"/>
<path d="M581.2 327.4 L580.5 327.5 L580.2 328.1" fill="none" stroke="#000" stroke-width="2.04725" stroke-linejoin="round" stroke-linecap="round"/>
<path d="M581.4 330.1 L581.5 329.5 L583 329.6" fill="none" stroke="#000" stroke-width="2.52928" stroke-linejoin="round" stroke-linecap="round"/>
<path d="M583.5 332.5 L584.1 331.1 L585.3 331.3" fill="none" stroke="#000" stroke-width="1.98825" stroke-linejoin="round" stroke-linecap="round"/>
<path d="M586.2 336.4 L585.3 338 L584.5 338.3" fill="none" stroke="#000" stroke-width="2.58744" stroke-linejoin="round" stroke-linecap="round"/>
<path d="M587.9 337.6 L586.7 337.4 L585.3 338.2" fill="none" stroke="#000" stroke-width="2.78379" stroke-linejoin="round" stroke-linecap="round"/>
<path d="M592.4 345.3 L593.2 345.4 L595.3 344.7" fill="none" stroke="#000" stroke-width="2.47783" stroke-linejoin="round" stroke-linecap="round"/>
<path d="M593.2 347.6 L594.6 346.5 L596.1 346.1" fill="none" stroke="#000" stroke-width="2.29463" stroke-linejoin="round" stroke-linecap="round"/>
<path d="M595.8 349.4 L595.7 350.6 L595 351.8" fill="none" stroke="#000" stroke-width="1.88591" stroke-linejoin="round" stroke-linecap="round"/>
<path d="M595.8 351.3 L595 352.4 L593.5 353.7" fill="none" stroke="#000" stroke-width="2.1006" stroke-linejoin="round" stroke-linecap="round"/>
<path d="M599.7 354.5 L599.1 356 L598.7 356.3" fill="none" stroke="#000" stroke-width="2.08301" stroke-linejoin="round" stroke-linecap="round"/>
<path d="M603.3 361.8 L603.7 362.2 L605 361.1" fill="none" stroke="#000" stroke-width="2.40754" stroke-linejoin="round" stroke-linecap="round"/>
<path d="M610.1 365.9 L610.2 367.6 L608.7 368.2" fill="none" stroke="#000" stroke-width="1.87659" stroke-linejoin="round" stroke-linecap="round"/>
<path d="M561.3 290.1 L562.8 291.5 L562.6 293.4 L563.2 295.4 L564.1 298.3 L566.2 300.6 L566 302.2 L567.6 304.3 L567.7 307.3 L569.7 308.4 L569.9 310.6 L572.4 312.8 L573.3 316.2 L573.7 317.3 L575.8 320.2 L576.7 321.3 L578.2 323 L580.3 326.4 L581.2 327.4 L583.1 330.8 L584.3 332.3 L586 334.9 L587 336.8 L587.8 338.7 L590 341.1 L590.7 343.4 L593 344.4 L593.5 347 L594.8 350.1 L597.3 352 L599.3 353.7 L599.4 355.4 L601 358.6 L602.8 359.4 L604.2 361.1 L606.2 362.9 L607.3 365.5 L610 367.2 L611.5 368.9 L613.7 369.5 L616 372.2" fill="none" stroke="#000" stroke-width="2.6" stroke-linejoin="round" stroke-linecap="round"/>
<path d="M562.6 293.4 L563.3 291.8 L564.8 291.5" fill="none" stroke="#000" stroke-width="2.7459" stroke-linejoin="round" stroke-linecap="round"/>
<path d="M566.2 300.6 L565.5 301.1 L565.1 302.2" fill="none" stroke="#000" stroke-width="3.22743" stroke-linejoin="round" stroke-linecap="round"/>
<path d="M566 302.2 L565.2 302.6 L563.9 304.2" fill="none" stroke="#000" stroke-width="2.65411" stroke-linejoin="round" stroke-linecap="round"/>
<path d="M569.7 308.4 L570.9 307.3 L571.1 307" fill="none" stroke="#000" stroke-width="2.99174" stroke-linejoin="round" stroke-linecap="round"/>
<path d="M572.4 312.8 L572 312.7 L570.1 312.8" fill="none" stroke="#000" stroke-width="2.25119" stroke-linejoin="round" stroke-linecap="round"/>
<path d="M573.7 317.3 L574.2 317.4 L574.8 316.2" fill="none" stroke="#000" stroke-width="2.18266" stroke-linejoin="round" stroke-linecap="round"/>
<path d="M581.2 327.4 L580.3 328.7 L580.5 328.4" fill="none" stroke="#000" stroke-width="2.51388" stroke-linejoin="round" stroke-linecap="round"/>
<path d="M583.1 330.8 L583.7 329.8 L584.2 330.3" fill="none" stroke="#000" stroke-width="2.20352" stroke-linejoin="round" stroke-linecap="round"/>
<path d="M584.3 332.3 L584.5 332.7 L585.8 331.8" fill="none" stroke="#000" stroke-width="2.90144" stroke-linejoin="round" stroke-linecap="round"/>
<path d="M587.8 338.7 L586.3 337.9 L585.6 338.5" fill="none" stroke="#000" stroke-width="2.34727" stroke-linejoin="round" stroke-linecap="round"/>
<path d="M590 341.1 L591 340.9 L590.8 339.2" fill="none" stroke="#000" stroke-width="2.28499" stroke-linejoin="round" stroke-linecap="round"/>
<path d="M590.7 343.4 L588.9 343.1 L588 343.5" fill="none" stroke="#000" stroke-width="2.27375" stroke-linejoin="round" stroke-linecap="round"/>
<path d="M593 344.4 L593.1 344.5 L591.8 344.7" fill="none" stroke="#000" stroke-width="2.44969" stroke-linejoin="round" stroke-linecap="round"/>
<path d="M594.8 350.1 L594.2 350.3 L592.5 350.5" fill="none" stroke="#000" stroke-width="2.5713" stroke-linejoin="round" stroke-linecap="round"/>
<path d="M597.3 352 L596.3 352.9 L596.1 352.6" fill="none" stroke="#000" stroke-width="3.0873" stroke-linejoin="round" stroke-linecap="round"/>
<path d="M599.3 353.7 L598 354.1 L598.3 355.2" fill="none" stroke="#000" stroke-width="3.30594" stroke-linejoin="round" stroke-linecap="round"/>
<path d="M599.4 355.4 L599.2 355 L600.5 353.7" fill="none" stroke="#000" stroke-width="2.35421" stroke-linejoin="round" stroke-linecap="round"/>
<path d="M607.3 365.5 L607.1 364.7 L608 364.9" fill="none" stroke="#000" stroke-width="2.81442" stroke-linejoin="round" stroke-linecap="round"/>
<path d="M611.5 368.9 L611.2 370.8 L611.1 371.4" fill="none" stroke="#000" stroke-width="2.17491" stroke-linejoin="round" stroke-linecap="round"/>
<path d="M613.7 369.5 L613.6 368.3 L614.3 368.6" fill="none" stroke="#000" stroke-width="2.18036" stroke-linejoin="round" stroke-linecap="round"/>
<path d="M568.8 293.5 L572.6 291.8 L575.2 291.4" fill="none" stroke="#000" stroke-width="1.73227" stroke-linejoin="round" stroke-linecap="round"/>
<path d="M570 295.4 L571.6 295.4 L572.7 294.5" fill="none" stroke="#000" stroke-width="2.04678" stroke-linejoin="round" stroke-linecap="round"/>
<path d="M572.8 301.4 L574.9 301.1 L577.3 301.3" fill="none" stroke="#000" stroke-width="2.30986" stroke-linejoin="round" stroke-linecap="round"/>
<path d="M575 305.9 L578.5 304.1 L581.5 303.2" fill="none" stroke="#000" stroke-width="1.96439" stroke-linejoin="round" stroke-linecap="round"/>
<path d="M578.5 310.1 L580.8 310.8 L583.1 310.7" fill="none" stroke="#000" stroke-width="2.28116" stroke-linejoin="round" stroke-linecap="round"/>
<path d="M587.3 325.1 L588.7 324.4 L591 325.2" fill="none" stroke="#000" stroke-width="2.22126" stroke-linejoin="round" stroke-linecap="round"/>
<path d="M589.2 327 L593.2 326.3 L595.8 324.7" fill="none" stroke="#000" stroke-width="2.4385" stroke-linejoin="round" stroke-linecap="round"/>
<path d="M590.8 329.3 L592.9 326.2 L593.4 323.1" fill="none" stroke="#000" stroke-width="2.4993" stroke-linejoin="round" stroke-linecap="round"/>
<path d="M592.8 332.4 L594 332.7 L595.6 332.3" fill="none" stroke="#000" stroke-width="1.68173" stroke-linejoin="round" stroke-linecap="round"/>
<path d="M594.7 337.2 L596.5 335.7 L597.5 333.5" fill="none" stroke="#000" stroke-width="2.19143" stroke-linejoin="round" stroke-linecap="round"/>
<path d="M597.3 340.6 L598.9 340.2 L599.9 339.3" fill="none" stroke="#000" stroke-width="2.22626" stroke-linejoin="round" stroke-linecap="round"/>
<path d="M606 352.6 L609.2 351.5 L612 351.5" fill="none" stroke="#000" stroke-width="2.16515" stroke-linejoin="round" stroke-linecap="round"/>
<path d="M607.1 354.3 L610.1 351.5 L613.4 350.1" fill="none" stroke="#000" stroke-width="1.72199" stroke-linejoin="round" stroke-linecap="round"/>
<path d="M608.7 356.9 L609.8 356.4 L611.3 356.4" fill="none" stroke="#000" stroke-width="2.04132" stroke-linejoin="round" stroke-linecap="round"/>
<path d="M612.2 360.5 L613.9 357.7 L614.6 353.7" fill="none" stroke="#000" stroke-width="1.72584" stroke-linejoin="round" stroke-linecap="round"/>
<path d="M614.9 361.6 L616 360.4 L615.7 358.8" fill="none" stroke="#000" stroke-width="2.05635" stroke-linejoin="round" stroke-linecap="round"/>
<path d="M620.7 366.3 L621.1 362.5 L621.4 358.9" fill="none" stroke="#000" stroke-width="1.79382" stroke-linejoin="round" stroke-linecap="round"/>
<path d="M623.1 367.9 L625.9 365.6 L629.9 364.6" fill="none" stroke="#000" stroke-width="2.59151" stroke-linejoin="round" stroke-linecap="round"/>
<path d="M624.5 368.7 L626.6 366.4 L629 364.3" fill="none" stroke="#000" stroke-width="2.47105" stroke-linejoin="round" stroke-linecap="round"/>
<path d="M530.9 271.4 L531.7 274.1 L534.2 276.2 L534.6 277 L535.6 279.1 L536.8 282 L538.6 284.3 L540.5 285.6 L540.7 287.7 L541.7 290.2" fill="none" stroke="#000" stroke-width="2.2" stroke-linejoin="round" stroke-linecap="round"/>
<path d="M531.7 274.1 L532.8 272.2 L534.2 271.6" fill="none" stroke="#000" stroke-width="2.76732" stroke-linejoin="round" stroke-linecap="round"/>
<path d="M534.2 276.2 L535.7 274.5 L536 273.2" fill="none" stroke="#000" stroke-width="2.3962" stroke-linejoin="round" stroke-linecap="round"/>
<path d="M534.6 277 L534.8 276.2 L535.7 276.1" fill="none" stroke="#000" stroke-width="2.21758" stroke-linejoin="round" stroke-linecap="round"/>
<path d="M535.6 279.1 L534.7 279.2 L534.6 280.2" fill="none" stroke="#000" stroke-width="2.3932" stroke-linejoin="round" stroke-linecap="round"/>
<path d="M536.8 282 L536.2 283.6 L534.8 284.4" fill="none" stroke="#000" stroke-width="2.04366" stroke-linejoin="round" stroke-linecap="round"/>
<path d="M540.5 285.6 L541.6 285.3 L541.7 283.9" fill="none" stroke="#000" stroke-width="2.71351" stroke-linejoin="round" stroke-linecap="round"/>
<path d="M535.5 270.2 L538.2 271.8 L538.8 273.9 L540.4 276.5 L541.4 279.1 L542.9 280.1 L543.6 282.7 L545.3 284.2 L546.8 286.6 L547.9 288.1" fill="none" stroke="#000" stroke-width="2.2" stroke-linejoin="round" stroke-linecap="round"/>
<path d="M538.2 271.8 L539.7 271.6 L541.9 271.7" fill="none" stroke="#000" stroke-width="2.1711" stroke-linejoin="round" stroke-linecap="round"/>
<path d="M538.8 273.9 L539.2 273.7 L540.7 272.1" fill="none" stroke="#000" stroke-width="2.75599" stroke-linejoin="round" stroke-linecap="round"/>
<path d="M541.4 279.1 L541.1 277.4 L542.2 277.1" fill="none" stroke="#000" stroke-width="2.76977" stroke-linejoin="round" stroke-linecap="round"/>
<path d="M542.9 280.1 L541.4 281.2 L539.8 282.1" fill="none" stroke="#000" stroke-width="2.76354" stroke-linejoin="round" stroke-linecap="round"/>
<path d="M543.6 282.7 L545.6 281.9 L546.2 282.4" fill="none" stroke="#000" stroke-width="2.26212" stroke-linejoin="round" stroke-linecap="round"/>
<path d="M546.8 286.6 L544.9 287.6 L543.8 287.6" fill="none" stroke="#000" stroke-width="2.62121" stroke-linejoin="round" stroke-linecap="round"/>
<path d="M529.6 256.2 L531.8 258.2 L533.5 260.4 L535 262 L536 264.2 L538.8 265.9 L539.8 268.7 L541.8 270.8 L543.9 273.6 L545.1 274.5" fill="none" stroke="#000" stroke-width="2" stroke-linejoin="round" stroke-linecap="round"/>
<path d="M535 262 L532.7 261.8 L531.2 262.5" fill="none" stroke="#000" stroke-width="2.40274" stroke-linejoin="round" stroke-linecap="round"/>
<path d="M536 264.2 L534.8 264.9 L532.5 265.6" fill="none" stroke="#000" stroke-width="2.50672" stroke-linejoin="round" stroke-linecap="round"/>
<path d="M538.8 265.9 L540.2 265.2 L540.2 265.6" fill="none" stroke="#000" stroke-width="1.74256" stroke-linejoin="round" stroke-linecap="round"/>
<path d="M539.8 268.7 L538.2 268.7 L537.1 269.3" fill="none" stroke="#000" stroke-width="1.65574" stroke-linejoin="round" stroke-linecap="round"/>
<path d="M541.8 270.8 L541.6 270.6 L540.8 271.8" fill="none" stroke="#000" stroke-width="2.01052" stroke-linejoin="round" stroke-linecap="round"/>
<path d="M543.9 273.6 L543 275.3 L543.3 275.4" fill="none" stroke="#000" stroke-width="2.53274" stroke-linejoin="round" stroke-linecap="round"/>
<path d="M541.8 255 L541.8 256.3 L543.4 259.4 L545.6 260.4 L546.1 262.4 L548.1 264.3 L548.4 266.3 L549.2 268.1 L550.6 270.5 L552.4 272.6 L553.6 273.4 L555.7 276.2 L555.4 278.3 L558 280.3 L558.8 282.1 L560.3 283.5" fill="none" stroke="#000" stroke-width="2" stroke-linejoin="round" stroke-linecap="round"/>
<path d="M541.8 256.3 L543.2 254.8 L543.9 254.4" fill="none" stroke="#000" stroke-width="1.77074" stroke-linejoin="round" stroke-linecap="round"/>
<path d="M543.4 259.4 L541.9 259.5 L541.6 260.7" fill="none" stroke="#000" stroke-width="2.52086" stroke-linejoin="round" stroke-linecap="round"/>
<path d="M545.6 260.4 L546.1 261.4 L544.9 261.9" fill="none" stroke="#000" stroke-width="1.8879" stroke-linejoin="round" stroke-linecap="round"/>
<path d="M548.1 264.3 L546.8 265.2 L546.6 266" fill="none" stroke="#000" stroke-width="1.77357" stroke-linejoin="round" stroke-linecap="round"/>
<path d="M548.4 266.3 L546.9 266.1 L545 266.5" fill="none" stroke="#000" stroke-width="2.48288" stroke-linejoin="round" stroke-linecap="round"/>
<path d="M552.4 272.6 L552.2 273.7 L551.3 273.8" fill="none" stroke="#000" stroke-width="2.2221" stroke-linejoin="round" stroke-linecap="round"/>
<path d="M558 280.3 L558.7 279.5 L560.8 278" fill="none" stroke="#000" stroke-width="2.37505" stroke-linejoin="round" stroke-linecap="round"/>
<path d="M558.8 282.1 L557.4 283.2 L555.5 284.2" fill="none" stroke="#000" stroke-width="2.48336" stroke-linejoin="round" stroke-linecap="round"/>
<path d="M549.9 277.4 L550.5 280 L552.8 282 L553.8 284.1 L555.6 286.2 L556 288.6 L557.2 289.3 L558.8 291.7 L561.4 293.1 L562.8 294.6" fill="none" stroke="#000" stroke-width="2" stroke-linejoin="round" stroke-linecap="round"/>
<path d="M550.5 280 L549.2 279.4 L548.8 279.9" fill="none" stroke="#000" stroke-width="2.09273" stroke-linejoin="round" stroke-linecap="round"/>
<path d="M555.6 286.2 L555.6 284.6 L556.5 284.4" fill="none" stroke="#000" stroke-width="2.01321" stroke-linejoin="round" stroke-linecap="round"/>
<path d="M557.2 289.3 L558 289 L559.5 288.2" fill="none" stroke="#000" stroke-width="2.4591" stroke-linejoin="round" stroke-linecap="round"/>
<path d="M558.8 291.7 L561.3 290.9 L562.4 290.3" fill="none" stroke="#000" stroke-width="1.61877" stroke-linejoin="round" stroke-linecap="round"/>
<path d="M561.4 293.1 L561.7 293.6 L561.2 295" fill="none" stroke="#000" stroke-width="1.85974" stroke-linejoin="round" stroke-linecap="round"/>
<path d="M564.8 295.7 L565.4 297.2 L566.5 299.6 L567.2 303 L568.3 303.9 L569.7 306.3 L570.5 308.1 L571.5 311 L572.7 313.7 L574.2 314.7" fill="none" stroke="#000" stroke-width="2.8" stroke-linejoin="round" stroke-linecap="round"/>
<path d="M565.4 297.2 L566.7 296.6 L569.1 296.8" fill="none" stroke="#000" stroke-width="3.54812" stroke-linejoin="round" stroke-linecap="round"/>
<path d="M568.3 303.9 L568.8 303.6 L570.9 304.3" fill="none" stroke="#000" stroke-width="3.3981" stroke-linejoin="round" stroke-linecap="round"/>
<path d="M569.7 306.3 L571.7 306.6 L572.5 307.1" fill="none" stroke="#000" stroke-width="2.8519" stroke-linejoin="round" stroke-linecap="round"/>
<path d="M572.7 313.7 L574.1 314.1 L576 313" fill="none" stroke="#000" stroke-width="3.02402" stroke-linejoin="round" stroke-linecap="round"/>
<path d="M563 297.2 L563.1 300.5 L564 302.5 L565.7 305.2 L566.1 307.5 L567.7 310.2 L568 312.6" fill="none" stroke="#000" stroke-width="2.6" stroke-linejoin="round" stroke-linecap="round"/>
<path d="M563.1 300.5 L563.8 299.7 L565.6 299.5" fill="none" stroke="#000" stroke-width="2.19334" stroke-linejoin="round" stroke-linecap="round"/>
<path d="M565.7 305.2 L566.6 305.1 L566.4 304.4" fill="none" stroke="#000" stroke-width="3.2515" stroke-linejoin="round" stroke-linecap="round"/>
<path d="M567.7 310.2 L569.6 310.6 L570.7 310.3" fill="none" stroke="#000" stroke-width="3.18467" stroke-linejoin="round" stroke-linecap="round"/>
<path d="M523 239.4 L525 242.9 L525.8 244.9 L527.4 246.9 L530.2 250.4 L531.4 252.8 L533.6 255.1" fill="none" stroke="#000" stroke-width="2.4" stroke-linejoin="round" stroke-linecap="round"/>
<path d="M525.8 244.9 L526.6 244.5 L527 243.5" fill="none" stroke="#000" stroke-width="2.14293" stroke-linejoin="round" stroke-linecap="round"/>
<path d="M531.4 252.8 L531.1 251.9 L532 251.7" fill="none" stroke="#000" stroke-width="2.63535" stroke-linejoin="round" stroke-linecap="round"/>
<path d="M511.9 249.8 L513.8 251.5 L516.5 253.2 L519.8 254.5" fill="none" stroke="#000" stroke-width="2.4" stroke-linejoin="round" stroke-linecap="round"/>
<path d="M516.5 253.2 L516.8 254.4 L516.4 255.2" fill="none" stroke="#000" stroke-width="2.03037" stroke-linejoin="round" stroke-linecap="round"/>
<path d="M528.4 230.1 L531 233.2 L532.3 235.1 L534.1 237.6 L536.7 240.8 L538.5 243.2 L538.7 244.6 L541.7 247.6 L541.9 250.2 L544.4 252.1 L544.8 254.5" fill="none" stroke="#000" stroke-width="2" stroke-linejoin="round" stroke-linecap="round"/>
<path d="M532.3 235.1 L532.1 233.6 L533.2 233.7" fill="none" stroke="#000" stroke-width="1.60398" stroke-linejoin="round" stroke-linecap="round"/>
<path d="M534.1 237.6 L535 236.3 L535.7 235.6" fill="none" stroke="#000" stroke-width="2.3415" stroke-linejoin="round" stroke-linecap="round"/>
<path d="M536.7 240.8 L538.2 240 L538.8 239.4" fill="none" stroke="#000" stroke-width="1.87774" stroke-linejoin="round" stroke-linecap="round"/>
<path d="M541.7 247.6 L542.3 246.7 L544.5 246.7" fill="none" stroke="#000" stroke-width="2.25633" stroke-linejoin="round" stroke-linecap="round"/>
<path d="M541.9 250.2 L542.3 248.4 L542.8 248.2" fill="none" stroke="#000" stroke-width="2.5786" stroke-linejoin="round" stroke-linecap="round"/>
<path d="M633 250 L637 255 L641 261 L644 267 L648 273 L652 278 L653 283" fill="none" stroke="#000" stroke-width="2.4" stroke-linejoin="round" stroke-linecap="round"/>
<path d="M638 264 L645 265 L653 264 L661 263 L664 265" fill="none" stroke="#000" stroke-width="2.4" stroke-linejoin="round" stroke-linecap="round"/>
<path d="M616 272 L620 277 L623 282 L621 284" fill="none" stroke="#000" stroke-width="2.2" stroke-linejoin="round" stroke-linecap="round"/>
<path d="M612 281 L616 286 L620 292 L624 297 L628 298" fill="none" stroke="#000" stroke-width="2.4" stroke-linejoin="round" stroke-linecap="round"/>
<path d="M628 291 L634 294 L640 298 L635 297.4 L630 294Z" fill="none" stroke="#000" stroke-width="2" stroke-linejoin="round" stroke-linecap="round"/>
<path d="M605 314 L612 309 L618 306 L625 307 L631 308" fill="none" stroke="#000" stroke-width="2.4" stroke-linejoin="round" stroke-linecap="round"/>
<path d="M618 311 L625 315 L632 317 L633.4 315.4" fill="none" stroke="#000" stroke-width="2.4" stroke-linejoin="round" stroke-linecap="round"/>
<path d="M607 321 L615 322 L623 320 L629 318 L633 316" fill="none" stroke="#000" stroke-width="2.4" stroke-linejoin="round" stroke-linecap="round"/>
<path d="M605 314 L608 318 L607 321" fill="none" stroke="#000" stroke-width="2" stroke-linejoin="round" stroke-linecap="round"/>
<path d="M600 313 L607 315" fill="none" stroke="#000" stroke-width="2.2" stroke-linejoin="round" stroke-linecap="round"/>
<path d="M598 309 L602 305" fill="none" stroke="#000" stroke-width="2.2" stroke-linejoin="round" stroke-linecap="round"/>
<path d="M641 355 L643 360 L642 365" fill="none" stroke="#000" stroke-width="2.4" stroke-linejoin="round" stroke-linecap="round"/>
<path d="M590.9 369.6 L595.7 368 L601 369.6 L606.3 372.8 L612.7 375.5 L619.1 377.1 L625.5 378.7 L629.8 381.3 L630.3 385.6 L631.9 389.9 L635.1 393.6 L639.4 396.8 L643.7 399.5 L646.9 402.7 L648.7 406.1 L649.2 410.1 L646.9 412.3 L642.6 411.2 L638.3 409.6 L634.1 408 L630.9 405.9 L627.7 402.7 L624.5 400.5 L621.3 398.4 L617 395.2 L612.7 392 L609.5 388.3 L606.3 385.1 L603.1 381.9 L599.9 379.7 L597.3 377.1 L594.6 373.9 L591.9 371.2Z" fill="#fff" stroke="#000" stroke-width="2" stroke-linejoin="round" stroke-linecap="round"/>
<path d="M591.5 371.2 L594.1 374.3 L596.9 377.2 L600.5 379.6 L603.8 382.2 L604.8 383.7 L606.4 384.9 L608.6 386.6 L610.2 388.8 L610.4 389.8 L612.7 392.4 L614.4 393.8 L616.8 395.6 L619.7 397.2 L620.9 398.8 L624.4 401 L627.7 403.3 L630 404.8 L631.4 406.3" fill="none" stroke="#000" stroke-width="3" stroke-linejoin="round" stroke-linecap="round"/>
<path d="M596.9 377.2 L597.1 377 L598.9 377.1" fill="none" stroke="#000" stroke-width="3.02246" stroke-linejoin="round" stroke-linecap="round"/>
<path d="M600.5 379.6 L601.7 379.5 L601.7 379.3" fill="none" stroke="#000" stroke-width="2.66792" stroke-linejoin="round" stroke-linecap="round"/>
<path d="M603.8 382.2 L604.5 382 L604.4 381.2" fill="none" stroke="#000" stroke-width="3.87345" stroke-linejoin="round" stroke-linecap="round"/>
<path d="M612.7 392.4 L614.3 392 L614.6 390.5" fill="none" stroke="#000" stroke-width="3.65873" stroke-linejoin="round" stroke-linecap="round"/>
<path d="M614.4 393.8 L614.8 393.4 L615 392.8" fill="none" stroke="#000" stroke-width="3.2411" stroke-linejoin="round" stroke-linecap="round"/>
<path d="M619.7 397.2 L620.2 397.3 L621.6 395.9" fill="none" stroke="#000" stroke-width="2.48034" stroke-linejoin="round" stroke-linecap="round"/>
<path d="M620.9 398.8 L622.3 397.9 L622.3 396.9" fill="none" stroke="#000" stroke-width="3.72994" stroke-linejoin="round" stroke-linecap="round"/>
<path d="M624.4 401 L625 400.3 L625.1 399.9" fill="none" stroke="#000" stroke-width="3.57728" stroke-linejoin="round" stroke-linecap="round"/>
<path d="M627.7 403.3 L627.8 402.3 L629.5 400.7" fill="none" stroke="#000" stroke-width="3.41623" stroke-linejoin="round" stroke-linecap="round"/>
<path d="M625.5 383.5 L624.5 387.7 L625.5 392" fill="none" stroke="#000" stroke-width="2.4" stroke-linejoin="round" stroke-linecap="round"/>
<path d="M596.7 370.7 L601 372.3 L605.3 373.9" fill="none" stroke="#000" stroke-width="1.4" stroke-linejoin="round" stroke-linecap="round"/>
<path d="M598.8 359.1 L600.4 361 L603 361.9 L605 362.5 L607.7 364.1 L608.6 365 L612 365.5 L613.6 366.7 L615.1 368.4 L617.5 369.9 L620.8 371.5 L623.4 373.9 L626 375.5 L627.9 376.3 L630.6 378.2 L631.2 380.3" fill="none" stroke="#000" stroke-width="3" stroke-linejoin="round" stroke-linecap="round"/>
<path d="M600.4 361 L601 360.1 L600.6 359.5" fill="none" stroke="#000" stroke-width="3.24385" stroke-linejoin="round" stroke-linecap="round"/>
<path d="M607.7 364.1 L608.2 362.7 L608.9 362.5" fill="none" stroke="#000" stroke-width="2.58495" stroke-linejoin="round" stroke-linecap="round"/>
<path d="M608.6 365 L608.5 364.6 L609.3 363.9" fill="none" stroke="#000" stroke-width="2.50881" stroke-linejoin="round" stroke-linecap="round"/>
<path d="M612 365.5 L612.5 364.5 L611.9 362.6" fill="none" stroke="#000" stroke-width="3.07953" stroke-linejoin="round" stroke-linecap="round"/>
<path d="M617.5 369.9 L616.2 371.1 L616.2 371.8" fill="none" stroke="#000" stroke-width="2.61938" stroke-linejoin="round" stroke-linecap="round"/>
<path d="M626 375.5 L626.9 374.3 L626.4 374.4" fill="none" stroke="#000" stroke-width="3.50302" stroke-linejoin="round" stroke-linecap="round"/>
<path d="M627.9 376.3 L627.3 375.5 L628.2 374.5" fill="none" stroke="#000" stroke-width="3.59019" stroke-linejoin="round" stroke-linecap="round"/>
<path d="M630.6 378.2 L630.5 378.2 L631.3 377.1" fill="none" stroke="#000" stroke-width="2.52085" stroke-linejoin="round" stroke-linecap="round"/>
<path d="M601.2 359.7 L603.4 360.6 L606.9 361.5 L609 363.2 L611.7 363 L612.8 366.2 L616.4 365.9 L618.9 367.2 L620.6 369.1 L622.9 370 L625.5 372.4 L627.3 373.8 L630.8 374 L631.1 375.9 L633.7 378.3 L635 379.8" fill="none" stroke="#000" stroke-width="2.2" stroke-linejoin="round" stroke-linecap="round"/>
<path d="M609 363.2 L609.6 363.2 L610.8 361.8" fill="none" stroke="#000" stroke-width="2.01092" stroke-linejoin="round" stroke-linecap="round"/>
<path d="M611.7 363 L611.8 360.4 L611 359.2" fill="none" stroke="#000" stroke-width="2.28601" stroke-linejoin="round" stroke-linecap="round"/>
<path d="M612.8 366.2 L612.8 364.5 L613.3 363.9" fill="none" stroke="#000" stroke-width="2.77398" stroke-linejoin="round" stroke-linecap="round"/>
<path d="M616.4 365.9 L617.6 364.3 L618.3 362.7" fill="none" stroke="#000" stroke-width="2.33542" stroke-linejoin="round" stroke-linecap="round"/>
<path d="M620.6 369.1 L621.1 367.8 L620.9 366.6" fill="none" stroke="#000" stroke-width="2.18883" stroke-linejoin="round" stroke-linecap="round"/>
<path d="M622.9 370 L622.5 368 L623 366.2" fill="none" stroke="#000" stroke-width="2.02146" stroke-linejoin="round" stroke-linecap="round"/>
<path d="M625.5 372.4 L626.1 370.1 L626.2 367.8" fill="none" stroke="#000" stroke-width="2.01185" stroke-linejoin="round" stroke-linecap="round"/>
<path d="M631.1 375.9 L631.7 373.5 L632.8 371.3" fill="none" stroke="#000" stroke-width="1.86596" stroke-linejoin="round" stroke-linecap="round"/>
<path d="M632.6 379.7 L633.6 382.4 L635.8 384.3 L636.6 386.2 L638.1 388.4 L641.1 389.7 L641.9 391.7 L644.8 392.2 L647 393.1 L651.8 391.6 L651.6 394.9 L652.9 395.9 L654.2 401.1 L656.3 401.9 L658.2 404.4 L659.4 407.6 L662.2 408.5" fill="none" stroke="#000" stroke-width="2.6" stroke-linejoin="round" stroke-linecap="round"/>
<path d="M633.6 382.4 L635.9 382.6 L638.3 382.5" fill="none" stroke="#000" stroke-width="3.35775" stroke-linejoin="round" stroke-linecap="round"/>
<path d="M635.8 384.3 L636.6 383.4 L637.4 383.4" fill="none" stroke="#000" stroke-width="2.52203" stroke-linejoin="round" stroke-linecap="round"/>
<path d="M636.6 386.2 L638.2 383.3 L640.1 381.9" fill="none" stroke="#000" stroke-width="3.16847" stroke-linejoin="round" stroke-linecap="round"/>
<path d="M641.9 391.7 L642.1 388.6 L643.6 387" fill="none" stroke="#000" stroke-width="2.73742" stroke-linejoin="round" stroke-linecap="round"/>
<path d="M644.8 392.2 L646.1 391 L645.8 389.9" fill="none" stroke="#000" stroke-width="2.53015" stroke-linejoin="round" stroke-linecap="round"/>
<path d="M647 393.1 L646.7 391.2 L645.4 388.3" fill="none" stroke="#000" stroke-width="3.29046" stroke-linejoin="round" stroke-linecap="round"/>
<path d="M651.6 394.9 L652.4 394.3 L653.6 393.7" fill="none" stroke="#000" stroke-width="3.20551" stroke-linejoin="round" stroke-linecap="round"/>
<path d="M654.2 401.1 L656.2 401 L657.2 399.9" fill="none" stroke="#000" stroke-width="2.8539" stroke-linejoin="round" stroke-linecap="round"/>
<path d="M658.2 404.4 L660 402.2 L660.9 399.9" fill="none" stroke="#000" stroke-width="3.28894" stroke-linejoin="round" stroke-linecap="round"/>
<path d="M631.9 367.5 L633 372.8 L630.9 378.1" fill="none" stroke="#000" stroke-width="3" stroke-linejoin="round" stroke-linecap="round"/>
<path d="M638.9 374.9 L636.7 377.6 L635.1 379.7" fill="none" stroke="#000" stroke-width="3" stroke-linejoin="round" stroke-linecap="round"/>
<path d="M643.7 381.3 L642.6 387.7 L645.8 390.9" fill="none" stroke="#000" stroke-width="3" stroke-linejoin="round" stroke-linecap="round"/>
<path d="M652.2 389.9 L650.9 393.1 L650.1 395.7" fill="none" stroke="#000" stroke-width="3" stroke-linejoin="round" stroke-linecap="round"/>
<path d="M625 365.3 L625.5 369.6" fill="none" stroke="#000" stroke-width="2.6" stroke-linejoin="round" stroke-linecap="round"/>
<path d="M642.6 360 L643.1 363.2" fill="none" stroke="#000" stroke-width="2.8" stroke-linejoin="round" stroke-linecap="round"/>
<path d="M630.9 384 L633.5 386.9 L636.7 390.1 L640.5 392 L644.7 393.3 L649 393.1 L651.7 391.1" fill="none" stroke="#000" stroke-width="1.8" stroke-linejoin="round" stroke-linecap="round"/>
<path d="M631.9 410.1 L636.2 413.3 L642.6 415.5 L649 415.5 L653.3 413.3" fill="none" stroke="#000" stroke-width="1.8" stroke-linejoin="round" stroke-linecap="round"/>
<path d="M631.9 411.4 L636.2 415 L642.6 417.2 L649 417.2 L654.3 415.5" fill="none" stroke="#000" stroke-width="1.6" stroke-linejoin="round" stroke-linecap="round"/>
<path d="M656.8 407.6 L658 409.4 L660.2 411.6 L660.4 413.1 L662.2 416.2 L663 417.7 L663.4 419.6 L664.9 421.8 L665.1 425.3" fill="none" stroke="#000" stroke-width="3.4" stroke-linejoin="round" stroke-linecap="round"/>
<path d="M660.2 411.6 L660.6 411 L661.1 411.2" fill="none" stroke="#000" stroke-width="3.3637" stroke-linejoin="round" stroke-linecap="round"/>
<path d="M660.4 413.1 L659.5 413.8 L658.8 415" fill="none" stroke="#000" stroke-width="4.13007" stroke-linejoin="round" stroke-linecap="round"/>
<path d="M662.2 416.2 L661 416.7 L660.9 417.3" fill="none" stroke="#000" stroke-width="4.15187" stroke-linejoin="round" stroke-linecap="round"/>
<path d="M663 417.7 L663 417.7 L664.3 417" fill="none" stroke="#000" stroke-width="3.42569" stroke-linejoin="round" stroke-linecap="round"/>
<path d="M663.4 419.6 L663.7 418.3 L665.4 418.4" fill="none" stroke="#000" stroke-width="3.91154" stroke-linejoin="round" stroke-linecap="round"/>
<path d="M664.9 421.8 L664.3 422 L663.9 422.4" fill="none" stroke="#000" stroke-width="3.54762" stroke-linejoin="round" stroke-linecap="round"/>
<path d="M654.3 406.9 L655.9 410.1 L654.9 413.3" fill="none" stroke="#000" stroke-width="2.6" stroke-linejoin="round" stroke-linecap="round"/>
<path d="M659.7 395.2 L660.2 393.6" fill="none" stroke="#000" stroke-width="2.2" stroke-linejoin="round" stroke-linecap="round"/>
<path d="M631.9 411.2 L633 415.5 L634.6 419.7 L635.7 424" fill="none" stroke="#000" stroke-width="1.8" stroke-linejoin="round" stroke-linecap="round"/>
<path d="M639 425 L641 432 L643 439 L644 445 L643 450 L649 451 L644 453 L644.6 461 L644 471" fill="none" stroke="#000" stroke-width="1.8" stroke-linejoin="round" stroke-linecap="round"/>
<path d="M642 440 L645 441" fill="none" stroke="#000" stroke-width="2.6" stroke-linejoin="round" stroke-linecap="round"/>
<path d="M641 434 L644 435" fill="none" stroke="#000" stroke-width="2.4" stroke-linejoin="round" stroke-linecap="round"/>
<path d="M160 296 L163 291 L168 288 L174 286 L177 287 L177.4 291 L174 294 L168 296 L164 299 L160.6 298.6Z" fill="#fff" stroke="#000" stroke-width="1.5" stroke-linejoin="round" stroke-linecap="round"/>
<path d="M177 285 L183 282 L188 279 L189 275 L194 271 L200 267 L205 265.6 L209 268 L211 271 L207 275 L204 277 L201 275 L198 277 L195 280 L191 282 L188 284 L185 286 L181 288 L178 287Z" fill="#fff" stroke="#000" stroke-width="1.5" stroke-linejoin="round" stroke-linecap="round"/>
<path d="M209 268 L211 267 L213 263 L217 258 L223 254 L229 250 L233 248 L234.4 244" fill="none" stroke="#000" stroke-width="1.5" stroke-linejoin="round" stroke-linecap="round"/>
<path d="M257 245.1 L255.3 246.8 L252.8 248.5 L251 249.5 L248.9 250.8 L246.7 252.8 L245.4 254.5 L243.1 255.8 L240.9 257.1 L239.2 258.8 L236.8 262 L234.8 264.5 L233.1 265.8 L231.1 266.7 L228.2 267.3 L224.9 267.6 L221.6 268.9 L218.5 269.9 L215.4 271.5 L211.9 269.6 L208.8 267.6" fill="none" stroke="#000" stroke-width="1.6" stroke-linejoin="round" stroke-linecap="round"/>
<path d="M255.3 246.8 L254.2 246.1 L254.5 245.4" fill="none" stroke="#000" stroke-width="1.61803" stroke-linejoin="round" stroke-linecap="round"/>
<path d="M252.8 248.5 L251.6 248.5 L251.7 248" fill="none" stroke="#000" stroke-width="1.79955" stroke-linejoin="round" stroke-linecap="round"/>
<path d="M248.9 250.8 L248.4 250 L248.9 249.6" fill="none" stroke="#000" stroke-width="2.01018" stroke-linejoin="round" stroke-linecap="round"/>
<path d="M246.7 252.8 L246.9 251.7 L246 250.8" fill="none" stroke="#000" stroke-width="1.64007" stroke-linejoin="round" stroke-linecap="round"/>
<path d="M239.2 258.8 L238.3 257.6 L238.2 257.3" fill="none" stroke="#000" stroke-width="1.95297" stroke-linejoin="round" stroke-linecap="round"/>
<path d="M234.8 264.5 L234.1 263.5 L234.1 263.7" fill="none" stroke="#000" stroke-width="1.60154" stroke-linejoin="round" stroke-linecap="round"/>
<path d="M233.1 265.8 L233.2 264 L232.9 263.6" fill="none" stroke="#000" stroke-width="1.75884" stroke-linejoin="round" stroke-linecap="round"/>
<path d="M231.1 266.7 L230.9 265.6 L230.7 266" fill="none" stroke="#000" stroke-width="1.50382" stroke-linejoin="round" stroke-linecap="round"/>
<path d="M228.2 267.3 L228.1 266.7 L227.8 265.2" fill="none" stroke="#000" stroke-width="1.86027" stroke-linejoin="round" stroke-linecap="round"/>
<path d="M224.9 267.6 L224 267.4 L224.3 267.1" fill="none" stroke="#000" stroke-width="1.5517" stroke-linejoin="round" stroke-linecap="round"/>
<path d="M218.5 269.9 L218.1 268.6 L217.3 268.7" fill="none" stroke="#000" stroke-width="1.55532" stroke-linejoin="round" stroke-linecap="round"/>
<path d="M215.4 271.5 L216.4 270.7 L216.2 269.8" fill="none" stroke="#000" stroke-width="2.03039" stroke-linejoin="round" stroke-linecap="round"/>
<path d="M211.9 269.6 L212.5 269.4 L212.1 268.7" fill="none" stroke="#000" stroke-width="1.77326" stroke-linejoin="round" stroke-linecap="round"/>
<path d="M115 327 L114 324 L117 322 L119 325 L116 328Z" fill="#fff" stroke="#000" stroke-width="1.5" stroke-linejoin="round" stroke-linecap="round"/>
<path d="M119 320 L120 317 L124 316 L126 319 L123 322 L120 322Z" fill="#fff" stroke="#000" stroke-width="1.5" stroke-linejoin="round" stroke-linecap="round"/>
<path d="M134 310 L136 307.4 L140 308.6 L140 312 L136 313Z" fill="#fff" stroke="#000" stroke-width="1.5" stroke-linejoin="round" stroke-linecap="round"/>
<path d="M146 304 L148 303 L149 305 L147 306Z" fill="#fff" stroke="#000" stroke-width="1.5" stroke-linejoin="round" stroke-linecap="round"/>
<path d="M126 321 L130 319 L134 316 L138 314 L142 312 L145 309" fill="none" stroke="#000" stroke-width="2.4" stroke-linejoin="round" stroke-linecap="round"/>
<path d="M128 319.4 L131 321" fill="none" stroke="#000" stroke-width="2.2" stroke-linejoin="round" stroke-linecap="round"/>
<path d="M137 315 L140 316" fill="none" stroke="#000" stroke-width="2.2" stroke-linejoin="round" stroke-linecap="round"/>
<path d="M151 302 L154 304" fill="none" stroke="#000" stroke-width="2.4" stroke-linejoin="round" stroke-linecap="round"/>
<path d="M185 298 L188 300" fill="none" stroke="#000" stroke-width="3" stroke-linejoin="round" stroke-linecap="round"/>
<path d="M179 292 L181 294" fill="none" stroke="#000" stroke-width="2.4" stroke-linejoin="round" stroke-linecap="round"/>
<path d="M189 287 L192 290" fill="none" stroke="#000" stroke-width="2.2" stroke-linejoin="round" stroke-linecap="round"/>
<path d="M208 280.6 L211 280 L212 283 L209 284Z" fill="#fff" stroke="#000" stroke-width="1.6" stroke-linejoin="round" stroke-linecap="round"/>
<path d="M215 288 L217 285 L219 282" fill="none" stroke="#000" stroke-width="3" stroke-linejoin="round" stroke-linecap="round"/>
<path d="M221.4 282.4 L223.6 285.6" fill="none" stroke="#000" stroke-width="3" stroke-linejoin="round" stroke-linecap="round"/>
<path d="M221 272 L223 275" fill="none" stroke="#000" stroke-width="2.6" stroke-linejoin="round" stroke-linecap="round"/>
<path d="M235 260.6 L237.4 262.6 L239 265" fill="none" stroke="#000" stroke-width="2.2" stroke-linejoin="round" stroke-linecap="round"/>
<path d="M100 330.4 L104 331.2" fill="none" stroke="#000" stroke-width="2.6" stroke-linejoin="round" stroke-linecap="round"/>
<path d="M199 275 L201 278 L204 277" fill="none" stroke="#000" stroke-width="1.4" stroke-linejoin="round" stroke-linecap="round"/>
<path d="M209 268 L211 265 L213 270" fill="none" stroke="#000" stroke-width="1.4" stroke-linejoin="round" stroke-linecap="round"/>
<path d="M490 201.9 L494.4 205 L498.8 208.8 L501.2 213.1" fill="none" stroke="#0a3cff" stroke-width="1.6" stroke-linecap="round"/>
<path d="M508.1 192.5 L509.8 198.8 L511.6 205 L513.5 211.2 L515.2 217.5 L516.2 221.9" fill="none" stroke="#0a3cff" stroke-width="1.3" stroke-linecap="round"/>
<path d="M496.2 217.8 L501.2 217 L507.5 217.5 L512.5 219.8 L515.8 221" fill="none" stroke="#0a3cff" stroke-width="1.8" stroke-linecap="round"/>
<path d="M515.8 221.2 L516.2 230 L516.9 238.8 L517.5 247.5 L518.1 255" fill="none" stroke="#0a3cff" stroke-width="1.3" stroke-linecap="round"/>
<path d="M526.2 221.2 L528.1 225.6 L530 230 L531.5 235 L530 238.8 L533.1 242.5" fill="none" stroke="#0a3cff" stroke-width="1.3" stroke-linecap="round"/>
<path d="M518.8 243.8 L520 250 L521.2 257.5" fill="none" stroke="#0a3cff" stroke-width="1.2" stroke-linecap="round"/>
<path d="M535 255 L540 261.2 L545 268.8 L547.5 272.5" fill="none" stroke="#0a3cff" stroke-width="1.2" stroke-linecap="round"/>
</g>
<rect x="99.5" y="127.3" width="567" height="344" fill="none" stroke="#000" stroke-width="1.3"/>
<text x="94.8" y="407.3" font-size="17.4" text-anchor="end" textLength="41.2" lengthAdjust="spacingAndGlyphs">49°N</text>
<text x="94.8" y="332.1" font-size="17.4" text-anchor="end" textLength="41.2" lengthAdjust="spacingAndGlyphs">53°N</text>
<text x="94.8" y="249.7" font-size="17.4" text-anchor="end" textLength="41.2" lengthAdjust="spacingAndGlyphs">57°N</text>
<text x="94.8" y="157.8" font-size="17.4" text-anchor="end" textLength="41.2" lengthAdjust="spacingAndGlyphs">61°N</text>
<text x="159.3" y="488.6" font-size="17.4" text-anchor="middle" textLength="54.2" lengthAdjust="spacingAndGlyphs">165°W</text>
<text x="218.4" y="488.6" font-size="17.4" text-anchor="middle" textLength="54.2" lengthAdjust="spacingAndGlyphs">160°W</text>
<text x="277.4" y="488.6" font-size="17.4" text-anchor="middle" textLength="54.2" lengthAdjust="spacingAndGlyphs">155°W</text>
<text x="336.5" y="488.6" font-size="17.4" text-anchor="middle" textLength="54.2" lengthAdjust="spacingAndGlyphs">150°W</text>
<text x="395.6" y="488.6" font-size="17.4" text-anchor="middle" textLength="54.2" lengthAdjust="spacingAndGlyphs">145°W</text>
<text x="454.6" y="488.6" font-size="17.4" text-anchor="middle" textLength="54.2" lengthAdjust="spacingAndGlyphs">140°W</text>
<text x="513.7" y="488.6" font-size="17.4" text-anchor="middle" textLength="54.2" lengthAdjust="spacingAndGlyphs">135°W</text>
<text x="572.7" y="488.6" font-size="17.4" text-anchor="middle" textLength="54.2" lengthAdjust="spacingAndGlyphs">130°W</text>
<text x="631.8" y="488.6" font-size="17.4" text-anchor="middle" textLength="54.2" lengthAdjust="spacingAndGlyphs">125°W</text>
<text x="383.5" y="98" font-size="20.8" text-anchor="middle" textLength="281" lengthAdjust="spacingAndGlyphs">GOES SST 4 Day Composite</text>
<text x="386.4" y="120.3" font-size="20.8" text-anchor="middle" textLength="388" lengthAdjust="spacingAndGlyphs">in the Gulf of Alaska ending 20260124</text>
<rect x="690.5" y="59.4" width="24" height="479.8" fill="url(#jet)" stroke="#000" stroke-width="1.3"/>
<line x1="708.8" y1="539.2" x2="714.5" y2="539.2" stroke="#000" stroke-width="0.8"/>
<text x="719.8" y="546.4" font-size="17.4" textLength="23" lengthAdjust="spacingAndGlyphs">−2</text>
<line x1="708.8" y1="510.1" x2="714.5" y2="510.1" stroke="#000" stroke-width="0.8"/>
<text x="719.8" y="517.3" font-size="17.4" textLength="10.4" lengthAdjust="spacingAndGlyphs">0</text>
<line x1="708.8" y1="437.4" x2="714.5" y2="437.4" stroke="#000" stroke-width="0.8"/>
<text x="719.8" y="444.6" font-size="17.4" textLength="10.4" lengthAdjust="spacingAndGlyphs">5</text>
<line x1="708.8" y1="364.7" x2="714.5" y2="364.7" stroke="#000" stroke-width="0.8"/>
<text x="719.8" y="371.9" font-size="17.4" textLength="21" lengthAdjust="spacingAndGlyphs">10</text>
<line x1="708.8" y1="292.0" x2="714.5" y2="292.0" stroke="#000" stroke-width="0.8"/>
<text x="719.8" y="299.2" font-size="17.4" textLength="21" lengthAdjust="spacingAndGlyphs">15</text>
<line x1="708.8" y1="219.3" x2="714.5" y2="219.3" stroke="#000" stroke-width="0.8"/>
<text x="719.8" y="226.5" font-size="17.4" textLength="21" lengthAdjust="spacingAndGlyphs">20</text>
<line x1="708.8" y1="146.6" x2="714.5" y2="146.6" stroke="#000" stroke-width="0.8"/>
<text x="719.8" y="153.8" font-size="17.4" textLength="21" lengthAdjust="spacingAndGlyphs">25</text>
<line x1="708.8" y1="59.4" x2="714.5" y2="59.4" stroke="#000" stroke-width="0.8"/>
<text x="719.8" y="66.6" font-size="17.4" textLength="21" lengthAdjust="spacingAndGlyphs">31</text>
<text transform="translate(760 299) rotate(-90)" font-size="17.4" text-anchor="middle" textLength="51" lengthAdjust="spacingAndGlyphs">Deg C</text>
</svg></body></html>
